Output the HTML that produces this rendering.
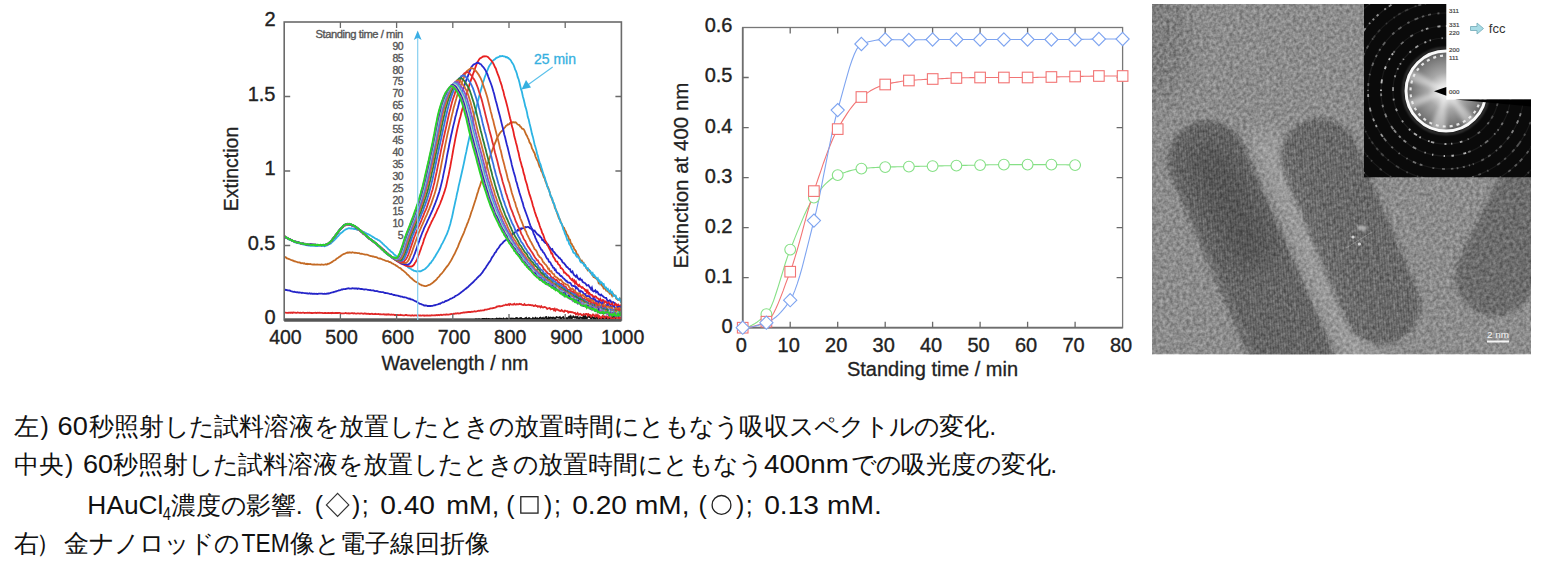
<!DOCTYPE html>
<html><head><meta charset="utf-8"><style>
html,body{margin:0;padding:0;background:#fff;width:1541px;height:565px;overflow:hidden;position:relative;font-family:"Liberation Sans",sans-serif}
.ln{position:absolute;font-size:25px;line-height:36px;color:#111;white-space:nowrap}
.ln sub{font-size:16px;vertical-align:-5px;line-height:0}
</style></head><body>
<svg width="1541" height="565" viewBox="0 0 1541 565" style="position:absolute;left:0;top:0" font-family='"Liberation Sans", sans-serif'><defs>
<clipPath id="clipL"><rect x="284.2" y="22.0" width="337.2" height="298.0"/></clipPath>
<clipPath id="clipT"><rect x="1152.0" y="4.0" width="379.0" height="350.5"/></clipPath>
<clipPath id="clipR"><circle cx="1446" cy="91" r="41"/></clipPath>
<clipPath id="clipI"><rect x="1364" y="4" width="167" height="173.5"/></clipPath>
<filter id="tn" x="0" y="0" width="100%" height="100%" color-interpolation-filters="sRGB"><feTurbulence type="fractalNoise" baseFrequency="0.3" numOctaves="2" seed="9"/><feColorMatrix type="matrix" values="1.6 0 0 0 -0.3  1.6 0 0 0 -0.3  1.6 0 0 0 -0.3  0 0 0 0 1"/></filter>
<filter id="b4" filterUnits="userSpaceOnUse" x="1100" y="0" width="500" height="400"><feGaussianBlur stdDeviation="2.2"/></filter>
<filter id="b10" filterUnits="userSpaceOnUse" x="1100" y="0" width="500" height="400"><feGaussianBlur stdDeviation="10"/></filter>
<filter id="b2" filterUnits="userSpaceOnUse" x="1100" y="0" width="500" height="400"><feGaussianBlur stdDeviation="1.2"/></filter>
<radialGradient id="glow" cx="0.5" cy="0.5" r="0.5"><stop offset="0" stop-color="#fff"/><stop offset="0.2" stop-color="#e0e0e0"/><stop offset="0.45" stop-color="#a8a8a8"/><stop offset="0.8" stop-color="#7a7a7a"/><stop offset="1" stop-color="#5a5a5a"/></radialGradient>
<pattern id="lat" width="2.6" height="2.6" patternUnits="userSpaceOnUse" patternTransform="rotate(-4)"><rect width="1.1" height="2.6" fill="#000"/></pattern>
</defs><g clip-path="url(#clipL)"><path d="M284.2 319.4 L285.0 319.4 L285.9 319.4 L286.7 319.4 L287.6 319.4 L288.4 319.4 L289.3 319.4 L290.1 319.4 L290.9 319.4 L291.8 319.4 L292.6 319.4 L293.5 319.4 L294.3 319.4 L295.2 319.4 L296.0 319.4 L296.8 319.4 L297.7 319.4 L298.5 319.4 L299.4 319.4 L300.2 319.4 L301.1 319.4 L301.9 319.4 L302.7 319.4 L303.6 319.4 L304.4 319.4 L305.3 319.4 L306.1 319.4 L307.0 319.4 L307.8 319.4 L308.6 319.4 L309.5 319.4 L310.3 319.4 L311.2 319.4 L312.0 319.4 L312.9 319.4 L313.7 319.4 L314.5 319.4 L315.4 319.4 L316.2 319.4 L317.1 319.4 L317.9 319.4 L318.8 319.4 L319.6 319.4 L320.4 319.4 L321.3 319.4 L322.1 319.4 L323.0 319.4 L323.8 319.4 L324.7 319.4 L325.5 319.4 L326.3 319.4 L327.2 319.4 L328.0 319.4 L328.9 319.4 L329.7 319.4 L330.6 319.4 L331.4 319.4 L332.3 319.4 L333.1 319.4 L333.9 319.4 L334.8 319.4 L335.6 319.4 L336.5 319.4 L337.3 319.4 L338.2 319.4 L339.0 319.4 L339.8 319.4 L340.7 319.4 L341.5 319.4 L342.4 319.4 L343.2 319.4 L344.1 319.4 L344.9 319.4 L345.7 319.4 L346.6 319.4 L347.4 319.4 L348.3 319.4 L349.1 319.4 L350.0 319.4 L350.8 319.4 L351.6 319.4 L352.5 319.4 L353.3 319.4 L354.2 319.4 L355.0 319.4 L355.9 319.4 L356.7 319.4 L357.5 319.4 L358.4 319.4 L359.2 319.4 L360.1 319.4 L360.9 319.4 L361.8 319.4 L362.6 319.4 L363.4 319.4 L364.3 319.4 L365.1 319.4 L366.0 319.4 L366.8 319.4 L367.7 319.4 L368.5 319.4 L369.3 319.4 L370.2 319.4 L371.0 319.4 L371.9 319.4 L372.7 319.4 L373.6 319.4 L374.4 319.4 L375.2 319.4 L376.1 319.4 L376.9 319.4 L377.8 319.4 L378.6 319.4 L379.5 319.4 L380.3 319.4 L381.1 319.4 L382.0 319.4 L382.8 319.4 L383.7 319.4 L384.5 319.4 L385.4 319.4 L386.2 319.4 L387.0 319.4 L387.9 319.4 L388.7 319.4 L389.6 319.4 L390.4 319.4 L391.3 319.4 L392.1 319.4 L392.9 319.4 L393.8 319.4 L394.6 319.4 L395.5 319.4 L396.3 319.4 L397.2 319.4 L398.0 319.4 L398.8 319.4 L399.7 319.4 L400.5 319.4 L401.4 319.4 L402.2 319.4 L403.1 319.4 L403.9 319.4 L404.7 319.4 L405.6 319.4 L406.4 319.4 L407.3 319.4 L408.1 319.4 L409.0 319.4 L409.8 319.4 L410.6 319.4 L411.5 319.4 L412.3 319.4 L413.2 319.4 L414.0 319.4 L414.9 319.4 L415.7 319.4 L416.6 319.4 L417.4 319.4 L418.2 319.4 L419.1 319.4 L419.9 319.4 L420.8 319.4 L421.6 319.4 L422.5 319.4 L423.3 319.4 L424.1 319.4 L425.0 319.4 L425.8 319.4 L426.7 319.4 L427.5 319.4 L428.4 319.4 L429.2 319.4 L430.0 319.4 L430.9 319.4 L431.7 319.4 L432.6 319.4 L433.4 319.4 L434.3 319.4 L435.1 319.4 L435.9 319.4 L436.8 319.4 L437.6 319.4 L438.5 319.4 L439.3 319.4 L440.2 319.4 L441.0 319.4 L441.8 319.4 L442.7 319.4 L443.5 319.4 L444.4 319.4 L445.2 319.4 L446.1 319.4 L446.9 319.4 L447.7 319.4 L448.6 319.4 L449.4 319.4 L450.3 319.4 L451.1 319.4 L452.0 319.4 L452.8 319.4 L453.6 319.4 L454.5 319.4 L455.3 319.4 L456.2 319.4 L457.0 319.4 L457.9 319.4 L458.7 319.4 L459.5 319.4 L460.4 319.4 L461.2 319.4 L462.1 319.4 L462.9 319.4 L463.8 319.4 L464.6 319.4 L465.4 319.4 L466.3 319.4 L467.1 319.4 L468.0 319.3 L468.8 319.4 L469.7 319.3 L470.5 319.4 L471.3 319.4 L472.2 319.3 L473.0 319.3 L473.9 319.4 L474.7 319.3 L475.6 319.2 L476.4 319.2 L477.2 319.4 L478.1 319.2 L478.9 319.2 L479.8 319.2 L480.6 319.4 L481.5 319.3 L482.3 318.9 L483.1 318.9 L484.0 318.9 L484.8 318.9 L485.7 319.1 L486.5 318.8 L487.4 319.2 L488.2 319.0 L489.0 319.0 L489.9 319.1 L490.7 319.2 L491.6 319.1 L492.4 318.9 L493.3 319.2 L494.1 319.1 L494.9 319.1 L495.8 319.1 L496.6 318.6 L497.5 318.9 L498.3 319.4 L499.2 318.6 L500.0 318.9 L500.9 318.6 L501.7 318.9 L502.5 319.1 L503.4 318.4 L504.2 319.2 L505.1 319.1 L505.9 318.8 L506.8 318.3 L507.6 319.3 L508.4 319.0 L509.3 318.7 L510.1 318.5 L511.0 319.3 L511.8 318.4 L512.7 318.6 L513.5 318.7 L514.3 318.8 L515.2 318.9 L516.0 318.1 L516.9 317.9 L517.7 319.1 L518.6 319.1 L519.4 318.3 L520.2 318.2 L521.1 318.0 L521.9 318.9 L522.8 319.0 L523.6 319.3 L524.5 318.7 L525.3 318.4 L526.1 317.8 L527.0 319.3 L527.8 319.2 L528.7 318.2 L529.5 318.1 L530.4 319.2 L531.2 319.2 L532.0 319.3 L532.9 318.1 L533.7 318.8 L534.6 318.9 L535.4 318.0 L536.3 319.1 L537.1 318.3 L537.9 319.2 L538.8 319.3 L539.6 317.9 L540.5 317.6 L541.3 318.4 L542.2 318.5 L543.0 317.8 L543.8 319.2 L544.7 318.7 L545.5 317.3 L546.4 317.1 L547.2 319.3 L548.1 319.4 L548.9 317.5 L549.7 318.3 L550.6 317.5 L551.4 317.8 L552.3 318.3 L553.1 317.6 L554.0 317.8 L554.8 319.4 L555.6 318.2 L556.5 317.0 L557.3 317.3 L558.2 317.6 L559.0 317.7 L559.9 317.1 L560.7 318.6 L561.5 318.3 L562.4 317.6 L563.2 317.0 L564.1 318.5 L564.9 318.9 L565.8 318.6 L566.6 318.1 L567.4 319.1 L568.3 317.5 L569.1 316.7 L570.0 318.3 L570.8 316.4 L571.7 318.1 L572.5 317.7 L573.3 316.3 L574.2 317.1 L575.0 317.8 L575.9 316.9 L576.7 317.9 L577.6 317.0 L578.4 318.7 L579.2 319.2 L580.1 317.4 L580.9 317.7 L581.8 317.9 L582.6 319.0 L583.5 316.3 L584.3 319.0 L585.2 316.2 L586.0 318.4 L586.8 318.5 L587.7 316.3 L588.5 316.3 L589.4 317.1 L590.2 316.3 L591.1 318.8 L591.9 316.6 L592.7 317.4 L593.6 318.4 L594.4 317.4 L595.3 319.0 L596.1 316.8 L597.0 317.3 L597.8 319.1 L598.6 318.7 L599.5 318.4 L600.3 317.9 L601.2 318.6 L602.0 318.4 L602.9 317.6 L603.7 318.9 L604.5 316.9 L605.4 317.9 L606.2 318.1 L607.1 317.5 L607.9 318.9 L608.8 316.5 L609.6 319.0 L610.4 317.6 L611.3 316.2 L612.1 318.9 L613.0 317.1 L613.8 316.2 L614.7 316.1 L615.5 318.3 L616.3 317.4 L617.2 316.3 L618.0 317.4 L618.9 316.5 L619.7 317.1 L620.6 319.3 L621.4 318.3" stroke="#111" stroke-width="1.8" fill="none"/><path d="M284.2 312.5 L285.0 312.7 L285.9 312.7 L286.7 312.8 L287.6 312.9 L288.4 312.6 L289.3 312.8 L290.1 312.5 L290.9 313.0 L291.8 312.5 L292.6 312.9 L293.5 312.5 L294.3 312.7 L295.2 312.6 L296.0 312.8 L296.8 312.9 L297.7 312.5 L298.5 312.7 L299.4 312.9 L300.2 312.7 L301.1 312.9 L301.9 312.8 L302.7 312.7 L303.6 312.7 L304.4 313.0 L305.3 312.9 L306.1 312.8 L307.0 312.8 L307.8 312.6 L308.6 312.8 L309.5 312.6 L310.3 312.9 L311.2 313.0 L312.0 312.9 L312.9 313.1 L313.7 312.9 L314.5 312.8 L315.4 312.7 L316.2 313.0 L317.1 312.8 L317.9 312.7 L318.8 312.8 L319.6 312.7 L320.4 312.9 L321.3 312.9 L322.1 312.9 L323.0 313.2 L323.8 313.2 L324.7 313.0 L325.5 313.0 L326.3 313.2 L327.2 313.1 L328.0 312.9 L328.9 313.0 L329.7 313.1 L330.6 312.9 L331.4 313.3 L332.3 312.8 L333.1 313.0 L333.9 313.1 L334.8 313.0 L335.6 312.8 L336.5 313.0 L337.3 313.0 L338.2 313.0 L339.0 312.9 L339.8 312.9 L340.7 313.3 L341.5 313.4 L342.4 313.3 L343.2 313.3 L344.1 313.3 L344.9 313.2 L345.7 313.0 L346.6 313.4 L347.4 313.3 L348.3 313.1 L349.1 313.5 L350.0 313.4 L350.8 313.3 L351.6 313.2 L352.5 313.1 L353.3 313.5 L354.2 313.1 L355.0 313.4 L355.9 313.6 L356.7 313.6 L357.5 313.4 L358.4 313.3 L359.2 313.7 L360.1 313.6 L360.9 313.3 L361.8 313.3 L362.6 313.7 L363.4 313.8 L364.3 313.5 L365.1 313.5 L366.0 313.9 L366.8 313.7 L367.7 313.9 L368.5 313.7 L369.3 314.0 L370.2 314.0 L371.0 313.8 L371.9 313.6 L372.7 314.1 L373.6 314.1 L374.4 314.1 L375.2 313.8 L376.1 314.2 L376.9 314.2 L377.8 314.1 L378.6 313.9 L379.5 314.3 L380.3 314.2 L381.1 314.3 L382.0 314.3 L382.8 314.3 L383.7 314.2 L384.5 314.5 L385.4 314.4 L386.2 314.7 L387.0 314.3 L387.9 314.6 L388.7 314.3 L389.6 314.5 L390.4 314.8 L391.3 314.4 L392.1 314.8 L392.9 314.7 L393.8 314.6 L394.6 315.0 L395.5 315.0 L396.3 314.9 L397.2 315.0 L398.0 315.0 L398.8 315.1 L399.7 315.1 L400.5 314.8 L401.4 315.1 L402.2 315.1 L403.1 315.3 L403.9 315.3 L404.7 315.3 L405.6 315.0 L406.4 315.0 L407.3 315.4 L408.1 315.3 L409.0 315.3 L409.8 315.3 L410.6 315.5 L411.5 315.6 L412.3 315.2 L413.2 315.6 L414.0 315.5 L414.9 315.3 L415.7 315.4 L416.6 315.5 L417.4 315.3 L418.2 315.2 L419.1 315.5 L419.9 315.3 L420.8 315.5 L421.6 315.6 L422.5 315.3 L423.3 315.4 L424.1 315.7 L425.0 315.5 L425.8 315.6 L426.7 315.5 L427.5 315.4 L428.4 315.6 L429.2 315.4 L430.0 315.6 L430.9 315.5 L431.7 315.2 L432.6 315.3 L433.4 315.4 L434.3 315.4 L435.1 315.2 L435.9 315.3 L436.8 314.9 L437.6 315.3 L438.5 314.9 L439.3 315.2 L440.2 314.8 L441.0 314.7 L441.8 315.1 L442.7 314.9 L443.5 314.6 L444.4 314.7 L445.2 314.8 L446.1 314.4 L446.9 314.5 L447.7 314.6 L448.6 314.6 L449.4 314.3 L450.3 314.3 L451.1 313.9 L452.0 314.2 L452.8 314.2 L453.6 313.6 L454.5 313.8 L455.3 313.5 L456.2 313.5 L457.0 313.3 L457.9 313.2 L458.7 313.5 L459.5 313.3 L460.4 313.3 L461.2 312.8 L462.1 312.8 L462.9 312.6 L463.8 312.5 L464.6 312.5 L465.4 312.3 L466.3 312.2 L467.1 312.3 L468.0 312.0 L468.8 311.9 L469.7 312.0 L470.5 312.1 L471.3 311.7 L472.2 311.9 L473.0 311.7 L473.9 311.6 L474.7 311.2 L475.6 311.5 L476.4 311.3 L477.2 311.2 L478.1 310.9 L478.9 310.7 L479.8 310.8 L480.6 310.5 L481.5 310.6 L482.3 310.4 L483.1 310.3 L484.0 310.3 L484.8 309.7 L485.7 309.7 L486.5 309.7 L487.4 309.4 L488.2 309.2 L489.0 309.2 L489.9 308.6 L490.7 308.3 L491.6 308.3 L492.4 308.4 L493.3 308.0 L494.1 307.9 L494.9 307.7 L495.8 307.4 L496.6 306.7 L497.5 306.5 L498.3 306.4 L499.2 306.0 L500.0 306.5 L500.9 306.2 L501.7 306.2 L502.5 306.0 L503.4 305.3 L504.2 305.3 L505.1 305.0 L505.9 304.6 L506.8 305.0 L507.6 304.9 L508.4 304.2 L509.3 304.9 L510.1 303.9 L511.0 304.4 L511.8 304.6 L512.7 304.4 L513.5 304.5 L514.3 303.7 L515.2 304.6 L516.0 304.6 L516.9 304.0 L517.7 304.4 L518.6 304.3 L519.4 303.8 L520.2 304.3 L521.1 304.0 L521.9 304.6 L522.8 304.8 L523.6 305.0 L524.5 304.1 L525.3 305.1 L526.1 305.2 L527.0 305.2 L527.8 304.8 L528.7 304.7 L529.5 305.1 L530.4 305.0 L531.2 305.3 L532.0 305.1 L532.9 305.4 L533.7 306.1 L534.6 306.0 L535.4 305.2 L536.3 306.1 L537.1 305.9 L537.9 306.8 L538.8 306.2 L539.6 306.3 L540.5 307.3 L541.3 306.2 L542.2 307.3 L543.0 307.5 L543.8 307.1 L544.7 306.9 L545.5 307.2 L546.4 307.8 L547.2 308.9 L548.1 308.3 L548.9 308.2 L549.7 308.0 L550.6 309.3 L551.4 309.0 L552.3 308.8 L553.1 308.9 L554.0 310.3 L554.8 308.9 L555.6 310.5 L556.5 309.3 L557.3 309.4 L558.2 310.1 L559.0 310.4 L559.9 311.0 L560.7 311.1 L561.5 310.1 L562.4 310.8 L563.2 311.4 L564.1 311.8 L564.9 310.6 L565.8 310.9 L566.6 311.1 L567.4 311.2 L568.3 312.6 L569.1 311.7 L570.0 312.2 L570.8 311.8 L571.7 312.3 L572.5 312.2 L573.3 312.5 L574.2 313.1 L575.0 312.9 L575.9 314.5 L576.7 313.9 L577.6 313.0 L578.4 314.8 L579.2 314.4 L580.1 313.8 L580.9 314.3 L581.8 315.3 L582.6 315.2 L583.5 314.1 L584.3 314.5 L585.2 314.5 L586.0 313.8 L586.8 313.8 L587.7 315.6 L588.5 314.2 L589.4 315.2 L590.2 315.0 L591.1 316.5 L591.9 315.8 L592.7 314.5 L593.6 314.6 L594.4 316.1 L595.3 316.7 L596.1 314.8 L597.0 316.2 L597.8 315.1 L598.6 317.7 L599.5 316.2 L600.3 317.2 L601.2 318.1 L602.0 316.8 L602.9 315.6 L603.7 317.1 L604.5 317.9 L605.4 316.6 L606.2 316.2 L607.1 316.6 L607.9 318.2 L608.8 316.7 L609.6 316.8 L610.4 317.9 L611.3 317.1 L612.1 319.3 L613.0 318.9 L613.8 318.5 L614.7 316.9 L615.5 317.7 L616.3 317.9 L617.2 317.5 L618.0 317.9 L618.9 320.0 L619.7 317.5 L620.6 318.0 L621.4 319.8" stroke="#e02828" stroke-width="1.8" fill="none"/><path d="M284.2 289.3 L285.0 289.6 L285.9 290.1 L286.7 289.9 L287.6 290.4 L288.4 290.4 L289.3 290.5 L290.1 290.7 L290.9 291.1 L291.8 291.3 L292.6 291.7 L293.5 291.8 L294.3 291.7 L295.2 292.1 L296.0 292.1 L296.8 292.4 L297.7 292.2 L298.5 292.6 L299.4 292.4 L300.2 292.7 L301.1 292.7 L301.9 293.0 L302.7 292.7 L303.6 293.0 L304.4 293.2 L305.3 293.2 L306.1 293.4 L307.0 293.2 L307.8 293.6 L308.6 293.6 L309.5 293.2 L310.3 293.7 L311.2 293.4 L312.0 293.8 L312.9 293.6 L313.7 293.9 L314.5 293.7 L315.4 293.8 L316.2 293.7 L317.1 294.0 L317.9 293.9 L318.8 293.6 L319.6 293.6 L320.4 293.6 L321.3 293.7 L322.1 293.6 L323.0 293.8 L323.8 293.9 L324.7 293.6 L325.5 293.8 L326.3 293.9 L327.2 293.4 L328.0 293.7 L328.9 293.2 L329.7 293.4 L330.6 292.8 L331.4 292.7 L332.3 292.3 L333.1 292.3 L333.9 291.9 L334.8 291.8 L335.6 291.3 L336.5 291.3 L337.3 290.8 L338.2 290.7 L339.0 290.2 L339.8 290.4 L340.7 290.0 L341.5 289.5 L342.4 289.6 L343.2 289.2 L344.1 289.1 L344.9 289.1 L345.7 289.0 L346.6 288.6 L347.4 288.6 L348.3 288.2 L349.1 288.5 L350.0 288.6 L350.8 288.6 L351.6 288.5 L352.5 288.2 L353.3 288.3 L354.2 288.5 L355.0 288.5 L355.9 288.5 L356.7 288.5 L357.5 288.9 L358.4 288.5 L359.2 288.6 L360.1 288.9 L360.9 289.0 L361.8 289.0 L362.6 289.1 L363.4 289.3 L364.3 289.5 L365.1 289.3 L366.0 289.3 L366.8 289.5 L367.7 289.8 L368.5 289.9 L369.3 290.1 L370.2 289.9 L371.0 290.3 L371.9 290.4 L372.7 290.4 L373.6 290.5 L374.4 290.8 L375.2 291.1 L376.1 291.1 L376.9 291.0 L377.8 291.5 L378.6 291.6 L379.5 291.8 L380.3 291.9 L381.1 292.1 L382.0 292.2 L382.8 292.2 L383.7 292.4 L384.5 292.9 L385.4 293.0 L386.2 293.2 L387.0 293.2 L387.9 293.3 L388.7 293.5 L389.6 294.0 L390.4 294.2 L391.3 294.0 L392.1 294.4 L392.9 294.5 L393.8 295.0 L394.6 295.0 L395.5 295.3 L396.3 295.4 L397.2 295.7 L398.0 295.6 L398.8 296.1 L399.7 296.1 L400.5 296.5 L401.4 296.6 L402.2 296.7 L403.1 297.2 L403.9 297.3 L404.7 297.2 L405.6 297.5 L406.4 297.7 L407.3 298.1 L408.1 298.4 L409.0 298.8 L409.8 298.6 L410.6 299.4 L411.5 299.3 L412.3 299.6 L413.2 300.0 L414.0 300.5 L414.9 301.0 L415.7 301.5 L416.6 301.7 L417.4 302.3 L418.2 302.8 L419.1 303.4 L419.9 303.8 L420.8 303.9 L421.6 304.5 L422.5 304.6 L423.3 305.0 L424.1 305.5 L425.0 305.5 L425.8 305.5 L426.7 305.6 L427.5 306.1 L428.4 306.0 L429.2 306.0 L430.0 306.0 L430.9 306.0 L431.7 305.9 L432.6 305.9 L433.4 305.5 L434.3 305.1 L435.1 305.3 L435.9 304.8 L436.8 304.7 L437.6 304.5 L438.5 304.2 L439.3 303.6 L440.2 303.7 L441.0 303.1 L441.8 302.8 L442.7 302.2 L443.5 302.3 L444.4 302.0 L445.2 301.1 L446.1 301.0 L446.9 300.6 L447.7 300.3 L448.6 299.9 L449.4 299.4 L450.3 298.8 L451.1 298.7 L452.0 298.2 L452.8 297.7 L453.6 297.3 L454.5 297.0 L455.3 296.0 L456.2 295.6 L457.0 295.2 L457.9 294.7 L458.7 294.3 L459.5 293.5 L460.4 292.9 L461.2 292.3 L462.1 291.6 L462.9 291.0 L463.8 290.3 L464.6 289.6 L465.4 288.9 L466.3 288.4 L467.1 287.6 L468.0 287.1 L468.8 286.2 L469.7 285.3 L470.5 284.7 L471.3 283.7 L472.2 283.0 L473.0 282.3 L473.9 281.4 L474.7 280.4 L475.6 279.6 L476.4 278.8 L477.2 277.8 L478.1 277.0 L478.9 276.1 L479.8 275.5 L480.6 274.6 L481.5 273.5 L482.3 272.6 L483.1 271.2 L484.0 269.9 L484.8 268.8 L485.7 267.8 L486.5 266.3 L487.4 265.1 L488.2 263.8 L489.0 262.5 L489.9 261.4 L490.7 260.1 L491.6 258.2 L492.4 256.8 L493.3 255.8 L494.1 254.4 L494.9 252.9 L495.8 252.1 L496.6 250.4 L497.5 249.1 L498.3 248.3 L499.2 246.9 L500.0 245.6 L500.9 244.5 L501.7 243.9 L502.5 243.2 L503.4 241.9 L504.2 241.2 L505.1 240.6 L505.9 239.9 L506.8 239.5 L507.6 238.0 L508.4 237.8 L509.3 237.4 L510.1 236.6 L511.0 235.4 L511.8 235.3 L512.7 233.8 L513.5 233.2 L514.3 233.3 L515.2 232.0 L516.0 231.8 L516.9 231.2 L517.7 230.0 L518.6 230.4 L519.4 229.6 L520.2 228.5 L521.1 229.2 L521.9 228.2 L522.8 228.3 L523.6 228.1 L524.5 227.8 L525.3 227.1 L526.1 227.4 L527.0 227.0 L527.8 226.8 L528.7 227.0 L529.5 227.8 L530.4 228.6 L531.2 228.5 L532.0 229.8 L532.9 230.0 L533.7 230.8 L534.6 230.5 L535.4 231.9 L536.3 233.0 L537.1 234.0 L537.9 234.5 L538.8 235.4 L539.6 235.8 L540.5 237.3 L541.3 237.5 L542.2 240.0 L543.0 240.0 L543.8 241.3 L544.7 242.4 L545.5 243.0 L546.4 242.9 L547.2 244.8 L548.1 244.6 L548.9 246.2 L549.7 247.3 L550.6 248.7 L551.4 249.6 L552.3 249.1 L553.1 251.3 L554.0 252.0 L554.8 252.8 L555.6 254.3 L556.5 255.0 L557.3 255.9 L558.2 256.5 L559.0 258.0 L559.9 258.1 L560.7 259.4 L561.5 259.9 L562.4 261.9 L563.2 262.8 L564.1 263.3 L564.9 264.4 L565.8 265.5 L566.6 266.9 L567.4 267.1 L568.3 268.3 L569.1 269.2 L570.0 269.2 L570.8 271.7 L571.7 272.3 L572.5 271.5 L573.3 273.7 L574.2 275.2 L575.0 275.6 L575.9 276.7 L576.7 275.4 L577.6 277.7 L578.4 278.7 L579.2 279.6 L580.1 278.6 L580.9 279.9 L581.8 279.8 L582.6 281.8 L583.5 282.4 L584.3 282.8 L585.2 283.2 L586.0 284.2 L586.8 285.5 L587.7 285.4 L588.5 285.1 L589.4 286.8 L590.2 287.7 L591.1 289.3 L591.9 287.6 L592.7 290.8 L593.6 291.5 L594.4 291.2 L595.3 290.3 L596.1 292.4 L597.0 291.5 L597.8 292.2 L598.6 294.3 L599.5 294.3 L600.3 295.4 L601.2 294.6 L602.0 295.6 L602.9 296.2 L603.7 297.0 L604.5 297.5 L605.4 297.8 L606.2 297.9 L607.1 300.1 L607.9 301.0 L608.8 301.0 L609.6 300.2 L610.4 300.5 L611.3 302.3 L612.1 302.4 L613.0 302.1 L613.8 302.6 L614.7 303.1 L615.5 304.3 L616.3 304.3 L617.2 306.4 L618.0 305.6 L618.9 307.6 L619.7 306.6 L620.6 308.1 L621.4 306.0" stroke="#2424c8" stroke-width="1.8" fill="none"/><path d="M284.2 256.5 L285.0 257.1 L285.9 257.4 L286.7 258.3 L287.6 258.4 L288.4 258.9 L289.3 259.2 L290.1 259.5 L290.9 259.8 L291.8 260.1 L292.6 260.6 L293.5 260.7 L294.3 261.3 L295.2 261.4 L296.0 261.7 L296.8 261.8 L297.7 262.4 L298.5 262.3 L299.4 262.5 L300.2 262.7 L301.1 263.2 L301.9 263.1 L302.7 263.1 L303.6 263.6 L304.4 263.3 L305.3 263.8 L306.1 264.0 L307.0 263.8 L307.8 264.3 L308.6 264.0 L309.5 264.2 L310.3 264.0 L311.2 264.4 L312.0 264.3 L312.9 264.6 L313.7 264.5 L314.5 264.4 L315.4 264.7 L316.2 264.6 L317.1 264.4 L317.9 264.6 L318.8 264.7 L319.6 264.7 L320.4 264.8 L321.3 264.4 L322.1 264.6 L323.0 264.7 L323.8 264.8 L324.7 264.5 L325.5 264.3 L326.3 264.5 L327.2 264.3 L328.0 263.7 L328.9 263.8 L329.7 263.3 L330.6 262.9 L331.4 262.3 L332.3 261.9 L333.1 261.1 L333.9 260.6 L334.8 260.3 L335.6 259.8 L336.5 258.7 L337.3 258.2 L338.2 257.8 L339.0 257.0 L339.8 256.7 L340.7 256.0 L341.5 255.3 L342.4 254.8 L343.2 254.3 L344.1 253.9 L344.9 253.6 L345.7 253.2 L346.6 252.8 L347.4 252.5 L348.3 252.7 L349.1 252.3 L350.0 252.6 L350.8 252.5 L351.6 252.7 L352.5 252.3 L353.3 252.5 L354.2 252.8 L355.0 252.6 L355.9 252.8 L356.7 252.9 L357.5 253.1 L358.4 253.2 L359.2 253.1 L360.1 253.6 L360.9 253.8 L361.8 253.6 L362.6 254.0 L363.4 254.2 L364.3 254.4 L365.1 254.6 L366.0 254.7 L366.8 254.7 L367.7 254.8 L368.5 255.3 L369.3 255.7 L370.2 255.8 L371.0 256.1 L371.9 256.2 L372.7 256.6 L373.6 256.5 L374.4 256.8 L375.2 257.0 L376.1 257.2 L376.9 257.4 L377.8 258.0 L378.6 258.4 L379.5 258.5 L380.3 258.5 L381.1 258.8 L382.0 259.2 L382.8 259.6 L383.7 259.8 L384.5 260.3 L385.4 260.6 L386.2 261.0 L387.0 261.2 L387.9 261.1 L388.7 261.6 L389.6 262.1 L390.4 262.2 L391.3 262.8 L392.1 263.4 L392.9 263.6 L393.8 264.2 L394.6 264.6 L395.5 264.9 L396.3 265.9 L397.2 266.0 L398.0 266.9 L398.8 267.5 L399.7 267.9 L400.5 268.3 L401.4 269.2 L402.2 270.0 L403.1 270.4 L403.9 271.2 L404.7 271.9 L405.6 272.7 L406.4 273.4 L407.3 274.5 L408.1 275.0 L409.0 276.0 L409.8 276.8 L410.6 277.8 L411.5 278.1 L412.3 279.0 L413.2 279.8 L414.0 280.6 L414.9 281.2 L415.7 281.7 L416.6 282.1 L417.4 282.5 L418.2 283.2 L419.1 283.8 L419.9 284.4 L420.8 284.5 L421.6 285.3 L422.5 285.3 L423.3 285.7 L424.1 286.0 L425.0 286.2 L425.8 286.2 L426.7 286.0 L427.5 285.5 L428.4 285.1 L429.2 284.9 L430.0 284.7 L430.9 283.9 L431.7 283.4 L432.6 282.7 L433.4 282.2 L434.3 281.3 L435.1 280.8 L435.9 280.0 L436.8 279.2 L437.6 277.9 L438.5 277.1 L439.3 276.3 L440.2 274.9 L441.0 274.1 L441.8 273.3 L442.7 272.3 L443.5 271.2 L444.4 269.9 L445.2 268.9 L446.1 267.6 L446.9 266.6 L447.7 265.6 L448.6 264.5 L449.4 263.1 L450.3 261.7 L451.1 260.4 L452.0 258.8 L452.8 257.2 L453.6 255.7 L454.5 254.0 L455.3 252.4 L456.2 250.4 L457.0 248.7 L457.9 246.9 L458.7 244.6 L459.5 242.7 L460.4 240.7 L461.2 238.6 L462.1 236.6 L462.9 234.8 L463.8 232.8 L464.6 230.7 L465.4 228.4 L466.3 226.3 L467.1 224.1 L468.0 222.1 L468.8 219.7 L469.7 217.5 L470.5 214.9 L471.3 212.2 L472.2 210.0 L473.0 207.4 L473.9 204.7 L474.7 202.2 L475.6 199.5 L476.4 196.9 L477.2 194.1 L478.1 191.6 L478.9 188.6 L479.8 186.4 L480.6 183.8 L481.5 181.1 L482.3 178.3 L483.1 175.8 L484.0 173.6 L484.8 171.4 L485.7 168.7 L486.5 166.7 L487.4 164.0 L488.2 162.0 L489.0 159.6 L489.9 157.3 L490.7 154.5 L491.6 152.0 L492.4 149.7 L493.3 147.4 L494.1 145.4 L494.9 143.4 L495.8 141.4 L496.6 139.1 L497.5 137.1 L498.3 135.9 L499.2 134.3 L500.0 133.0 L500.9 131.8 L501.7 131.3 L502.5 130.4 L503.4 129.3 L504.2 128.1 L505.1 127.3 L505.9 125.9 L506.8 125.5 L507.6 124.5 L508.4 124.5 L509.3 124.1 L510.1 122.8 L511.0 122.8 L511.8 122.9 L512.7 122.2 L513.5 122.2 L514.3 122.6 L515.2 122.2 L516.0 122.6 L516.9 123.6 L517.7 124.4 L518.6 125.0 L519.4 125.1 L520.2 126.5 L521.1 127.1 L521.9 128.5 L522.8 128.9 L523.6 129.3 L524.5 130.6 L525.3 132.7 L526.1 134.5 L527.0 135.9 L527.8 137.8 L528.7 139.5 L529.5 142.4 L530.4 143.6 L531.2 145.2 L532.0 148.4 L532.9 149.9 L533.7 151.8 L534.6 153.2 L535.4 156.3 L536.3 158.5 L537.1 160.1 L537.9 161.3 L538.8 164.4 L539.6 166.7 L540.5 167.9 L541.3 171.2 L542.2 172.3 L543.0 174.8 L543.8 177.0 L544.7 178.6 L545.5 181.5 L546.4 183.5 L547.2 186.1 L548.1 187.5 L548.9 189.9 L549.7 192.3 L550.6 196.0 L551.4 197.7 L552.3 199.9 L553.1 202.3 L554.0 203.8 L554.8 207.6 L555.6 209.0 L556.5 211.0 L557.3 213.8 L558.2 216.2 L559.0 218.6 L559.9 219.2 L560.7 221.8 L561.5 223.5 L562.4 225.6 L563.2 227.3 L564.1 227.8 L564.9 230.2 L565.8 231.5 L566.6 234.1 L567.4 235.1 L568.3 236.6 L569.1 239.8 L570.0 239.7 L570.8 243.2 L571.7 243.8 L572.5 245.8 L573.3 246.6 L574.2 249.1 L575.0 249.9 L575.9 251.2 L576.7 254.1 L577.6 254.3 L578.4 255.8 L579.2 257.6 L580.1 259.4 L580.9 260.8 L581.8 260.6 L582.6 262.5 L583.5 262.6 L584.3 265.3 L585.2 265.1 L586.0 267.8 L586.8 268.6 L587.7 270.2 L588.5 269.3 L589.4 270.2 L590.2 272.4 L591.1 273.6 L591.9 273.4 L592.7 275.4 L593.6 277.1 L594.4 277.1 L595.3 278.1 L596.1 278.5 L597.0 279.5 L597.8 279.7 L598.6 282.8 L599.5 281.7 L600.3 284.4 L601.2 284.1 L602.0 285.6 L602.9 286.5 L603.7 288.6 L604.5 288.7 L605.4 288.6 L606.2 290.7 L607.1 290.7 L607.9 291.7 L608.8 291.8 L609.6 293.5 L610.4 292.7 L611.3 294.4 L612.1 295.9 L613.0 293.8 L613.8 295.0 L614.7 295.6 L615.5 295.9 L616.3 298.6 L617.2 299.1 L618.0 299.9 L618.9 299.7 L619.7 298.6 L620.6 300.9 L621.4 298.6" stroke="#c46a24" stroke-width="1.8" fill="none"/><path d="M284.2 236.0 L285.0 236.8 L285.9 237.7 L286.7 238.0 L287.6 238.7 L288.4 239.1 L289.3 239.6 L290.1 239.9 L290.9 240.1 L291.8 240.9 L292.6 240.9 L293.5 241.6 L294.3 242.1 L295.2 242.3 L296.0 242.6 L296.8 243.0 L297.7 243.1 L298.5 243.2 L299.4 243.6 L300.2 243.6 L301.1 244.0 L301.9 244.1 L302.7 244.4 L303.6 244.6 L304.4 244.5 L305.3 245.0 L306.1 244.9 L307.0 245.3 L307.8 245.4 L308.6 245.6 L309.5 245.3 L310.3 245.8 L311.2 245.9 L312.0 245.8 L312.9 245.9 L313.7 245.8 L314.5 245.7 L315.4 246.1 L316.2 246.1 L317.1 246.1 L317.9 245.8 L318.8 245.7 L319.6 245.7 L320.4 245.7 L321.3 246.1 L322.1 245.8 L323.0 245.9 L323.8 246.0 L324.7 246.2 L325.5 245.9 L326.3 245.7 L327.2 245.3 L328.0 245.0 L328.9 244.3 L329.7 243.8 L330.6 243.7 L331.4 242.8 L332.3 241.9 L333.1 241.4 L333.9 240.5 L334.8 239.6 L335.6 238.7 L336.5 238.0 L337.3 236.7 L338.2 236.1 L339.0 235.0 L339.8 234.2 L340.7 233.3 L341.5 232.7 L342.4 232.0 L343.2 231.3 L344.1 230.4 L344.9 230.0 L345.7 229.4 L346.6 229.1 L347.4 228.7 L348.3 228.4 L349.1 228.1 L350.0 228.3 L350.8 228.6 L351.6 228.3 L352.5 228.5 L353.3 228.9 L354.2 229.0 L355.0 228.8 L355.9 229.3 L356.7 229.6 L357.5 229.9 L358.4 229.9 L359.2 230.0 L360.1 230.3 L360.9 230.9 L361.8 231.0 L362.6 231.7 L363.4 232.0 L364.3 232.2 L365.1 232.8 L366.0 233.0 L366.8 233.7 L367.7 233.9 L368.5 234.4 L369.3 234.8 L370.2 235.3 L371.0 235.8 L371.9 236.3 L372.7 236.9 L373.6 237.4 L374.4 237.8 L375.2 238.5 L376.1 238.8 L376.9 239.1 L377.8 239.9 L378.6 240.1 L379.5 240.8 L380.3 241.3 L381.1 242.1 L382.0 242.9 L382.8 243.9 L383.7 244.5 L384.5 245.5 L385.4 246.1 L386.2 246.8 L387.0 247.7 L387.9 248.6 L388.7 249.6 L389.6 250.0 L390.4 251.1 L391.3 251.7 L392.1 252.3 L392.9 252.9 L393.8 254.2 L394.6 254.8 L395.5 255.5 L396.3 256.2 L397.2 257.2 L398.0 258.2 L398.8 258.8 L399.7 259.9 L400.5 260.6 L401.4 261.3 L402.2 262.2 L403.1 263.2 L403.9 264.0 L404.7 264.5 L405.6 265.2 L406.4 266.0 L407.3 266.3 L408.1 267.3 L409.0 267.9 L409.8 268.2 L410.6 268.8 L411.5 269.3 L412.3 270.0 L413.2 270.2 L414.0 270.8 L414.9 270.9 L415.7 271.1 L416.6 271.5 L417.4 271.2 L418.2 271.2 L419.1 271.3 L419.9 271.1 L420.8 271.3 L421.6 270.8 L422.5 270.4 L423.3 269.8 L424.1 269.5 L425.0 268.9 L425.8 268.3 L426.7 267.3 L427.5 266.6 L428.4 265.6 L429.2 264.6 L430.0 263.4 L430.9 262.8 L431.7 261.3 L432.6 260.5 L433.4 259.1 L434.3 257.6 L435.1 256.5 L435.9 255.0 L436.8 253.5 L437.6 252.3 L438.5 250.6 L439.3 249.2 L440.2 247.8 L441.0 245.8 L441.8 244.2 L442.7 242.9 L443.5 241.2 L444.4 239.4 L445.2 237.6 L446.1 235.7 L446.9 234.2 L447.7 231.9 L448.6 229.5 L449.4 226.8 L450.3 223.9 L451.1 220.5 L452.0 217.2 L452.8 213.5 L453.6 209.5 L454.5 205.5 L455.3 201.8 L456.2 197.9 L457.0 193.7 L457.9 190.1 L458.7 185.9 L459.5 182.6 L460.4 178.8 L461.2 175.3 L462.1 171.2 L462.9 167.7 L463.8 163.6 L464.6 159.7 L465.4 155.6 L466.3 151.9 L467.1 147.7 L468.0 143.6 L468.8 139.9 L469.7 136.0 L470.5 131.9 L471.3 127.9 L472.2 124.4 L473.0 120.4 L473.9 117.1 L474.7 113.6 L475.6 110.4 L476.4 107.2 L477.2 103.9 L478.1 100.5 L478.9 97.2 L479.8 94.0 L480.6 91.0 L481.5 88.1 L482.3 84.9 L483.1 82.1 L484.0 79.7 L484.8 77.0 L485.7 74.9 L486.5 72.5 L487.4 70.5 L488.2 68.4 L489.0 66.5 L489.9 65.0 L490.7 64.1 L491.6 62.4 L492.4 61.2 L493.3 60.4 L494.1 59.8 L494.9 59.2 L495.8 58.3 L496.6 57.9 L497.5 57.4 L498.3 57.1 L499.2 56.7 L500.0 56.1 L500.9 56.4 L501.7 56.2 L502.5 56.0 L503.4 56.4 L504.2 56.4 L505.1 56.6 L505.9 57.3 L506.8 57.1 L507.6 57.8 L508.4 57.9 L509.3 59.1 L510.1 59.5 L511.0 60.7 L511.8 62.3 L512.7 63.6 L513.5 64.8 L514.3 66.9 L515.2 69.7 L516.0 71.1 L516.9 73.8 L517.7 77.1 L518.6 79.2 L519.4 82.2 L520.2 85.7 L521.1 89.4 L521.9 91.8 L522.8 96.2 L523.6 99.1 L524.5 102.8 L525.3 106.4 L526.1 108.8 L527.0 112.4 L527.8 117.1 L528.7 119.4 L529.5 123.2 L530.4 126.7 L531.2 130.2 L532.0 134.1 L532.9 136.9 L533.7 140.4 L534.6 144.5 L535.4 146.9 L536.3 150.1 L537.1 153.7 L537.9 156.1 L538.8 159.9 L539.6 162.3 L540.5 164.3 L541.3 167.3 L542.2 170.0 L543.0 172.9 L543.8 175.2 L544.7 177.3 L545.5 180.3 L546.4 182.8 L547.2 186.1 L548.1 188.7 L548.9 189.8 L549.7 192.5 L550.6 195.8 L551.4 197.0 L552.3 198.8 L553.1 202.7 L554.0 203.3 L554.8 206.0 L555.6 209.0 L556.5 211.6 L557.3 212.7 L558.2 214.7 L559.0 217.4 L559.9 220.2 L560.7 222.5 L561.5 223.5 L562.4 225.8 L563.2 229.2 L564.1 230.8 L564.9 233.7 L565.8 235.4 L566.6 237.8 L567.4 240.4 L568.3 240.4 L569.1 243.8 L570.0 245.0 L570.8 246.4 L571.7 248.9 L572.5 250.0 L573.3 252.4 L574.2 253.2 L575.0 253.2 L575.9 255.4 L576.7 256.7 L577.6 256.4 L578.4 257.8 L579.2 258.3 L580.1 261.2 L580.9 262.3 L581.8 262.3 L582.6 263.3 L583.5 263.4 L584.3 265.5 L585.2 265.0 L586.0 267.5 L586.8 268.3 L587.7 268.1 L588.5 270.1 L589.4 271.3 L590.2 271.1 L591.1 272.4 L591.9 274.4 L592.7 273.2 L593.6 275.8 L594.4 275.3 L595.3 277.0 L596.1 277.4 L597.0 279.1 L597.8 278.3 L598.6 280.9 L599.5 280.5 L600.3 283.2 L601.2 282.0 L602.0 282.7 L602.9 284.5 L603.7 284.1 L604.5 286.6 L605.4 287.8 L606.2 287.6 L607.1 289.6 L607.9 289.0 L608.8 291.1 L609.6 291.8 L610.4 290.5 L611.3 292.9 L612.1 292.1 L613.0 294.5 L613.8 296.0 L614.7 295.4 L615.5 295.6 L616.3 298.0 L617.2 298.4 L618.0 299.4 L618.9 299.8 L619.7 298.8 L620.6 301.0 L621.4 299.5" stroke="#2cb4e4" stroke-width="1.8" fill="none"/><path d="M284.2 236.3 L285.0 236.6 L285.9 237.3 L286.7 237.8 L287.6 238.3 L288.4 238.6 L289.3 239.2 L290.1 239.4 L290.9 240.1 L291.8 240.6 L292.6 240.7 L293.5 241.2 L294.3 241.5 L295.2 241.4 L296.0 241.8 L296.8 242.3 L297.7 242.5 L298.5 242.7 L299.4 243.0 L300.2 243.2 L301.1 243.5 L301.9 243.6 L302.7 243.8 L303.6 243.6 L304.4 243.8 L305.3 243.8 L306.1 244.1 L307.0 244.5 L307.8 244.4 L308.6 244.3 L309.5 244.5 L310.3 244.5 L311.2 244.9 L312.0 245.0 L312.9 244.6 L313.7 244.9 L314.5 244.7 L315.4 244.9 L316.2 245.1 L317.1 244.9 L317.9 245.0 L318.8 245.2 L319.6 244.9 L320.4 244.8 L321.3 244.9 L322.1 245.0 L323.0 244.9 L323.8 244.9 L324.7 245.3 L325.5 244.8 L326.3 245.0 L327.2 244.6 L328.0 243.8 L328.9 243.4 L329.7 242.4 L330.6 241.5 L331.4 240.7 L332.3 240.1 L333.1 239.0 L333.9 237.6 L334.8 236.6 L335.6 235.6 L336.5 234.6 L337.3 233.5 L338.2 232.3 L339.0 231.3 L339.8 230.3 L340.7 229.0 L341.5 228.4 L342.4 227.5 L343.2 226.7 L344.1 226.0 L344.9 225.5 L345.7 225.3 L346.6 224.8 L347.4 224.5 L348.3 224.4 L349.1 224.6 L350.0 225.0 L350.8 225.0 L351.6 225.5 L352.5 225.8 L353.3 225.9 L354.2 226.6 L355.0 227.0 L355.9 227.6 L356.7 228.1 L357.5 228.8 L358.4 229.7 L359.2 230.2 L360.1 230.7 L360.9 231.5 L361.8 232.1 L362.6 233.1 L363.4 233.9 L364.3 234.4 L365.1 235.1 L366.0 235.9 L366.8 236.5 L367.7 237.5 L368.5 237.8 L369.3 238.6 L370.2 239.2 L371.0 239.9 L371.9 240.8 L372.7 241.0 L373.6 241.6 L374.4 242.1 L375.2 242.8 L376.1 243.5 L376.9 244.4 L377.8 245.2 L378.6 245.6 L379.5 246.1 L380.3 247.0 L381.1 247.8 L382.0 248.4 L382.8 249.4 L383.7 250.0 L384.5 250.8 L385.4 251.6 L386.2 252.3 L387.0 252.7 L387.9 253.4 L388.7 254.2 L389.6 254.8 L390.4 255.8 L391.3 256.6 L392.1 257.0 L392.9 258.0 L393.8 258.8 L394.6 259.2 L395.5 259.6 L396.3 260.5 L397.2 261.1 L398.0 261.5 L398.8 262.2 L399.7 262.6 L400.5 263.3 L401.4 263.8 L402.2 264.0 L403.1 264.4 L403.9 264.7 L404.7 265.2 L405.6 265.7 L406.4 265.7 L407.3 266.2 L408.1 266.4 L409.0 266.4 L409.8 266.3 L410.6 266.6 L411.5 266.5 L412.3 266.1 L413.2 265.5 L414.0 264.6 L414.9 263.1 L415.7 261.9 L416.6 260.1 L417.4 258.4 L418.2 256.0 L419.1 254.0 L419.9 251.5 L420.8 249.1 L421.6 246.5 L422.5 244.5 L423.3 242.0 L424.1 239.1 L425.0 237.0 L425.8 234.6 L426.7 232.6 L427.5 230.8 L428.4 228.6 L429.2 227.0 L430.0 225.1 L430.9 223.3 L431.7 221.5 L432.6 219.8 L433.4 218.1 L434.3 216.6 L435.1 214.6 L435.9 213.2 L436.8 211.0 L437.6 209.1 L438.5 207.3 L439.3 205.5 L440.2 203.5 L441.0 201.1 L441.8 199.4 L442.7 196.6 L443.5 194.5 L444.4 191.9 L445.2 189.3 L446.1 186.2 L446.9 182.6 L447.7 178.7 L448.6 175.0 L449.4 170.9 L450.3 166.5 L451.1 161.8 L452.0 157.2 L452.8 152.5 L453.6 147.9 L454.5 143.3 L455.3 138.9 L456.2 134.5 L457.0 130.5 L457.9 126.5 L458.7 123.1 L459.5 119.7 L460.4 116.8 L461.2 113.2 L462.1 110.1 L462.9 107.3 L463.8 104.5 L464.6 101.5 L465.4 98.5 L466.3 95.4 L467.1 92.6 L468.0 89.7 L468.8 86.7 L469.7 83.9 L470.5 81.4 L471.3 79.1 L472.2 76.6 L473.0 74.0 L473.9 71.9 L474.7 69.3 L475.6 66.9 L476.4 64.7 L477.2 62.6 L478.1 61.1 L478.9 59.8 L479.8 58.5 L480.6 58.2 L481.5 57.6 L482.3 57.0 L483.1 56.5 L484.0 56.5 L484.8 56.2 L485.7 56.4 L486.5 56.3 L487.4 56.7 L488.2 57.2 L489.0 58.2 L489.9 59.1 L490.7 59.8 L491.6 61.0 L492.4 62.1 L493.3 63.5 L494.1 65.2 L494.9 67.0 L495.8 68.5 L496.6 70.9 L497.5 73.4 L498.3 75.4 L499.2 77.8 L500.0 80.5 L500.9 83.1 L501.7 85.4 L502.5 88.7 L503.4 91.4 L504.2 95.3 L505.1 98.3 L505.9 101.0 L506.8 104.5 L507.6 107.6 L508.4 111.1 L509.3 114.9 L510.1 118.3 L511.0 121.5 L511.8 125.8 L512.7 128.6 L513.5 132.0 L514.3 136.3 L515.2 139.4 L516.0 142.7 L516.9 145.9 L517.7 149.7 L518.6 153.0 L519.4 157.0 L520.2 160.2 L521.1 163.3 L521.9 166.4 L522.8 169.0 L523.6 173.1 L524.5 175.6 L525.3 179.6 L526.1 182.0 L527.0 184.7 L527.8 188.3 L528.7 191.4 L529.5 194.4 L530.4 196.9 L531.2 199.6 L532.0 202.0 L532.9 205.7 L533.7 207.9 L534.6 211.3 L535.4 213.6 L536.3 216.4 L537.1 218.0 L537.9 221.0 L538.8 222.9 L539.6 225.5 L540.5 228.1 L541.3 229.9 L542.2 233.0 L543.0 234.2 L543.8 236.5 L544.7 239.3 L545.5 241.0 L546.4 242.5 L547.2 244.4 L548.1 246.1 L548.9 247.8 L549.7 249.4 L550.6 251.1 L551.4 253.5 L552.3 253.5 L553.1 256.6 L554.0 257.7 L554.8 258.9 L555.6 260.9 L556.5 261.7 L557.3 261.7 L558.2 264.2 L559.0 264.7 L559.9 265.5 L560.7 268.2 L561.5 268.2 L562.4 269.2 L563.2 269.9 L564.1 272.6 L564.9 272.4 L565.8 273.5 L566.6 274.2 L567.4 275.4 L568.3 275.4 L569.1 276.4 L570.0 278.2 L570.8 278.9 L571.7 280.0 L572.5 279.2 L573.3 281.3 L574.2 280.4 L575.0 283.3 L575.9 281.7 L576.7 284.0 L577.6 284.8 L578.4 285.9 L579.2 284.9 L580.1 286.4 L580.9 286.7 L581.8 287.8 L582.6 287.3 L583.5 288.5 L584.3 288.7 L585.2 290.5 L586.0 290.0 L586.8 292.3 L587.7 290.8 L588.5 293.7 L589.4 293.0 L590.2 294.4 L591.1 294.9 L591.9 294.9 L592.7 296.7 L593.6 296.4 L594.4 297.2 L595.3 296.3 L596.1 296.7 L597.0 298.0 L597.8 298.2 L598.6 299.3 L599.5 300.5 L600.3 299.0 L601.2 300.7 L602.0 301.1 L602.9 299.9 L603.7 300.3 L604.5 302.5 L605.4 301.4 L606.2 301.9 L607.1 303.6 L607.9 303.2 L608.8 302.4 L609.6 304.2 L610.4 304.4 L611.3 304.5 L612.1 303.4 L613.0 306.0 L613.8 306.1 L614.7 304.9 L615.5 303.8 L616.3 304.8 L617.2 305.6 L618.0 304.7 L618.9 306.8 L619.7 305.6 L620.6 305.3 L621.4 306.7" stroke="#e82020" stroke-width="1.8" fill="none"/><path d="M284.2 236.4 L285.0 236.9 L285.9 237.2 L286.7 237.6 L287.6 238.5 L288.4 238.6 L289.3 239.1 L290.1 239.4 L290.9 240.0 L291.8 240.2 L292.6 240.7 L293.5 241.2 L294.3 241.3 L295.2 241.5 L296.0 241.7 L296.8 242.4 L297.7 242.7 L298.5 242.4 L299.4 243.0 L300.2 243.2 L301.1 243.5 L301.9 243.6 L302.7 243.8 L303.6 243.9 L304.4 243.9 L305.3 244.3 L306.1 244.4 L307.0 244.3 L307.8 244.2 L308.6 244.4 L309.5 244.6 L310.3 244.8 L311.2 244.6 L312.0 244.6 L312.9 244.8 L313.7 244.9 L314.5 245.1 L315.4 244.7 L316.2 245.1 L317.1 245.0 L317.9 244.9 L318.8 244.8 L319.6 245.2 L320.4 244.8 L321.3 244.9 L322.1 245.2 L323.0 245.1 L323.8 244.8 L324.7 245.0 L325.5 245.1 L326.3 244.5 L327.2 244.3 L328.0 243.9 L328.9 243.5 L329.7 242.7 L330.6 241.7 L331.4 240.8 L332.3 239.7 L333.1 239.0 L333.9 237.7 L334.8 236.8 L335.6 235.3 L336.5 234.4 L337.3 233.1 L338.2 232.2 L339.0 231.0 L339.8 230.2 L340.7 229.2 L341.5 228.3 L342.4 227.3 L343.2 226.6 L344.1 225.9 L344.9 225.2 L345.7 225.2 L346.6 224.4 L347.4 224.2 L348.3 224.6 L349.1 224.4 L350.0 224.9 L350.8 224.9 L351.6 225.4 L352.5 225.7 L353.3 225.8 L354.2 226.4 L355.0 227.0 L355.9 227.7 L356.7 228.2 L357.5 228.5 L358.4 229.5 L359.2 229.9 L360.1 230.4 L360.9 231.6 L361.8 232.2 L362.6 232.8 L363.4 233.7 L364.3 234.1 L365.1 234.8 L366.0 235.6 L366.8 236.7 L367.7 237.1 L368.5 238.0 L369.3 238.7 L370.2 239.2 L371.0 240.0 L371.9 240.4 L372.7 241.4 L373.6 241.6 L374.4 242.5 L375.2 242.9 L376.1 243.5 L376.9 244.1 L377.8 245.2 L378.6 245.6 L379.5 246.5 L380.3 247.0 L381.1 248.1 L382.0 248.5 L382.8 249.2 L383.7 249.9 L384.5 251.0 L385.4 251.8 L386.2 252.6 L387.0 253.0 L387.9 253.7 L388.7 254.4 L389.6 255.1 L390.4 256.1 L391.3 256.6 L392.1 257.6 L392.9 258.2 L393.8 258.8 L394.6 259.0 L395.5 260.1 L396.3 260.5 L397.2 260.9 L398.0 261.5 L398.8 261.9 L399.7 262.3 L400.5 262.6 L401.4 263.1 L402.2 263.6 L403.1 264.0 L403.9 264.1 L404.7 264.2 L405.6 264.3 L406.4 264.4 L407.3 264.6 L408.1 264.7 L409.0 264.0 L409.8 263.6 L410.6 262.4 L411.5 261.1 L412.3 259.5 L413.2 257.6 L414.0 255.5 L414.9 253.4 L415.7 251.0 L416.6 248.7 L417.4 246.1 L418.2 243.6 L419.1 241.4 L419.9 238.9 L420.8 236.6 L421.6 234.5 L422.5 232.2 L423.3 230.3 L424.1 228.2 L425.0 226.3 L425.8 224.6 L426.7 222.9 L427.5 220.9 L428.4 219.2 L429.2 217.4 L430.0 215.7 L430.9 213.6 L431.7 211.8 L432.6 209.8 L433.4 207.9 L434.3 205.7 L435.1 203.7 L435.9 201.5 L436.8 199.1 L437.6 196.8 L438.5 194.1 L439.3 191.7 L440.2 188.6 L441.0 185.4 L441.8 182.1 L442.7 178.4 L443.5 174.1 L444.4 169.9 L445.2 166.0 L446.1 161.3 L446.9 156.7 L447.7 152.5 L448.6 148.3 L449.4 143.7 L450.3 139.5 L451.1 135.5 L452.0 131.7 L452.8 128.0 L453.6 124.6 L454.5 121.1 L455.3 117.2 L456.2 114.3 L457.0 110.8 L457.9 107.7 L458.7 104.4 L459.5 101.3 L460.4 98.4 L461.2 95.5 L462.1 92.7 L462.9 89.9 L463.8 87.6 L464.6 84.8 L465.4 82.6 L466.3 80.0 L467.1 78.2 L468.0 75.9 L468.8 73.5 L469.7 71.2 L470.5 69.3 L471.3 67.3 L472.2 66.0 L473.0 65.2 L473.9 64.3 L474.7 64.1 L475.6 63.5 L476.4 63.1 L477.2 62.6 L478.1 63.0 L478.9 63.1 L479.8 63.8 L480.6 64.0 L481.5 65.0 L482.3 66.2 L483.1 66.9 L484.0 68.0 L484.8 69.2 L485.7 70.6 L486.5 72.3 L487.4 74.1 L488.2 76.5 L489.0 78.6 L489.9 81.0 L490.7 83.0 L491.6 85.5 L492.4 88.0 L493.3 91.3 L494.1 93.7 L494.9 97.2 L495.8 100.8 L496.6 103.6 L497.5 107.1 L498.3 110.3 L499.2 113.6 L500.0 116.5 L500.9 120.3 L501.7 123.6 L502.5 126.8 L503.4 130.3 L504.2 134.2 L505.1 137.2 L505.9 140.7 L506.8 144.5 L507.6 147.3 L508.4 150.6 L509.3 154.4 L510.1 157.6 L511.0 160.9 L511.8 164.9 L512.7 168.3 L513.5 171.3 L514.3 174.0 L515.2 176.9 L516.0 180.7 L516.9 183.3 L517.7 186.5 L518.6 189.6 L519.4 192.6 L520.2 195.1 L521.1 197.8 L521.9 200.5 L522.8 203.1 L523.6 206.5 L524.5 208.8 L525.3 211.2 L526.1 213.2 L527.0 215.7 L527.8 218.0 L528.7 220.6 L529.5 223.1 L530.4 225.6 L531.2 227.4 L532.0 228.7 L532.9 231.2 L533.7 234.0 L534.6 235.5 L535.4 237.9 L536.3 239.7 L537.1 241.8 L537.9 242.6 L538.8 244.8 L539.6 246.6 L540.5 248.1 L541.3 249.9 L542.2 250.3 L543.0 252.2 L543.8 252.7 L544.7 254.1 L545.5 255.6 L546.4 257.6 L547.2 258.8 L548.1 259.2 L548.9 261.8 L549.7 261.9 L550.6 262.9 L551.4 264.9 L552.3 265.8 L553.1 267.7 L554.0 267.9 L554.8 269.9 L555.6 269.5 L556.5 272.2 L557.3 272.6 L558.2 273.3 L559.0 273.5 L559.9 275.2 L560.7 276.1 L561.5 275.9 L562.4 277.2 L563.2 278.1 L564.1 278.8 L564.9 279.6 L565.8 280.8 L566.6 280.7 L567.4 282.2 L568.3 282.5 L569.1 282.6 L570.0 282.9 L570.8 283.5 L571.7 285.6 L572.5 285.7 L573.3 286.0 L574.2 286.1 L575.0 286.2 L575.9 288.4 L576.7 287.4 L577.6 288.7 L578.4 289.6 L579.2 291.2 L580.1 292.0 L580.9 290.9 L581.8 291.6 L582.6 292.0 L583.5 293.4 L584.3 294.1 L585.2 294.0 L586.0 296.1 L586.8 296.3 L587.7 295.9 L588.5 296.1 L589.4 296.2 L590.2 297.9 L591.1 298.5 L591.9 299.3 L592.7 299.1 L593.6 298.2 L594.4 299.8 L595.3 299.5 L596.1 301.6 L597.0 301.5 L597.8 301.2 L598.6 303.0 L599.5 301.6 L600.3 302.6 L601.2 302.9 L602.0 304.7 L602.9 302.7 L603.7 305.7 L604.5 306.1 L605.4 306.3 L606.2 305.2 L607.1 305.6 L607.9 304.5 L608.8 306.5 L609.6 306.9 L610.4 306.0 L611.3 306.7 L612.1 306.3 L613.0 306.6 L613.8 306.5 L614.7 306.9 L615.5 308.9 L616.3 307.9 L617.2 308.0 L618.0 307.1 L618.9 306.7 L619.7 306.8 L620.6 306.8 L621.4 306.6" stroke="#2828d0" stroke-width="1.8" fill="none"/><path d="M284.2 236.3 L285.0 236.5 L285.9 237.6 L286.7 237.7 L287.6 238.3 L288.4 238.8 L289.3 239.1 L290.1 239.7 L290.9 239.8 L291.8 240.1 L292.6 240.8 L293.5 241.2 L294.3 241.4 L295.2 241.6 L296.0 242.1 L296.8 242.2 L297.7 242.5 L298.5 242.5 L299.4 242.8 L300.2 243.2 L301.1 243.5 L301.9 243.5 L302.7 243.4 L303.6 244.0 L304.4 244.2 L305.3 244.2 L306.1 244.4 L307.0 244.3 L307.8 244.4 L308.6 244.3 L309.5 244.8 L310.3 244.5 L311.2 244.7 L312.0 244.7 L312.9 244.7 L313.7 245.0 L314.5 244.8 L315.4 245.2 L316.2 245.0 L317.1 245.0 L317.9 244.9 L318.8 244.9 L319.6 245.0 L320.4 245.2 L321.3 245.2 L322.1 244.8 L323.0 244.9 L323.8 245.0 L324.7 245.1 L325.5 245.0 L326.3 244.9 L327.2 244.3 L328.0 244.0 L328.9 243.3 L329.7 242.6 L330.6 241.5 L331.4 240.9 L332.3 239.5 L333.1 238.7 L333.9 237.5 L334.8 236.4 L335.6 235.6 L336.5 234.3 L337.3 233.0 L338.2 231.9 L339.0 231.0 L339.8 229.8 L340.7 229.1 L341.5 228.1 L342.4 227.1 L343.2 226.4 L344.1 225.8 L344.9 225.3 L345.7 225.0 L346.6 224.7 L347.4 224.3 L348.3 224.6 L349.1 224.4 L350.0 224.4 L350.8 224.6 L351.6 225.1 L352.5 225.7 L353.3 226.0 L354.2 226.1 L355.0 226.6 L355.9 227.2 L356.7 228.0 L357.5 228.3 L358.4 229.4 L359.2 229.7 L360.1 230.6 L360.9 231.1 L361.8 231.9 L362.6 232.6 L363.4 233.6 L364.3 234.1 L365.1 234.9 L366.0 235.6 L366.8 236.5 L367.7 237.4 L368.5 237.9 L369.3 238.8 L370.2 239.2 L371.0 239.8 L371.9 240.6 L372.7 241.2 L373.6 241.9 L374.4 242.5 L375.2 243.0 L376.1 243.4 L376.9 244.1 L377.8 244.9 L378.6 245.8 L379.5 246.3 L380.3 247.3 L381.1 247.9 L382.0 248.7 L382.8 249.7 L383.7 250.1 L384.5 250.8 L385.4 251.9 L386.2 252.3 L387.0 253.4 L387.9 254.0 L388.7 254.9 L389.6 255.6 L390.4 256.3 L391.3 256.7 L392.1 257.4 L392.9 258.3 L393.8 258.6 L394.6 259.4 L395.5 259.9 L396.3 260.1 L397.2 260.6 L398.0 261.3 L398.8 261.7 L399.7 261.8 L400.5 262.4 L401.4 262.3 L402.2 262.8 L403.1 262.9 L403.9 262.9 L404.7 262.8 L405.6 263.0 L406.4 262.6 L407.3 261.9 L408.1 260.9 L409.0 259.3 L409.8 257.2 L410.6 255.2 L411.5 253.3 L412.3 251.0 L413.2 248.4 L414.0 246.1 L414.9 243.6 L415.7 241.3 L416.6 238.7 L417.4 236.5 L418.2 234.0 L419.1 231.9 L419.9 230.2 L420.8 228.2 L421.6 226.1 L422.5 224.4 L423.3 222.4 L424.1 220.7 L425.0 218.5 L425.8 216.7 L426.7 214.8 L427.5 212.8 L428.4 210.7 L429.2 208.8 L430.0 206.7 L430.9 204.7 L431.7 202.4 L432.6 199.6 L433.4 197.4 L434.3 194.8 L435.1 192.2 L435.9 189.4 L436.8 186.1 L437.6 182.4 L438.5 178.6 L439.3 174.7 L440.2 170.8 L441.0 166.5 L441.8 162.1 L442.7 157.9 L443.5 153.4 L444.4 149.2 L445.2 145.1 L446.1 140.9 L446.9 137.1 L447.7 133.3 L448.6 129.5 L449.4 126.1 L450.3 122.2 L451.1 118.9 L452.0 114.9 L452.8 111.8 L453.6 108.0 L454.5 105.1 L455.3 102.0 L456.2 99.1 L457.0 96.1 L457.9 93.4 L458.7 91.0 L459.5 88.7 L460.4 86.3 L461.2 84.2 L462.1 81.8 L462.9 79.6 L463.8 77.8 L464.6 75.3 L465.4 73.5 L466.3 72.3 L467.1 70.9 L468.0 70.3 L468.8 69.6 L469.7 68.9 L470.5 68.5 L471.3 67.9 L472.2 68.3 L473.0 68.5 L473.9 69.0 L474.7 69.7 L475.6 70.8 L476.4 71.5 L477.2 72.6 L478.1 73.9 L478.9 75.0 L479.8 76.8 L480.6 78.1 L481.5 80.2 L482.3 82.2 L483.1 84.7 L484.0 87.4 L484.8 89.5 L485.7 92.2 L486.5 94.8 L487.4 97.8 L488.2 101.1 L489.0 104.2 L489.9 107.9 L490.7 111.4 L491.6 114.6 L492.4 118.0 L493.3 120.8 L494.1 124.6 L494.9 127.5 L495.8 131.0 L496.6 134.3 L497.5 137.5 L498.3 140.9 L499.2 144.4 L500.0 148.2 L500.9 151.1 L501.7 154.7 L502.5 158.3 L503.4 161.6 L504.2 164.4 L505.1 168.2 L505.9 171.1 L506.8 174.5 L507.6 178.0 L508.4 180.9 L509.3 183.0 L510.1 186.2 L511.0 189.5 L511.8 192.7 L512.7 195.4 L513.5 198.1 L514.3 200.8 L515.2 202.8 L516.0 206.3 L516.9 208.4 L517.7 211.1 L518.6 213.5 L519.4 215.3 L520.2 218.3 L521.1 220.1 L521.9 222.1 L522.8 224.5 L523.6 226.8 L524.5 228.2 L525.3 230.6 L526.1 231.4 L527.0 234.4 L527.8 235.6 L528.7 237.6 L529.5 239.1 L530.4 241.2 L531.2 242.2 L532.0 244.0 L532.9 245.6 L533.7 247.1 L534.6 249.2 L535.4 249.7 L536.3 250.8 L537.1 252.3 L537.9 254.7 L538.8 255.5 L539.6 257.0 L540.5 257.4 L541.3 258.3 L542.2 259.9 L543.0 262.0 L543.8 262.5 L544.7 263.9 L545.5 264.4 L546.4 265.5 L547.2 266.6 L548.1 268.8 L548.9 268.6 L549.7 270.9 L550.6 271.5 L551.4 271.2 L552.3 273.3 L553.1 274.0 L554.0 274.1 L554.8 276.4 L555.6 276.8 L556.5 277.4 L557.3 277.8 L558.2 278.8 L559.0 279.5 L559.9 280.3 L560.7 279.7 L561.5 280.3 L562.4 282.1 L563.2 282.5 L564.1 283.4 L564.9 283.6 L565.8 284.5 L566.6 284.7 L567.4 284.7 L568.3 285.3 L569.1 287.0 L570.0 288.0 L570.8 288.5 L571.7 289.4 L572.5 288.5 L573.3 289.3 L574.2 290.4 L575.0 290.6 L575.9 292.4 L576.7 293.0 L577.6 293.2 L578.4 294.1 L579.2 293.2 L580.1 293.6 L580.9 295.5 L581.8 295.5 L582.6 295.0 L583.5 295.1 L584.3 296.8 L585.2 297.2 L586.0 297.7 L586.8 298.6 L587.7 298.3 L588.5 298.3 L589.4 300.3 L590.2 299.4 L591.1 299.7 L591.9 301.2 L592.7 300.5 L593.6 301.2 L594.4 302.9 L595.3 303.3 L596.1 303.0 L597.0 304.2 L597.8 304.3 L598.6 305.4 L599.5 303.8 L600.3 305.8 L601.2 306.8 L602.0 305.2 L602.9 306.8 L603.7 304.9 L604.5 307.9 L605.4 305.8 L606.2 308.2 L607.1 306.8 L607.9 306.5 L608.8 306.8 L609.6 307.8 L610.4 307.4 L611.3 309.4 L612.1 307.6 L613.0 309.6 L613.8 310.0 L614.7 310.5 L615.5 308.3 L616.3 307.7 L617.2 309.0 L618.0 309.9 L618.9 308.0 L619.7 307.9 L620.6 309.5 L621.4 310.6" stroke="#d06a2a" stroke-width="1.8" fill="none"/><path d="M284.2 236.5 L285.0 236.7 L285.9 237.2 L286.7 238.0 L287.6 238.3 L288.4 238.5 L289.3 239.0 L290.1 239.3 L290.9 239.9 L291.8 240.3 L292.6 240.9 L293.5 240.8 L294.3 241.1 L295.2 241.6 L296.0 242.0 L296.8 242.0 L297.7 242.2 L298.5 242.9 L299.4 242.9 L300.2 242.9 L301.1 243.1 L301.9 243.6 L302.7 243.4 L303.6 243.7 L304.4 244.1 L305.3 244.3 L306.1 244.2 L307.0 244.2 L307.8 244.2 L308.6 244.7 L309.5 244.4 L310.3 244.8 L311.2 244.6 L312.0 244.7 L312.9 244.8 L313.7 245.0 L314.5 244.7 L315.4 244.9 L316.2 245.2 L317.1 245.0 L317.9 245.1 L318.8 245.1 L319.6 245.1 L320.4 245.3 L321.3 245.3 L322.1 244.9 L323.0 245.0 L323.8 245.2 L324.7 244.8 L325.5 244.8 L326.3 244.5 L327.2 244.4 L328.0 244.1 L328.9 243.2 L329.7 242.5 L330.6 241.7 L331.4 240.9 L332.3 239.9 L333.1 238.5 L333.9 237.6 L334.8 236.7 L335.6 235.5 L336.5 234.3 L337.3 233.4 L338.2 232.1 L339.0 230.7 L339.8 230.1 L340.7 228.9 L341.5 228.1 L342.4 227.2 L343.2 226.2 L344.1 225.8 L344.9 225.1 L345.7 224.5 L346.6 224.4 L347.4 224.4 L348.3 224.1 L349.1 224.2 L350.0 224.6 L350.8 225.0 L351.6 225.1 L352.5 225.6 L353.3 225.8 L354.2 226.4 L355.0 226.5 L355.9 227.1 L356.7 227.6 L357.5 228.5 L358.4 228.9 L359.2 229.6 L360.1 230.6 L360.9 231.2 L361.8 232.1 L362.6 232.6 L363.4 233.6 L364.3 234.4 L365.1 234.7 L366.0 235.6 L366.8 236.4 L367.7 237.1 L368.5 237.6 L369.3 238.6 L370.2 239.0 L371.0 239.7 L371.9 240.4 L372.7 240.9 L373.6 241.6 L374.4 242.4 L375.2 242.8 L376.1 243.8 L376.9 244.3 L377.8 245.1 L378.6 245.7 L379.5 246.3 L380.3 247.3 L381.1 247.9 L382.0 249.1 L382.8 249.6 L383.7 250.5 L384.5 251.2 L385.4 251.8 L386.2 252.6 L387.0 253.2 L387.9 254.0 L388.7 254.8 L389.6 255.4 L390.4 256.0 L391.3 256.6 L392.1 257.6 L392.9 257.9 L393.8 258.6 L394.6 259.3 L395.5 259.5 L396.3 259.9 L397.2 260.6 L398.0 260.9 L398.8 261.3 L399.7 261.4 L400.5 261.6 L401.4 261.8 L402.2 261.8 L403.1 262.1 L403.9 261.8 L404.7 260.7 L405.6 259.7 L406.4 258.5 L407.3 256.8 L408.1 255.1 L409.0 252.7 L409.8 250.2 L410.6 248.0 L411.5 245.4 L412.3 243.1 L413.2 240.4 L414.0 237.9 L414.9 235.8 L415.7 233.4 L416.6 231.4 L417.4 229.4 L418.2 227.6 L419.1 225.7 L419.9 223.8 L420.8 221.8 L421.6 220.0 L422.5 217.7 L423.3 216.0 L424.1 213.6 L425.0 211.5 L425.8 209.8 L426.7 207.6 L427.5 205.2 L428.4 202.6 L429.2 200.2 L430.0 198.0 L430.9 195.3 L431.7 192.2 L432.6 189.7 L433.4 186.1 L434.3 183.0 L435.1 178.8 L435.9 175.2 L436.8 171.4 L437.6 167.2 L438.5 162.9 L439.3 159.0 L440.2 154.7 L441.0 150.4 L441.8 146.6 L442.7 142.7 L443.5 138.5 L444.4 134.7 L445.2 131.0 L446.1 127.2 L446.9 123.5 L447.7 119.8 L448.6 115.7 L449.4 112.1 L450.3 109.0 L451.1 105.7 L452.0 102.3 L452.8 99.6 L453.6 97.1 L454.5 94.6 L455.3 91.9 L456.2 89.6 L457.0 87.5 L457.9 85.4 L458.7 83.5 L459.5 81.7 L460.4 79.5 L461.2 77.4 L462.1 76.1 L462.9 75.1 L463.8 74.0 L464.6 73.1 L465.4 72.8 L466.3 72.2 L467.1 72.2 L468.0 72.2 L468.8 72.9 L469.7 73.7 L470.5 74.7 L471.3 75.3 L472.2 76.6 L473.0 78.0 L473.9 79.1 L474.7 80.4 L475.6 82.1 L476.4 84.1 L477.2 86.1 L478.1 88.5 L478.9 91.3 L479.8 93.9 L480.6 96.2 L481.5 98.9 L482.3 101.9 L483.1 105.2 L484.0 108.7 L484.8 112.0 L485.7 115.7 L486.5 119.1 L487.4 122.4 L488.2 125.3 L489.0 128.9 L489.9 132.3 L490.7 135.1 L491.6 138.5 L492.4 142.1 L493.3 144.9 L494.1 148.6 L494.9 152.2 L495.8 155.6 L496.6 158.6 L497.5 161.8 L498.3 165.2 L499.2 168.8 L500.0 172.2 L500.9 174.9 L501.7 178.0 L502.5 181.3 L503.4 184.2 L504.2 186.7 L505.1 190.1 L505.9 193.0 L506.8 195.3 L507.6 198.2 L508.4 200.4 L509.3 203.4 L510.1 206.4 L511.0 208.9 L511.8 210.6 L512.7 212.8 L513.5 215.5 L514.3 217.0 L515.2 219.7 L516.0 222.0 L516.9 223.6 L517.7 225.7 L518.6 227.5 L519.4 229.0 L520.2 230.8 L521.1 233.4 L521.9 234.9 L522.8 236.4 L523.6 238.7 L524.5 240.0 L525.3 241.0 L526.1 242.9 L527.0 244.7 L527.8 246.3 L528.7 247.4 L529.5 248.5 L530.4 250.1 L531.2 251.3 L532.0 252.2 L532.9 253.8 L533.7 255.2 L534.6 256.8 L535.4 258.0 L536.3 259.0 L537.1 260.4 L537.9 260.4 L538.8 262.6 L539.6 263.5 L540.5 264.3 L541.3 264.8 L542.2 265.9 L543.0 267.3 L543.8 269.2 L544.7 269.6 L545.5 270.9 L546.4 271.5 L547.2 272.8 L548.1 273.5 L548.9 274.0 L549.7 274.1 L550.6 275.9 L551.4 277.3 L552.3 278.0 L553.1 277.5 L554.0 278.7 L554.8 279.1 L555.6 280.1 L556.5 279.8 L557.3 280.7 L558.2 282.5 L559.0 282.5 L559.9 283.8 L560.7 283.9 L561.5 283.9 L562.4 284.6 L563.2 284.7 L564.1 286.9 L564.9 286.4 L565.8 286.8 L566.6 288.3 L567.4 289.4 L568.3 289.9 L569.1 289.9 L570.0 289.8 L570.8 291.3 L571.7 291.4 L572.5 292.5 L573.3 291.3 L574.2 292.5 L575.0 293.7 L575.9 294.3 L576.7 294.2 L577.6 295.6 L578.4 296.0 L579.2 296.6 L580.1 295.8 L580.9 296.7 L581.8 296.9 L582.6 299.2 L583.5 298.7 L584.3 298.6 L585.2 300.0 L586.0 299.9 L586.8 299.7 L587.7 300.4 L588.5 301.9 L589.4 301.0 L590.2 301.1 L591.1 304.0 L591.9 302.8 L592.7 303.2 L593.6 302.9 L594.4 305.6 L595.3 303.8 L596.1 306.3 L597.0 304.0 L597.8 305.9 L598.6 306.9 L599.5 307.4 L600.3 307.6 L601.2 307.0 L602.0 306.5 L602.9 306.2 L603.7 308.0 L604.5 309.0 L605.4 307.4 L606.2 309.1 L607.1 309.9 L607.9 309.3 L608.8 309.3 L609.6 310.0 L610.4 310.0 L611.3 310.0 L612.1 310.0 L613.0 309.9 L613.8 310.1 L614.7 310.2 L615.5 311.8 L616.3 310.1 L617.2 311.4 L618.0 309.8 L618.9 309.2 L619.7 310.2 L620.6 310.1 L621.4 310.9" stroke="#e03030" stroke-width="1.8" fill="none"/><path d="M284.2 236.0 L285.0 236.7 L285.9 237.6 L286.7 237.9 L287.6 238.4 L288.4 238.7 L289.3 239.1 L290.1 239.7 L290.9 240.1 L291.8 240.1 L292.6 240.9 L293.5 241.1 L294.3 241.5 L295.2 241.7 L296.0 241.9 L296.8 242.4 L297.7 242.6 L298.5 242.6 L299.4 243.1 L300.2 242.9 L301.1 243.3 L301.9 243.5 L302.7 243.4 L303.6 243.6 L304.4 243.7 L305.3 244.2 L306.1 244.4 L307.0 244.3 L307.8 244.7 L308.6 244.3 L309.5 244.4 L310.3 244.7 L311.2 244.5 L312.0 245.0 L312.9 244.7 L313.7 244.9 L314.5 244.7 L315.4 245.0 L316.2 244.9 L317.1 245.0 L317.9 245.2 L318.8 244.8 L319.6 244.9 L320.4 244.9 L321.3 245.1 L322.1 245.3 L323.0 245.0 L323.8 245.1 L324.7 245.3 L325.5 244.9 L326.3 244.5 L327.2 244.3 L328.0 244.0 L328.9 243.5 L329.7 242.7 L330.6 241.5 L331.4 240.8 L332.3 239.7 L333.1 238.7 L333.9 237.5 L334.8 236.4 L335.6 235.4 L336.5 234.4 L337.3 233.0 L338.2 231.7 L339.0 231.1 L339.8 229.7 L340.7 228.9 L341.5 227.6 L342.4 226.9 L343.2 226.2 L344.1 225.7 L344.9 224.9 L345.7 224.8 L346.6 224.5 L347.4 224.3 L348.3 224.1 L349.1 224.1 L350.0 224.2 L350.8 224.7 L351.6 225.0 L352.5 225.2 L353.3 225.9 L354.2 226.4 L355.0 226.6 L355.9 227.0 L356.7 227.6 L357.5 228.4 L358.4 229.1 L359.2 229.5 L360.1 230.4 L360.9 230.9 L361.8 232.1 L362.6 232.5 L363.4 233.5 L364.3 234.1 L365.1 235.0 L366.0 235.9 L366.8 236.1 L367.7 236.9 L368.5 237.6 L369.3 238.5 L370.2 239.4 L371.0 239.9 L371.9 240.4 L372.7 241.3 L373.6 241.7 L374.4 242.1 L375.2 242.8 L376.1 243.7 L376.9 244.4 L377.8 245.1 L378.6 245.8 L379.5 246.7 L380.3 247.4 L381.1 248.2 L382.0 248.6 L382.8 249.9 L383.7 250.5 L384.5 251.4 L385.4 252.0 L386.2 253.0 L387.0 253.5 L387.9 254.2 L388.7 254.8 L389.6 255.4 L390.4 256.2 L391.3 257.1 L392.1 257.4 L392.9 258.2 L393.8 258.6 L394.6 259.2 L395.5 259.3 L396.3 259.9 L397.2 260.1 L398.0 260.3 L398.8 260.6 L399.7 260.8 L400.5 261.0 L401.4 260.7 L402.2 260.7 L403.1 259.8 L403.9 259.1 L404.7 257.6 L405.6 255.6 L406.4 253.5 L407.3 251.7 L408.1 249.1 L409.0 246.8 L409.8 244.3 L410.6 241.8 L411.5 239.1 L412.3 236.5 L413.2 234.4 L414.0 232.4 L414.9 230.0 L415.7 228.1 L416.6 226.2 L417.4 224.5 L418.2 222.4 L419.1 220.2 L419.9 218.4 L420.8 216.2 L421.6 213.9 L422.5 212.0 L423.3 210.1 L424.1 207.3 L425.0 205.5 L425.8 202.9 L426.7 200.7 L427.5 198.0 L428.4 194.9 L429.2 192.2 L430.0 189.2 L430.9 185.9 L431.7 182.6 L432.6 179.0 L433.4 175.0 L434.3 171.1 L435.1 166.9 L435.9 163.3 L436.8 159.1 L437.6 155.0 L438.5 151.0 L439.3 146.7 L440.2 143.0 L441.0 139.4 L441.8 135.6 L442.7 131.3 L443.5 127.4 L444.4 123.8 L445.2 119.7 L446.1 115.8 L446.9 112.3 L447.7 108.9 L448.6 105.6 L449.4 102.2 L450.3 99.9 L451.1 97.3 L452.0 94.6 L452.8 92.6 L453.6 90.5 L454.5 88.5 L455.3 86.5 L456.2 84.6 L457.0 82.6 L457.9 81.0 L458.7 79.5 L459.5 78.1 L460.4 77.5 L461.2 76.2 L462.1 75.7 L462.9 75.4 L463.8 75.5 L464.6 75.9 L465.4 76.2 L466.3 77.5 L467.1 78.0 L468.0 79.2 L468.8 80.9 L469.7 81.7 L470.5 83.2 L471.3 84.6 L472.2 86.7 L473.0 88.4 L473.9 91.1 L474.7 93.5 L475.6 96.3 L476.4 98.8 L477.2 101.6 L478.1 104.3 L478.9 107.7 L479.8 111.0 L480.6 114.7 L481.5 117.8 L482.3 121.6 L483.1 125.1 L484.0 128.2 L484.8 131.4 L485.7 134.5 L486.5 137.9 L487.4 141.4 L488.2 144.3 L489.0 147.8 L489.9 150.7 L490.7 154.2 L491.6 157.5 L492.4 161.1 L493.3 164.1 L494.1 167.9 L494.9 170.6 L495.8 174.3 L496.6 177.1 L497.5 180.3 L498.3 183.2 L499.2 185.8 L500.0 188.9 L500.9 191.4 L501.7 194.6 L502.5 197.3 L503.4 200.1 L504.2 201.9 L505.1 205.0 L505.9 207.0 L506.8 209.3 L507.6 212.2 L508.4 213.7 L509.3 216.1 L510.1 218.5 L511.0 220.4 L511.8 222.4 L512.7 224.3 L513.5 225.7 L514.3 227.5 L515.2 229.8 L516.0 231.9 L516.9 233.1 L517.7 235.0 L518.6 236.7 L519.4 238.0 L520.2 239.7 L521.1 241.8 L521.9 242.6 L522.8 243.8 L523.6 245.3 L524.5 246.7 L525.3 248.5 L526.1 249.1 L527.0 250.8 L527.8 252.4 L528.7 252.9 L529.5 253.9 L530.4 255.4 L531.2 257.1 L532.0 258.2 L532.9 259.7 L533.7 260.2 L534.6 260.9 L535.4 263.1 L536.3 264.0 L537.1 264.0 L537.9 265.5 L538.8 267.6 L539.6 267.6 L540.5 269.5 L541.3 269.8 L542.2 270.2 L543.0 271.3 L543.8 273.2 L544.7 274.1 L545.5 273.6 L546.4 275.9 L547.2 275.6 L548.1 277.1 L548.9 277.7 L549.7 278.9 L550.6 278.0 L551.4 278.7 L552.3 280.9 L553.1 279.9 L554.0 281.7 L554.8 281.5 L555.6 282.0 L556.5 283.1 L557.3 283.8 L558.2 283.8 L559.0 285.2 L559.9 284.5 L560.7 285.1 L561.5 285.6 L562.4 286.8 L563.2 288.0 L564.1 287.6 L564.9 288.2 L565.8 289.4 L566.6 290.6 L567.4 290.6 L568.3 291.7 L569.1 291.3 L570.0 293.3 L570.8 292.6 L571.7 293.1 L572.5 293.8 L573.3 293.8 L574.2 295.5 L575.0 294.5 L575.9 296.0 L576.7 296.1 L577.6 297.2 L578.4 298.2 L579.2 298.7 L580.1 297.4 L580.9 298.0 L581.8 300.3 L582.6 300.2 L583.5 299.6 L584.3 299.7 L585.2 302.3 L586.0 302.4 L586.8 302.0 L587.7 303.3 L588.5 303.3 L589.4 304.6 L590.2 304.7 L591.1 304.4 L591.9 305.5 L592.7 304.5 L593.6 305.2 L594.4 306.5 L595.3 305.6 L596.1 306.9 L597.0 307.1 L597.8 308.1 L598.6 307.4 L599.5 308.6 L600.3 308.1 L601.2 307.0 L602.0 309.7 L602.9 308.9 L603.7 308.3 L604.5 309.6 L605.4 308.3 L606.2 309.8 L607.1 309.7 L607.9 309.4 L608.8 310.0 L609.6 309.6 L610.4 309.3 L611.3 309.7 L612.1 310.9 L613.0 310.0 L613.8 311.1 L614.7 310.6 L615.5 311.3 L616.3 311.0 L617.2 312.1 L618.0 312.5 L618.9 313.0 L619.7 312.5 L620.6 312.8 L621.4 311.4" stroke="#3a70e0" stroke-width="1.8" fill="none"/><path d="M284.2 236.5 L285.0 236.9 L285.9 237.1 L286.7 237.6 L287.6 238.4 L288.4 238.8 L289.3 239.4 L290.1 239.8 L290.9 240.2 L291.8 240.4 L292.6 240.5 L293.5 241.1 L294.3 241.2 L295.2 241.5 L296.0 241.7 L296.8 242.1 L297.7 242.6 L298.5 242.6 L299.4 243.0 L300.2 243.2 L301.1 243.2 L301.9 243.6 L302.7 243.4 L303.6 243.9 L304.4 244.1 L305.3 243.8 L306.1 244.1 L307.0 244.4 L307.8 244.3 L308.6 244.3 L309.5 244.7 L310.3 244.7 L311.2 244.5 L312.0 245.0 L312.9 244.7 L313.7 245.0 L314.5 244.9 L315.4 244.9 L316.2 245.1 L317.1 244.7 L317.9 244.8 L318.8 245.2 L319.6 245.1 L320.4 245.0 L321.3 245.0 L322.1 244.9 L323.0 244.8 L323.8 245.0 L324.7 244.9 L325.5 244.9 L326.3 244.7 L327.2 244.3 L328.0 243.7 L328.9 243.0 L329.7 242.3 L330.6 241.4 L331.4 240.9 L332.3 239.7 L333.1 238.5 L333.9 237.8 L334.8 236.6 L335.6 235.4 L336.5 234.4 L337.3 233.2 L338.2 231.9 L339.0 230.7 L339.8 229.9 L340.7 229.0 L341.5 228.0 L342.4 227.2 L343.2 225.9 L344.1 225.4 L344.9 225.1 L345.7 224.6 L346.6 224.3 L347.4 223.9 L348.3 224.0 L349.1 224.2 L350.0 224.1 L350.8 224.6 L351.6 224.7 L352.5 225.1 L353.3 225.8 L354.2 226.0 L355.0 226.4 L355.9 227.0 L356.7 227.6 L357.5 228.3 L358.4 229.2 L359.2 229.4 L360.1 230.4 L360.9 231.0 L361.8 231.9 L362.6 232.5 L363.4 233.4 L364.3 234.2 L365.1 234.9 L366.0 235.7 L366.8 236.2 L367.7 237.2 L368.5 237.6 L369.3 238.4 L370.2 239.3 L371.0 239.9 L371.9 240.7 L372.7 240.9 L373.6 241.8 L374.4 242.4 L375.2 243.1 L376.1 243.4 L376.9 244.6 L377.8 245.1 L378.6 245.7 L379.5 246.5 L380.3 247.2 L381.1 248.0 L382.0 249.0 L382.8 249.6 L383.7 250.6 L384.5 251.6 L385.4 251.9 L386.2 252.7 L387.0 253.7 L387.9 254.1 L388.7 255.1 L389.6 255.8 L390.4 256.4 L391.3 257.1 L392.1 257.3 L392.9 258.1 L393.8 258.2 L394.6 258.5 L395.5 259.4 L396.3 259.5 L397.2 260.0 L398.0 260.1 L398.8 260.0 L399.7 259.9 L400.5 260.2 L401.4 259.7 L402.2 258.8 L403.1 257.1 L403.9 255.4 L404.7 253.7 L405.6 251.5 L406.4 249.0 L407.3 246.6 L408.1 244.1 L409.0 241.2 L409.8 239.1 L410.6 236.4 L411.5 234.2 L412.3 232.3 L413.2 230.0 L414.0 228.1 L414.9 226.1 L415.7 224.0 L416.6 221.8 L417.4 219.8 L418.2 217.9 L419.1 215.5 L419.9 213.6 L420.8 211.6 L421.6 209.1 L422.5 206.9 L423.3 204.3 L424.1 201.9 L425.0 199.2 L425.8 197.0 L426.7 194.0 L427.5 191.3 L428.4 188.1 L429.2 184.3 L430.0 181.3 L430.9 177.6 L431.7 173.3 L432.6 169.9 L433.4 165.9 L434.3 161.7 L435.1 157.8 L435.9 153.7 L436.8 149.9 L437.6 145.9 L438.5 141.8 L439.3 138.3 L440.2 134.4 L441.0 130.3 L441.8 125.9 L442.7 121.9 L443.5 118.0 L444.4 114.4 L445.2 110.5 L446.1 107.1 L446.9 104.5 L447.7 101.4 L448.6 99.0 L449.4 96.6 L450.3 94.5 L451.1 92.0 L452.0 90.2 L452.8 88.4 L453.6 86.5 L454.5 84.5 L455.3 83.1 L456.2 81.8 L457.0 80.6 L457.9 79.6 L458.7 79.0 L459.5 78.4 L460.4 78.3 L461.2 78.1 L462.1 78.8 L462.9 79.3 L463.8 80.5 L464.6 81.3 L465.4 82.9 L466.3 84.1 L467.1 85.2 L468.0 86.8 L468.8 88.5 L469.7 90.3 L470.5 92.7 L471.3 95.0 L472.2 98.0 L473.0 100.5 L473.9 103.2 L474.7 106.5 L475.6 109.5 L476.4 112.7 L477.2 116.1 L478.1 119.6 L478.9 123.2 L479.8 126.7 L480.6 130.3 L481.5 133.4 L482.3 136.6 L483.1 140.1 L484.0 143.1 L484.8 146.4 L485.7 149.5 L486.5 153.0 L487.4 156.2 L488.2 159.3 L489.0 162.6 L489.9 165.8 L490.7 169.4 L491.6 172.2 L492.4 175.9 L493.3 178.9 L494.1 181.3 L494.9 184.5 L495.8 187.6 L496.6 190.4 L497.5 193.1 L498.3 195.7 L499.2 198.3 L500.0 200.9 L500.9 203.1 L501.7 205.7 L502.5 207.9 L503.4 210.1 L504.2 212.2 L505.1 214.8 L505.9 216.7 L506.8 218.5 L507.6 220.2 L508.4 222.1 L509.3 224.2 L510.1 226.1 L511.0 227.8 L511.8 229.8 L512.7 231.9 L513.5 233.4 L514.3 234.7 L515.2 236.6 L516.0 237.7 L516.9 239.1 L517.7 240.5 L518.6 242.3 L519.4 244.1 L520.2 245.2 L521.1 246.0 L521.9 247.5 L522.8 249.0 L523.6 250.2 L524.5 251.8 L525.3 252.7 L526.1 253.3 L527.0 254.5 L527.8 256.4 L528.7 257.7 L529.5 258.6 L530.4 259.4 L531.2 261.5 L532.0 261.8 L532.9 262.4 L533.7 264.6 L534.6 264.6 L535.4 266.0 L536.3 266.5 L537.1 267.4 L537.9 269.2 L538.8 269.4 L539.6 270.4 L540.5 271.6 L541.3 273.6 L542.2 273.2 L543.0 274.2 L543.8 274.7 L544.7 276.6 L545.5 277.0 L546.4 277.4 L547.2 277.5 L548.1 279.8 L548.9 279.8 L549.7 279.9 L550.6 281.2 L551.4 281.5 L552.3 282.8 L553.1 283.1 L554.0 283.4 L554.8 284.2 L555.6 284.2 L556.5 285.8 L557.3 285.6 L558.2 286.8 L559.0 286.7 L559.9 286.6 L560.7 288.8 L561.5 287.9 L562.4 288.6 L563.2 290.0 L564.1 289.4 L564.9 290.4 L565.8 291.3 L566.6 292.6 L567.4 291.4 L568.3 292.9 L569.1 293.5 L570.0 293.0 L570.8 293.8 L571.7 294.6 L572.5 296.1 L573.3 295.7 L574.2 297.0 L575.0 297.1 L575.9 296.3 L576.7 297.7 L577.6 297.6 L578.4 298.8 L579.2 299.6 L580.1 298.9 L580.9 300.0 L581.8 299.7 L582.6 301.5 L583.5 300.7 L584.3 302.8 L585.2 303.0 L586.0 302.1 L586.8 303.2 L587.7 304.9 L588.5 303.7 L589.4 303.6 L590.2 303.9 L591.1 305.0 L591.9 306.6 L592.7 305.7 L593.6 307.3 L594.4 305.6 L595.3 308.4 L596.1 307.0 L597.0 307.4 L597.8 307.6 L598.6 308.8 L599.5 308.4 L600.3 309.4 L601.2 308.6 L602.0 310.8 L602.9 309.3 L603.7 309.1 L604.5 311.4 L605.4 310.1 L606.2 310.1 L607.1 309.4 L607.9 310.9 L608.8 312.1 L609.6 311.8 L610.4 310.6 L611.3 310.9 L612.1 311.0 L613.0 311.8 L613.8 312.1 L614.7 311.4 L615.5 310.7 L616.3 312.9 L617.2 311.1 L618.0 311.6 L618.9 312.1 L619.7 312.8 L620.6 311.9 L621.4 311.3" stroke="#2e7f3a" stroke-width="1.8" fill="none"/><path d="M284.2 236.5 L285.0 236.7 L285.9 237.4 L286.7 237.7 L287.6 238.3 L288.4 238.5 L289.3 239.1 L290.1 239.5 L290.9 239.8 L291.8 240.1 L292.6 240.6 L293.5 240.8 L294.3 241.1 L295.2 241.8 L296.0 242.0 L296.8 242.3 L297.7 242.3 L298.5 242.5 L299.4 243.1 L300.2 243.1 L301.1 243.3 L301.9 243.5 L302.7 243.4 L303.6 243.6 L304.4 244.0 L305.3 244.1 L306.1 244.2 L307.0 244.4 L307.8 244.5 L308.6 244.4 L309.5 244.5 L310.3 244.6 L311.2 244.9 L312.0 244.6 L312.9 245.0 L313.7 245.1 L314.5 245.2 L315.4 244.7 L316.2 244.8 L317.1 244.8 L317.9 244.8 L318.8 244.8 L319.6 244.9 L320.4 244.9 L321.3 245.1 L322.1 245.2 L323.0 244.8 L323.8 244.8 L324.7 245.3 L325.5 245.2 L326.3 244.7 L327.2 244.5 L328.0 243.7 L328.9 243.1 L329.7 242.2 L330.6 241.7 L331.4 240.6 L332.3 239.9 L333.1 238.6 L333.9 237.4 L334.8 236.5 L335.6 235.1 L336.5 234.1 L337.3 232.8 L338.2 232.1 L339.0 230.9 L339.8 229.7 L340.7 228.9 L341.5 227.7 L342.4 226.7 L343.2 226.4 L344.1 225.5 L344.9 225.1 L345.7 224.5 L346.6 224.3 L347.4 223.8 L348.3 224.2 L349.1 224.0 L350.0 224.1 L350.8 224.6 L351.6 224.9 L352.5 225.0 L353.3 225.4 L354.2 226.1 L355.0 226.7 L355.9 227.3 L356.7 227.5 L357.5 228.3 L358.4 229.1 L359.2 229.3 L360.1 230.3 L360.9 230.8 L361.8 231.6 L362.6 232.2 L363.4 233.1 L364.3 234.1 L365.1 234.9 L366.0 235.5 L366.8 236.3 L367.7 237.2 L368.5 237.9 L369.3 238.7 L370.2 239.2 L371.0 239.7 L371.9 240.3 L372.7 241.2 L373.6 241.6 L374.4 242.2 L375.2 243.1 L376.1 243.4 L376.9 244.1 L377.8 245.0 L378.6 245.7 L379.5 246.8 L380.3 247.5 L381.1 248.1 L382.0 248.9 L382.8 249.8 L383.7 250.6 L384.5 251.6 L385.4 252.0 L386.2 253.0 L387.0 253.5 L387.9 254.1 L388.7 255.2 L389.6 255.8 L390.4 256.0 L391.3 256.8 L392.1 257.2 L392.9 257.8 L393.8 258.3 L394.6 258.5 L395.5 258.9 L396.3 259.1 L397.2 259.5 L398.0 259.5 L398.8 259.5 L399.7 259.6 L400.5 258.7 L401.4 257.7 L402.2 256.1 L403.1 254.6 L403.9 252.5 L404.7 249.9 L405.6 247.6 L406.4 245.2 L407.3 242.6 L408.1 239.8 L409.0 237.6 L409.8 235.2 L410.6 233.2 L411.5 231.1 L412.3 228.9 L413.2 226.6 L414.0 224.7 L414.9 222.6 L415.7 220.6 L416.6 218.5 L417.4 216.2 L418.2 214.3 L419.1 211.6 L419.9 209.8 L420.8 207.1 L421.6 204.7 L422.5 202.3 L423.3 199.5 L424.1 197.3 L425.0 194.0 L425.8 191.5 L426.7 187.9 L427.5 185.0 L428.4 181.5 L429.2 177.5 L430.0 173.9 L430.9 170.3 L431.7 166.0 L432.6 162.5 L433.4 158.4 L434.3 154.4 L435.1 150.4 L435.9 146.6 L436.8 142.7 L437.6 139.1 L438.5 135.0 L439.3 130.6 L440.2 126.8 L441.0 122.2 L441.8 118.7 L442.7 114.4 L443.5 111.1 L444.4 107.4 L445.2 104.7 L446.1 102.1 L446.9 99.6 L447.7 97.0 L448.6 94.9 L449.4 92.8 L450.3 90.9 L451.1 89.0 L452.0 87.5 L452.8 85.7 L453.6 84.3 L454.5 82.9 L455.3 82.3 L456.2 81.3 L457.0 80.5 L457.9 80.3 L458.7 80.5 L459.5 80.6 L460.4 81.3 L461.2 82.2 L462.1 83.5 L462.9 84.8 L463.8 86.1 L464.6 87.0 L465.4 88.7 L466.3 90.2 L467.1 92.0 L468.0 94.2 L468.8 96.8 L469.7 99.6 L470.5 102.1 L471.3 105.2 L472.2 108.2 L473.0 111.6 L473.9 115.0 L474.7 118.4 L475.6 122.1 L476.4 125.5 L477.2 129.1 L478.1 132.5 L478.9 135.7 L479.8 138.6 L480.6 141.8 L481.5 145.1 L482.3 148.2 L483.1 151.2 L484.0 154.7 L484.8 157.9 L485.7 161.1 L486.5 164.7 L487.4 167.8 L488.2 170.9 L489.0 174.1 L489.9 177.6 L490.7 180.5 L491.6 183.4 L492.4 186.2 L493.3 188.9 L494.1 191.2 L494.9 194.5 L495.8 196.8 L496.6 199.3 L497.5 202.1 L498.3 204.4 L499.2 206.5 L500.0 209.4 L500.9 211.7 L501.7 213.3 L502.5 215.3 L503.4 217.5 L504.2 219.0 L505.1 221.1 L505.9 222.8 L506.8 224.6 L507.6 226.9 L508.4 228.7 L509.3 230.4 L510.1 232.0 L511.0 233.6 L511.8 235.5 L512.7 237.0 L513.5 238.2 L514.3 239.6 L515.2 240.7 L516.0 242.2 L516.9 243.9 L517.7 244.6 L518.6 246.5 L519.4 248.1 L520.2 248.6 L521.1 250.0 L521.9 251.9 L522.8 253.1 L523.6 254.2 L524.5 254.3 L525.3 256.4 L526.1 257.3 L527.0 258.7 L527.8 259.8 L528.7 260.0 L529.5 261.3 L530.4 262.5 L531.2 263.3 L532.0 265.4 L532.9 265.2 L533.7 266.5 L534.6 268.6 L535.4 269.6 L536.3 269.8 L537.1 270.8 L537.9 271.9 L538.8 272.9 L539.6 273.1 L540.5 274.5 L541.3 275.2 L542.2 275.6 L543.0 277.3 L543.8 277.3 L544.7 278.3 L545.5 278.5 L546.4 279.5 L547.2 279.7 L548.1 281.4 L548.9 280.6 L549.7 280.9 L550.6 281.5 L551.4 283.4 L552.3 283.4 L553.1 284.4 L554.0 284.1 L554.8 286.1 L555.6 286.7 L556.5 286.4 L557.3 286.1 L558.2 286.8 L559.0 288.1 L559.9 288.0 L560.7 288.6 L561.5 289.9 L562.4 289.6 L563.2 291.4 L564.1 291.9 L564.9 292.2 L565.8 292.3 L566.6 292.4 L567.4 293.0 L568.3 293.5 L569.1 293.5 L570.0 295.0 L570.8 296.5 L571.7 295.2 L572.5 296.3 L573.3 298.2 L574.2 298.3 L575.0 298.8 L575.9 298.9 L576.7 299.0 L577.6 300.4 L578.4 300.1 L579.2 301.3 L580.1 300.9 L580.9 301.0 L581.8 301.1 L582.6 301.6 L583.5 303.4 L584.3 303.2 L585.2 303.7 L586.0 303.3 L586.8 304.1 L587.7 305.7 L588.5 305.8 L589.4 304.3 L590.2 306.0 L591.1 305.5 L591.9 306.5 L592.7 307.5 L593.6 307.5 L594.4 307.5 L595.3 309.1 L596.1 306.9 L597.0 309.8 L597.8 309.7 L598.6 308.4 L599.5 309.9 L600.3 309.3 L601.2 311.0 L602.0 310.0 L602.9 311.4 L603.7 311.4 L604.5 310.4 L605.4 310.8 L606.2 311.4 L607.1 311.9 L607.9 312.8 L608.8 311.5 L609.6 311.2 L610.4 313.5 L611.3 311.5 L612.1 310.9 L613.0 313.9 L613.8 313.9 L614.7 311.4 L615.5 311.6 L616.3 311.8 L617.2 311.4 L618.0 313.8 L618.9 314.3 L619.7 313.8 L620.6 312.2 L621.4 313.4" stroke="#d07030" stroke-width="1.8" fill="none"/><path d="M284.2 236.0 L285.0 237.0 L285.9 237.3 L286.7 237.7 L287.6 238.5 L288.4 238.7 L289.3 239.1 L290.1 239.5 L290.9 239.7 L291.8 240.2 L292.6 240.8 L293.5 241.1 L294.3 241.5 L295.2 241.8 L296.0 241.8 L296.8 242.0 L297.7 242.7 L298.5 242.7 L299.4 242.9 L300.2 243.2 L301.1 243.5 L301.9 243.3 L302.7 243.9 L303.6 243.8 L304.4 244.1 L305.3 244.1 L306.1 244.2 L307.0 244.6 L307.8 244.6 L308.6 244.4 L309.5 244.4 L310.3 244.5 L311.2 244.7 L312.0 244.6 L312.9 244.6 L313.7 244.7 L314.5 244.7 L315.4 244.7 L316.2 245.0 L317.1 244.9 L317.9 245.2 L318.8 245.1 L319.6 245.2 L320.4 245.1 L321.3 245.1 L322.1 245.0 L323.0 244.9 L323.8 244.9 L324.7 245.1 L325.5 245.0 L326.3 244.8 L327.2 244.3 L328.0 244.0 L328.9 243.3 L329.7 242.2 L330.6 241.8 L331.4 240.8 L332.3 239.7 L333.1 238.5 L333.9 237.6 L334.8 236.4 L335.6 235.0 L336.5 233.9 L337.3 233.2 L338.2 231.8 L339.0 230.6 L339.8 229.8 L340.7 228.5 L341.5 227.8 L342.4 227.0 L343.2 225.9 L344.1 225.2 L344.9 224.9 L345.7 224.3 L346.6 224.0 L347.4 223.9 L348.3 224.2 L349.1 224.1 L350.0 224.3 L350.8 224.6 L351.6 225.0 L352.5 225.0 L353.3 225.8 L354.2 226.2 L355.0 226.5 L355.9 227.2 L356.7 227.4 L357.5 228.0 L358.4 228.8 L359.2 229.8 L360.1 230.1 L360.9 230.7 L361.8 231.5 L362.6 232.4 L363.4 233.0 L364.3 234.0 L365.1 234.8 L366.0 235.5 L366.8 236.4 L367.7 237.1 L368.5 237.6 L369.3 238.6 L370.2 239.1 L371.0 239.6 L371.9 240.3 L372.7 241.0 L373.6 241.8 L374.4 242.3 L375.2 242.8 L376.1 243.6 L376.9 244.6 L377.8 245.3 L378.6 245.7 L379.5 246.5 L380.3 247.5 L381.1 248.2 L382.0 249.2 L382.8 249.6 L383.7 250.5 L384.5 251.3 L385.4 252.3 L386.2 252.9 L387.0 253.5 L387.9 254.5 L388.7 255.1 L389.6 255.6 L390.4 256.4 L391.3 256.8 L392.1 257.4 L392.9 257.5 L393.8 258.2 L394.6 258.7 L395.5 258.8 L396.3 258.8 L397.2 259.1 L398.0 259.0 L398.8 259.0 L399.7 258.1 L400.5 257.4 L401.4 255.5 L402.2 253.5 L403.1 251.8 L403.9 249.5 L404.7 246.7 L405.6 244.4 L406.4 241.5 L407.3 239.2 L408.1 236.5 L409.0 234.2 L409.8 232.5 L410.6 230.3 L411.5 228.1 L412.3 226.0 L413.2 224.2 L414.0 221.7 L414.9 219.6 L415.7 217.7 L416.6 215.4 L417.4 213.2 L418.2 210.7 L419.1 208.7 L419.9 206.0 L420.8 203.8 L421.6 201.3 L422.5 198.5 L423.3 195.4 L424.1 193.0 L425.0 189.7 L425.8 186.3 L426.7 183.2 L427.5 179.8 L428.4 176.1 L429.2 172.0 L430.0 168.5 L430.9 164.2 L431.7 160.6 L432.6 156.3 L433.4 152.6 L434.3 148.9 L435.1 145.1 L435.9 141.4 L436.8 137.0 L437.6 133.1 L438.5 128.7 L439.3 124.8 L440.2 120.2 L441.0 116.6 L441.8 112.6 L442.7 109.1 L443.5 106.0 L444.4 103.1 L445.2 100.8 L446.1 98.4 L446.9 96.4 L447.7 94.1 L448.6 92.3 L449.4 90.5 L450.3 88.7 L451.1 87.3 L452.0 86.1 L452.8 84.6 L453.6 83.6 L454.5 82.8 L455.3 81.8 L456.2 81.9 L457.0 82.2 L457.9 82.4 L458.7 83.4 L459.5 84.3 L460.4 85.5 L461.2 86.7 L462.1 88.0 L462.9 89.3 L463.8 91.0 L464.6 92.3 L465.4 94.3 L466.3 96.5 L467.1 98.9 L468.0 102.2 L468.8 104.8 L469.7 107.6 L470.5 111.0 L471.3 114.3 L472.2 117.5 L473.0 121.1 L473.9 124.7 L474.7 128.7 L475.6 131.9 L476.4 135.3 L477.2 138.3 L478.1 141.8 L478.9 145.1 L479.8 148.1 L480.6 151.1 L481.5 154.3 L482.3 157.3 L483.1 160.6 L484.0 163.9 L484.8 167.4 L485.7 170.6 L486.5 173.8 L487.4 176.9 L488.2 180.0 L489.0 182.3 L489.9 185.2 L490.7 188.3 L491.6 190.9 L492.4 193.9 L493.3 196.4 L494.1 199.0 L494.9 201.2 L495.8 203.8 L496.6 206.2 L497.5 208.5 L498.3 210.7 L499.2 212.7 L500.0 215.0 L500.9 216.5 L501.7 218.8 L502.5 220.7 L503.4 222.3 L504.2 224.4 L505.1 225.9 L505.9 228.0 L506.8 229.7 L507.6 231.0 L508.4 232.9 L509.3 234.0 L510.1 235.2 L511.0 236.9 L511.8 239.0 L512.7 240.3 L513.5 241.7 L514.3 243.2 L515.2 243.9 L516.0 246.0 L516.9 247.2 L517.7 248.2 L518.6 249.5 L519.4 250.0 L520.2 251.3 L521.1 252.8 L521.9 253.5 L522.8 254.8 L523.6 256.6 L524.5 257.6 L525.3 258.3 L526.1 259.4 L527.0 260.6 L527.8 262.5 L528.7 263.4 L529.5 263.8 L530.4 265.4 L531.2 265.9 L532.0 266.4 L532.9 267.6 L533.7 269.3 L534.6 269.8 L535.4 271.2 L536.3 271.2 L537.1 271.9 L537.9 273.1 L538.8 273.6 L539.6 275.2 L540.5 275.3 L541.3 277.0 L542.2 277.7 L543.0 278.2 L543.8 278.1 L544.7 279.9 L545.5 279.6 L546.4 280.2 L547.2 282.0 L548.1 281.7 L548.9 282.4 L549.7 282.6 L550.6 284.0 L551.4 284.1 L552.3 284.0 L553.1 284.5 L554.0 285.3 L554.8 286.3 L555.6 286.5 L556.5 287.1 L557.3 287.9 L558.2 289.0 L559.0 289.5 L559.9 289.9 L560.7 289.2 L561.5 290.4 L562.4 290.9 L563.2 292.4 L564.1 291.5 L564.9 293.8 L565.8 292.5 L566.6 293.1 L567.4 294.3 L568.3 294.8 L569.1 295.5 L570.0 295.9 L570.8 295.8 L571.7 297.0 L572.5 297.3 L573.3 297.0 L574.2 297.6 L575.0 299.3 L575.9 298.7 L576.7 299.5 L577.6 300.5 L578.4 301.8 L579.2 301.4 L580.1 300.9 L580.9 302.5 L581.8 303.6 L582.6 303.3 L583.5 303.5 L584.3 304.1 L585.2 305.3 L586.0 304.0 L586.8 305.8 L587.7 304.5 L588.5 305.5 L589.4 306.2 L590.2 307.0 L591.1 305.9 L591.9 308.2 L592.7 308.9 L593.6 306.8 L594.4 309.5 L595.3 307.4 L596.1 307.9 L597.0 309.9 L597.8 308.8 L598.6 311.0 L599.5 308.7 L600.3 311.5 L601.2 309.6 L602.0 310.3 L602.9 310.8 L603.7 310.4 L604.5 311.5 L605.4 312.6 L606.2 312.1 L607.1 312.6 L607.9 313.6 L608.8 312.1 L609.6 311.4 L610.4 313.9 L611.3 311.6 L612.1 313.6 L613.0 314.2 L613.8 311.8 L614.7 313.0 L615.5 313.9 L616.3 314.3 L617.2 314.7 L618.0 313.4 L618.9 314.6 L619.7 314.7 L620.6 313.4 L621.4 312.3" stroke="#9050c0" stroke-width="1.8" fill="none"/><path d="M284.2 236.5 L285.0 237.0 L285.9 237.4 L286.7 238.0 L287.6 238.3 L288.4 238.6 L289.3 239.3 L290.1 239.8 L290.9 239.8 L291.8 240.5 L292.6 240.8 L293.5 241.0 L294.3 241.2 L295.2 241.6 L296.0 241.9 L296.8 242.1 L297.7 242.6 L298.5 242.6 L299.4 243.0 L300.2 242.9 L301.1 243.1 L301.9 243.6 L302.7 243.8 L303.6 244.0 L304.4 243.9 L305.3 244.0 L306.1 244.3 L307.0 244.4 L307.8 244.7 L308.6 244.3 L309.5 244.5 L310.3 244.8 L311.2 244.7 L312.0 245.0 L312.9 244.6 L313.7 245.1 L314.5 244.7 L315.4 244.9 L316.2 244.7 L317.1 244.9 L317.9 245.2 L318.8 245.0 L319.6 244.8 L320.4 244.9 L321.3 244.9 L322.1 244.8 L323.0 245.0 L323.8 244.8 L324.7 245.2 L325.5 245.0 L326.3 244.5 L327.2 244.3 L328.0 244.0 L328.9 243.2 L329.7 242.6 L330.6 241.7 L331.4 240.5 L332.3 239.8 L333.1 238.9 L333.9 237.4 L334.8 236.6 L335.6 235.5 L336.5 234.2 L337.3 233.0 L338.2 231.9 L339.0 230.8 L339.8 229.9 L340.7 228.4 L341.5 227.9 L342.4 226.6 L343.2 226.2 L344.1 225.3 L344.9 224.9 L345.7 224.4 L346.6 223.9 L347.4 224.2 L348.3 223.9 L349.1 224.0 L350.0 224.5 L350.8 224.4 L351.6 224.9 L352.5 225.3 L353.3 225.4 L354.2 225.8 L355.0 226.6 L355.9 226.8 L356.7 227.6 L357.5 228.4 L358.4 229.0 L359.2 229.5 L360.1 230.2 L360.9 231.0 L361.8 231.7 L362.6 232.7 L363.4 233.4 L364.3 234.1 L365.1 234.8 L366.0 235.5 L366.8 236.1 L367.7 237.2 L368.5 237.5 L369.3 238.6 L370.2 239.1 L371.0 239.8 L371.9 240.2 L372.7 240.8 L373.6 241.3 L374.4 242.2 L375.2 243.0 L376.1 243.5 L376.9 244.2 L377.8 245.3 L378.6 245.7 L379.5 247.0 L380.3 247.5 L381.1 248.5 L382.0 249.3 L382.8 250.1 L383.7 250.7 L384.5 251.7 L385.4 252.1 L386.2 252.8 L387.0 253.6 L387.9 254.5 L388.7 255.2 L389.6 255.8 L390.4 256.2 L391.3 256.6 L392.1 257.2 L392.9 257.8 L393.8 258.2 L394.6 258.4 L395.5 258.4 L396.3 258.6 L397.2 258.7 L398.0 258.4 L398.8 258.1 L399.7 257.0 L400.5 255.5 L401.4 253.8 L402.2 251.9 L403.1 249.6 L403.9 247.0 L404.7 244.0 L405.6 241.6 L406.4 239.0 L407.3 236.6 L408.1 234.3 L409.0 232.5 L409.8 230.3 L410.6 227.8 L411.5 226.0 L412.3 223.6 L413.2 221.9 L414.0 219.4 L414.9 217.6 L415.7 215.3 L416.6 213.0 L417.4 210.8 L418.2 208.3 L419.1 205.7 L419.9 203.3 L420.8 200.7 L421.6 197.7 L422.5 195.4 L423.3 192.0 L424.1 189.2 L425.0 185.9 L425.8 182.6 L426.7 179.0 L427.5 175.4 L428.4 171.5 L429.2 167.8 L430.0 163.9 L430.9 159.9 L431.7 155.9 L432.6 152.1 L433.4 148.2 L434.3 144.8 L435.1 140.4 L435.9 136.3 L436.8 132.3 L437.6 128.2 L438.5 123.6 L439.3 119.7 L440.2 115.9 L441.0 112.1 L441.8 108.6 L442.7 105.8 L443.5 102.9 L444.4 100.2 L445.2 98.3 L446.1 96.1 L446.9 94.0 L447.7 92.0 L448.6 90.4 L449.4 89.3 L450.3 87.5 L451.1 86.4 L452.0 85.3 L452.8 84.2 L453.6 83.7 L454.5 83.2 L455.3 83.1 L456.2 83.7 L457.0 84.3 L457.9 85.2 L458.7 86.0 L459.5 87.6 L460.4 89.0 L461.2 90.5 L462.1 92.0 L462.9 93.5 L463.8 95.1 L464.6 97.5 L465.4 100.0 L466.3 102.6 L467.1 105.4 L468.0 108.4 L468.8 111.6 L469.7 114.7 L470.5 118.3 L471.3 121.7 L472.2 125.6 L473.0 129.5 L473.9 132.9 L474.7 136.3 L475.6 139.7 L476.4 142.5 L477.2 145.9 L478.1 148.8 L478.9 152.2 L479.8 155.1 L480.6 158.5 L481.5 161.4 L482.3 164.8 L483.1 168.0 L484.0 171.5 L484.8 174.7 L485.7 177.8 L486.5 180.3 L487.4 183.3 L488.2 186.1 L489.0 189.0 L489.9 191.4 L490.7 194.3 L491.6 196.6 L492.4 199.4 L493.3 201.7 L494.1 204.2 L494.9 206.9 L495.8 209.0 L496.6 211.2 L497.5 212.7 L498.3 215.1 L499.2 217.1 L500.0 218.8 L500.9 220.6 L501.7 222.6 L502.5 224.4 L503.4 225.8 L504.2 227.7 L505.1 229.2 L505.9 231.3 L506.8 232.8 L507.6 233.9 L508.4 235.8 L509.3 236.7 L510.1 238.4 L511.0 240.3 L511.8 241.4 L512.7 242.8 L513.5 244.3 L514.3 245.2 L515.2 246.1 L516.0 247.6 L516.9 249.3 L517.7 250.2 L518.6 251.6 L519.4 252.7 L520.2 253.9 L521.1 254.5 L521.9 256.0 L522.8 257.1 L523.6 257.9 L524.5 259.9 L525.3 260.9 L526.1 261.3 L527.0 262.7 L527.8 264.4 L528.7 264.1 L529.5 266.4 L530.4 266.2 L531.2 267.2 L532.0 268.8 L532.9 269.7 L533.7 271.3 L534.6 271.3 L535.4 272.1 L536.3 273.2 L537.1 273.3 L537.9 275.5 L538.8 275.1 L539.6 276.3 L540.5 277.2 L541.3 277.0 L542.2 278.9 L543.0 279.3 L543.8 279.0 L544.7 280.8 L545.5 281.8 L546.4 281.6 L547.2 282.6 L548.1 282.3 L548.9 283.3 L549.7 284.6 L550.6 284.6 L551.4 285.3 L552.3 286.4 L553.1 286.3 L554.0 285.9 L554.8 286.5 L555.6 287.5 L556.5 289.2 L557.3 288.7 L558.2 289.4 L559.0 290.8 L559.9 290.6 L560.7 290.8 L561.5 290.9 L562.4 291.5 L563.2 292.7 L564.1 293.1 L564.9 294.1 L565.8 293.5 L566.6 295.5 L567.4 294.5 L568.3 295.0 L569.1 296.8 L570.0 296.1 L570.8 296.5 L571.7 298.1 L572.5 299.3 L573.3 298.6 L574.2 299.2 L575.0 300.5 L575.9 299.7 L576.7 300.8 L577.6 299.9 L578.4 300.8 L579.2 301.9 L580.1 302.1 L580.9 303.9 L581.8 303.8 L582.6 302.9 L583.5 304.5 L584.3 304.2 L585.2 305.4 L586.0 304.2 L586.8 305.7 L587.7 305.4 L588.5 307.4 L589.4 306.8 L590.2 306.1 L591.1 307.5 L591.9 307.0 L592.7 307.4 L593.6 308.4 L594.4 308.3 L595.3 310.3 L596.1 310.2 L597.0 310.3 L597.8 309.7 L598.6 309.4 L599.5 310.9 L600.3 311.7 L601.2 309.9 L602.0 311.1 L602.9 310.8 L603.7 310.7 L604.5 311.6 L605.4 312.3 L606.2 313.6 L607.1 313.1 L607.9 312.2 L608.8 314.1 L609.6 311.5 L610.4 313.9 L611.3 312.2 L612.1 313.5 L613.0 311.9 L613.8 312.6 L614.7 312.4 L615.5 313.2 L616.3 315.2 L617.2 314.2 L618.0 312.5 L618.9 313.3 L619.7 313.1 L620.6 313.0 L621.4 314.3" stroke="#48a0e0" stroke-width="1.8" fill="none"/><path d="M284.2 236.2 L285.0 237.0 L285.9 237.1 L286.7 237.6 L287.6 238.2 L288.4 238.8 L289.3 239.0 L290.1 239.7 L290.9 240.0 L291.8 240.4 L292.6 240.8 L293.5 241.2 L294.3 241.1 L295.2 241.4 L296.0 242.0 L296.8 242.4 L297.7 242.6 L298.5 242.8 L299.4 243.1 L300.2 243.3 L301.1 243.4 L301.9 243.6 L302.7 243.5 L303.6 243.9 L304.4 243.8 L305.3 244.1 L306.1 244.4 L307.0 244.2 L307.8 244.2 L308.6 244.3 L309.5 244.8 L310.3 244.8 L311.2 244.8 L312.0 244.6 L312.9 245.1 L313.7 244.8 L314.5 245.1 L315.4 245.0 L316.2 245.0 L317.1 244.9 L317.9 244.8 L318.8 245.0 L319.6 245.0 L320.4 245.0 L321.3 245.2 L322.1 245.1 L323.0 245.0 L323.8 245.2 L324.7 244.9 L325.5 244.9 L326.3 244.8 L327.2 244.5 L328.0 243.7 L328.9 243.0 L329.7 242.6 L330.6 241.8 L331.4 240.7 L332.3 239.5 L333.1 238.4 L333.9 237.6 L334.8 236.4 L335.6 235.1 L336.5 233.9 L337.3 233.2 L338.2 231.7 L339.0 230.7 L339.8 229.5 L340.7 228.4 L341.5 227.6 L342.4 226.6 L343.2 226.1 L344.1 225.3 L344.9 224.8 L345.7 224.4 L346.6 224.2 L347.4 223.9 L348.3 223.8 L349.1 224.0 L350.0 224.0 L350.8 224.5 L351.6 224.6 L352.5 225.1 L353.3 225.5 L354.2 225.7 L355.0 226.6 L355.9 226.8 L356.7 227.4 L357.5 228.1 L358.4 228.7 L359.2 229.7 L360.1 230.0 L360.9 230.9 L361.8 231.5 L362.6 232.3 L363.4 233.1 L364.3 233.9 L365.1 234.9 L366.0 235.2 L366.8 236.1 L367.7 236.7 L368.5 237.9 L369.3 238.6 L370.2 239.2 L371.0 239.5 L371.9 240.2 L372.7 240.9 L373.6 241.7 L374.4 242.2 L375.2 243.2 L376.1 243.6 L376.9 244.5 L377.8 245.0 L378.6 245.9 L379.5 246.8 L380.3 247.6 L381.1 248.5 L382.0 249.4 L382.8 250.0 L383.7 250.8 L384.5 251.4 L385.4 252.5 L386.2 252.9 L387.0 253.5 L387.9 254.5 L388.7 254.8 L389.6 255.6 L390.4 256.1 L391.3 256.6 L392.1 256.9 L392.9 257.8 L393.8 257.6 L394.6 258.1 L395.5 258.1 L396.3 258.5 L397.2 258.4 L398.0 258.2 L398.8 257.4 L399.7 256.0 L400.5 254.0 L401.4 252.1 L402.2 249.9 L403.1 247.4 L403.9 244.6 L404.7 242.0 L405.6 239.4 L406.4 237.3 L407.3 235.0 L408.1 232.9 L409.0 230.5 L409.8 228.3 L410.6 226.3 L411.5 224.1 L412.3 221.8 L413.2 219.7 L414.0 217.9 L414.9 215.3 L415.7 213.0 L416.6 210.6 L417.4 208.2 L418.2 205.8 L419.1 203.3 L419.9 200.9 L420.8 197.9 L421.6 195.0 L422.5 192.4 L423.3 189.3 L424.1 186.0 L425.0 182.8 L425.8 178.9 L426.7 175.2 L427.5 171.8 L428.4 168.2 L429.2 164.2 L430.0 160.5 L430.9 156.5 L431.7 152.6 L432.6 148.6 L433.4 145.2 L434.3 141.1 L435.1 136.9 L435.9 132.3 L436.8 128.4 L437.6 123.7 L438.5 119.6 L439.3 115.6 L440.2 112.1 L441.0 108.5 L441.8 105.9 L442.7 103.1 L443.5 101.0 L444.4 98.2 L445.2 96.5 L446.1 94.2 L446.9 92.7 L447.7 91.3 L448.6 89.5 L449.4 88.6 L450.3 87.1 L451.1 86.1 L452.0 85.0 L452.8 84.4 L453.6 84.3 L454.5 84.4 L455.3 84.7 L456.2 85.6 L457.0 86.5 L457.9 87.8 L458.7 89.1 L459.5 90.6 L460.4 92.0 L461.2 93.5 L462.1 95.1 L462.9 97.1 L463.8 99.2 L464.6 102.1 L465.4 104.9 L466.3 107.9 L467.1 111.3 L468.0 114.2 L468.8 117.4 L469.7 121.0 L470.5 124.8 L471.3 128.7 L472.2 132.1 L473.0 135.3 L473.9 138.8 L474.7 142.2 L475.6 145.4 L476.4 148.1 L477.2 151.4 L478.1 154.5 L478.9 157.8 L479.8 160.6 L480.6 164.3 L481.5 167.3 L482.3 170.5 L483.1 173.7 L484.0 176.8 L484.8 179.6 L485.7 182.7 L486.5 185.5 L487.4 188.2 L488.2 190.8 L489.0 193.7 L489.9 196.4 L490.7 198.8 L491.6 201.4 L492.4 203.9 L493.3 205.9 L494.1 208.2 L494.9 210.2 L495.8 212.2 L496.6 214.0 L497.5 216.1 L498.3 217.9 L499.2 220.0 L500.0 221.8 L500.9 223.9 L501.7 225.6 L502.5 227.3 L503.4 228.6 L504.2 230.6 L505.1 231.5 L505.9 233.0 L506.8 234.7 L507.6 236.6 L508.4 237.8 L509.3 239.6 L510.1 240.4 L511.0 241.8 L511.8 243.3 L512.7 244.8 L513.5 246.2 L514.3 247.2 L515.2 247.9 L516.0 249.8 L516.9 251.1 L517.7 252.5 L518.6 253.4 L519.4 254.1 L520.2 255.4 L521.1 257.0 L521.9 257.6 L522.8 258.6 L523.6 260.3 L524.5 261.3 L525.3 261.7 L526.1 263.3 L527.0 264.2 L527.8 265.2 L528.7 265.7 L529.5 267.5 L530.4 268.8 L531.2 268.6 L532.0 270.3 L532.9 270.4 L533.7 271.6 L534.6 272.5 L535.4 274.1 L536.3 274.3 L537.1 275.7 L537.9 276.3 L538.8 276.8 L539.6 277.1 L540.5 278.6 L541.3 278.8 L542.2 280.1 L543.0 280.0 L543.8 280.8 L544.7 281.8 L545.5 282.5 L546.4 282.3 L547.2 283.0 L548.1 283.2 L548.9 284.0 L549.7 285.2 L550.6 284.9 L551.4 285.3 L552.3 287.0 L553.1 287.4 L554.0 286.7 L554.8 287.5 L555.6 287.9 L556.5 289.7 L557.3 288.6 L558.2 289.9 L559.0 291.4 L559.9 291.7 L560.7 291.4 L561.5 292.0 L562.4 293.5 L563.2 292.4 L564.1 294.1 L564.9 294.9 L565.8 294.1 L566.6 295.3 L567.4 295.0 L568.3 296.2 L569.1 296.8 L570.0 297.8 L570.8 298.0 L571.7 298.7 L572.5 298.1 L573.3 298.6 L574.2 300.1 L575.0 299.2 L575.9 301.3 L576.7 301.3 L577.6 301.6 L578.4 302.1 L579.2 301.7 L580.1 302.5 L580.9 304.2 L581.8 304.7 L582.6 304.0 L583.5 305.5 L584.3 305.8 L585.2 304.4 L586.0 304.6 L586.8 306.7 L587.7 306.0 L588.5 307.9 L589.4 306.6 L590.2 306.8 L591.1 307.0 L591.9 308.7 L592.7 309.3 L593.6 308.6 L594.4 308.6 L595.3 308.8 L596.1 309.2 L597.0 310.8 L597.8 310.2 L598.6 311.2 L599.5 312.0 L600.3 310.3 L601.2 312.7 L602.0 312.0 L602.9 311.8 L603.7 313.4 L604.5 311.9 L605.4 312.7 L606.2 311.9 L607.1 313.1 L607.9 312.8 L608.8 314.5 L609.6 312.0 L610.4 314.5 L611.3 313.1 L612.1 312.2 L613.0 313.1 L613.8 314.4 L614.7 313.1 L615.5 313.5 L616.3 313.5 L617.2 315.4 L618.0 312.9 L618.9 314.8 L619.7 314.9 L620.6 314.3 L621.4 315.6" stroke="#b8d8b8" stroke-width="1.8" fill="none"/><path d="M284.2 236.5 L285.0 236.8 L285.9 237.4 L286.7 238.0 L287.6 238.5 L288.4 238.6 L289.3 239.0 L290.1 239.3 L290.9 239.7 L291.8 240.2 L292.6 240.8 L293.5 240.9 L294.3 241.3 L295.2 241.6 L296.0 241.9 L296.8 241.9 L297.7 242.6 L298.5 242.5 L299.4 242.7 L300.2 243.1 L301.1 243.5 L301.9 243.7 L302.7 243.4 L303.6 244.0 L304.4 243.8 L305.3 244.0 L306.1 244.2 L307.0 244.5 L307.8 244.6 L308.6 244.8 L309.5 244.8 L310.3 244.5 L311.2 244.5 L312.0 244.8 L312.9 244.9 L313.7 244.7 L314.5 245.0 L315.4 245.0 L316.2 244.8 L317.1 244.8 L317.9 245.2 L318.8 245.0 L319.6 245.3 L320.4 245.1 L321.3 245.1 L322.1 245.3 L323.0 245.1 L323.8 245.2 L324.7 245.3 L325.5 244.7 L326.3 244.7 L327.2 244.4 L328.0 243.9 L328.9 243.2 L329.7 242.5 L330.6 241.4 L331.4 240.9 L332.3 239.4 L333.1 238.5 L333.9 237.7 L334.8 236.4 L335.6 235.4 L336.5 234.2 L337.3 233.2 L338.2 231.8 L339.0 230.8 L339.8 229.7 L340.7 228.4 L341.5 227.6 L342.4 226.9 L343.2 225.9 L344.1 225.1 L344.9 224.9 L345.7 224.2 L346.6 223.8 L347.4 223.8 L348.3 223.9 L349.1 223.8 L350.0 224.3 L350.8 224.7 L351.6 224.6 L352.5 225.0 L353.3 225.7 L354.2 226.0 L355.0 226.4 L355.9 226.9 L356.7 227.7 L357.5 228.1 L358.4 229.0 L359.2 229.6 L360.1 230.1 L360.9 230.6 L361.8 231.7 L362.6 232.6 L363.4 233.2 L364.3 234.1 L365.1 234.4 L366.0 235.5 L366.8 236.1 L367.7 237.0 L368.5 237.6 L369.3 238.5 L370.2 239.1 L371.0 239.7 L371.9 240.3 L372.7 240.8 L373.6 241.4 L374.4 242.3 L375.2 242.9 L376.1 243.8 L376.9 244.2 L377.8 245.3 L378.6 245.9 L379.5 246.6 L380.3 247.4 L381.1 248.4 L382.0 249.1 L382.8 249.8 L383.7 250.7 L384.5 251.7 L385.4 252.1 L386.2 253.3 L387.0 253.8 L387.9 254.3 L388.7 254.8 L389.6 255.5 L390.4 256.1 L391.3 256.5 L392.1 257.3 L392.9 257.6 L393.8 257.8 L394.6 258.0 L395.5 258.1 L396.3 258.1 L397.2 257.8 L398.0 257.6 L398.8 256.6 L399.7 254.6 L400.5 252.9 L401.4 250.4 L402.2 248.1 L403.1 245.6 L403.9 242.8 L404.7 240.5 L405.6 237.9 L406.4 235.8 L407.3 233.2 L408.1 231.5 L409.0 229.1 L409.8 227.0 L410.6 224.8 L411.5 222.6 L412.3 220.7 L413.2 218.4 L414.0 216.1 L414.9 214.0 L415.7 211.2 L416.6 209.1 L417.4 206.3 L418.2 204.2 L419.1 201.4 L419.9 198.9 L420.8 196.0 L421.6 193.3 L422.5 189.8 L423.3 186.9 L424.1 183.6 L425.0 180.2 L425.8 176.6 L426.7 172.6 L427.5 169.0 L428.4 165.0 L429.2 161.6 L430.0 157.3 L430.9 153.5 L431.7 150.0 L432.6 146.3 L433.4 141.9 L434.3 137.6 L435.1 133.4 L435.9 129.2 L436.8 124.8 L437.6 120.6 L438.5 116.8 L439.3 113.2 L440.2 109.8 L441.0 106.3 L441.8 103.9 L442.7 101.3 L443.5 98.9 L444.4 96.8 L445.2 95.1 L446.1 93.6 L446.9 91.9 L447.7 90.1 L448.6 88.8 L449.4 88.0 L450.3 86.9 L451.1 85.9 L452.0 84.9 L452.8 84.8 L453.6 85.5 L454.5 85.6 L455.3 86.5 L456.2 87.4 L457.0 88.8 L457.9 90.0 L458.7 91.6 L459.5 92.6 L460.4 94.3 L461.2 96.1 L462.1 98.1 L462.9 100.6 L463.8 103.2 L464.6 106.1 L465.4 109.4 L466.3 112.5 L467.1 115.7 L468.0 118.8 L468.8 122.7 L469.7 126.4 L470.5 130.1 L471.3 133.7 L472.2 137.2 L473.0 140.0 L473.9 143.5 L474.7 146.8 L475.6 149.6 L476.4 152.6 L477.2 156.0 L478.1 158.8 L478.9 162.3 L479.8 165.3 L480.6 168.9 L481.5 172.0 L482.3 175.1 L483.1 177.8 L484.0 180.7 L484.8 183.7 L485.7 186.4 L486.5 189.2 L487.4 191.8 L488.2 194.8 L489.0 197.4 L489.9 200.0 L490.7 202.2 L491.6 204.3 L492.4 206.8 L493.3 208.7 L494.1 211.2 L494.9 213.1 L495.8 215.1 L496.6 216.5 L497.5 218.3 L498.3 220.1 L499.2 222.6 L500.0 223.8 L500.9 226.1 L501.7 227.7 L502.5 229.2 L503.4 230.4 L504.2 232.1 L505.1 234.1 L505.9 235.1 L506.8 236.4 L507.6 238.7 L508.4 239.9 L509.3 241.3 L510.1 242.7 L511.0 243.3 L511.8 244.5 L512.7 246.5 L513.5 247.7 L514.3 248.2 L515.2 249.3 L516.0 251.4 L516.9 252.0 L517.7 253.8 L518.6 254.4 L519.4 255.0 L520.2 257.1 L521.1 257.6 L521.9 259.5 L522.8 260.4 L523.6 261.2 L524.5 261.8 L525.3 262.9 L526.1 264.5 L527.0 265.2 L527.8 266.7 L528.7 266.9 L529.5 268.3 L530.4 268.7 L531.2 269.9 L532.0 271.5 L532.9 272.4 L533.7 273.3 L534.6 272.8 L535.4 273.7 L536.3 275.5 L537.1 276.4 L537.9 276.7 L538.8 277.2 L539.6 277.9 L540.5 278.0 L541.3 279.5 L542.2 280.4 L543.0 280.7 L543.8 280.5 L544.7 282.2 L545.5 282.8 L546.4 283.1 L547.2 284.3 L548.1 283.8 L548.9 284.2 L549.7 285.0 L550.6 285.9 L551.4 285.5 L552.3 286.0 L553.1 286.7 L554.0 288.4 L554.8 287.6 L555.6 288.5 L556.5 289.7 L557.3 290.1 L558.2 290.6 L559.0 291.0 L559.9 291.8 L560.7 292.2 L561.5 293.0 L562.4 293.3 L563.2 293.1 L564.1 295.3 L564.9 293.7 L565.8 295.3 L566.6 296.1 L567.4 296.9 L568.3 295.8 L569.1 296.3 L570.0 298.2 L570.8 298.7 L571.7 299.5 L572.5 299.2 L573.3 298.7 L574.2 299.8 L575.0 301.4 L575.9 300.4 L576.7 301.1 L577.6 302.9 L578.4 301.2 L579.2 303.1 L580.1 302.9 L580.9 304.4 L581.8 305.2 L582.6 305.3 L583.5 306.0 L584.3 306.0 L585.2 305.6 L586.0 305.8 L586.8 306.4 L587.7 306.0 L588.5 306.2 L589.4 308.0 L590.2 308.8 L591.1 307.3 L591.9 307.9 L592.7 308.5 L593.6 309.1 L594.4 309.2 L595.3 310.3 L596.1 309.8 L597.0 310.7 L597.8 311.6 L598.6 309.8 L599.5 312.2 L600.3 311.3 L601.2 312.0 L602.0 313.2 L602.9 313.2 L603.7 312.6 L604.5 313.2 L605.4 312.6 L606.2 312.2 L607.1 312.2 L607.9 313.0 L608.8 314.8 L609.6 314.8 L610.4 312.7 L611.3 313.3 L612.1 313.5 L613.0 312.9 L613.8 313.2 L614.7 315.6 L615.5 313.6 L616.3 314.5 L617.2 314.8 L618.0 315.9 L618.9 314.3 L619.7 313.8 L620.6 312.9 L621.4 314.2" stroke="#2020a8" stroke-width="1.8" fill="none"/><path d="M284.2 236.0 L285.0 237.0 L285.9 237.5 L286.7 237.8 L287.6 238.5 L288.4 238.7 L289.3 239.1 L290.1 239.6 L290.9 240.1 L291.8 240.2 L292.6 240.8 L293.5 240.8 L294.3 241.2 L295.2 241.6 L296.0 242.2 L296.8 242.4 L297.7 242.3 L298.5 242.7 L299.4 243.0 L300.2 242.9 L301.1 243.2 L301.9 243.7 L302.7 243.5 L303.6 243.6 L304.4 244.1 L305.3 243.9 L306.1 244.2 L307.0 244.2 L307.8 244.5 L308.6 244.3 L309.5 244.5 L310.3 244.6 L311.2 244.7 L312.0 244.5 L312.9 244.9 L313.7 245.1 L314.5 245.2 L315.4 244.7 L316.2 244.9 L317.1 245.2 L317.9 244.8 L318.8 244.8 L319.6 245.3 L320.4 244.8 L321.3 245.1 L322.1 245.3 L323.0 244.8 L323.8 244.8 L324.7 244.8 L325.5 245.0 L326.3 244.6 L327.2 244.4 L328.0 243.6 L328.9 243.3 L329.7 242.2 L330.6 241.6 L331.4 240.5 L332.3 239.8 L333.1 238.8 L333.9 237.3 L334.8 236.7 L335.6 235.0 L336.5 234.1 L337.3 232.8 L338.2 231.7 L339.0 230.7 L339.8 229.9 L340.7 228.6 L341.5 227.6 L342.4 226.6 L343.2 226.0 L344.1 225.4 L344.9 224.7 L345.7 224.1 L346.6 224.2 L347.4 223.7 L348.3 223.9 L349.1 224.2 L350.0 224.1 L350.8 224.5 L351.6 224.8 L352.5 225.0 L353.3 225.4 L354.2 226.1 L355.0 226.4 L355.9 227.0 L356.7 227.6 L357.5 228.3 L358.4 228.9 L359.2 229.2 L360.1 230.2 L360.9 230.9 L361.8 231.4 L362.6 232.3 L363.4 233.2 L364.3 233.8 L365.1 234.6 L366.0 235.7 L366.8 236.4 L367.7 236.9 L368.5 237.4 L369.3 238.6 L370.2 238.8 L371.0 239.6 L371.9 240.2 L372.7 241.1 L373.6 241.3 L374.4 242.0 L375.2 243.0 L376.1 243.6 L376.9 244.6 L377.8 245.2 L378.6 246.2 L379.5 246.8 L380.3 247.5 L381.1 248.5 L382.0 249.5 L382.8 250.2 L383.7 250.8 L384.5 251.7 L385.4 252.5 L386.2 253.2 L387.0 253.8 L387.9 254.3 L388.7 254.9 L389.6 255.6 L390.4 256.0 L391.3 256.7 L392.1 257.1 L392.9 257.5 L393.8 257.7 L394.6 257.7 L395.5 258.2 L396.3 258.3 L397.2 257.8 L398.0 256.9 L398.8 255.8 L399.7 253.7 L400.5 251.8 L401.4 249.2 L402.2 246.9 L403.1 244.6 L403.9 242.0 L404.7 239.5 L405.6 236.8 L406.4 234.5 L407.3 232.3 L408.1 230.4 L409.0 227.9 L409.8 225.8 L410.6 223.6 L411.5 221.5 L412.3 219.6 L413.2 217.3 L414.0 214.9 L414.9 212.5 L415.7 209.9 L416.6 207.8 L417.4 205.3 L418.2 202.5 L419.1 199.9 L419.9 197.3 L420.8 194.2 L421.6 191.1 L422.5 188.3 L423.3 184.7 L424.1 181.6 L425.0 177.9 L425.8 174.1 L426.7 170.4 L427.5 166.6 L428.4 162.8 L429.2 159.0 L430.0 155.6 L430.9 151.6 L431.7 148.0 L432.6 143.7 L433.4 139.9 L434.3 135.4 L435.1 130.8 L435.9 126.8 L436.8 122.6 L437.6 118.5 L438.5 114.4 L439.3 110.8 L440.2 107.8 L441.0 105.2 L441.8 102.2 L442.7 100.2 L443.5 97.7 L444.4 95.9 L445.2 94.4 L446.1 92.3 L446.9 91.4 L447.7 89.8 L448.6 88.7 L449.4 87.9 L450.3 86.7 L451.1 85.5 L452.0 85.6 L452.8 85.6 L453.6 86.1 L454.5 86.9 L455.3 88.0 L456.2 89.2 L457.0 90.6 L457.9 92.1 L458.7 93.5 L459.5 95.2 L460.4 96.3 L461.2 98.5 L462.1 101.1 L462.9 103.6 L463.8 106.6 L464.6 109.6 L465.4 112.5 L466.3 116.0 L467.1 119.3 L468.0 122.9 L468.8 126.4 L469.7 130.6 L470.5 133.7 L471.3 137.5 L472.2 140.5 L473.0 144.1 L473.9 147.0 L474.7 150.0 L475.6 153.3 L476.4 156.3 L477.2 159.3 L478.1 162.4 L478.9 165.6 L479.8 169.3 L480.6 172.2 L481.5 175.5 L482.3 178.5 L483.1 181.2 L484.0 183.8 L484.8 186.8 L485.7 189.8 L486.5 192.2 L487.4 194.8 L488.2 197.2 L489.0 199.8 L489.9 202.6 L490.7 204.9 L491.6 207.0 L492.4 208.7 L493.3 210.9 L494.1 212.7 L494.9 215.1 L495.8 216.8 L496.6 218.3 L497.5 220.5 L498.3 222.5 L499.2 223.8 L500.0 225.5 L500.9 227.3 L501.7 229.3 L502.5 230.4 L503.4 232.0 L504.2 233.4 L505.1 234.9 L505.9 236.8 L506.8 238.2 L507.6 239.8 L508.4 241.2 L509.3 242.3 L510.1 243.4 L511.0 244.9 L511.8 245.8 L512.7 247.8 L513.5 248.3 L514.3 249.9 L515.2 250.5 L516.0 251.6 L516.9 253.1 L517.7 254.7 L518.6 255.5 L519.4 256.7 L520.2 258.0 L521.1 258.9 L521.9 259.7 L522.8 260.5 L523.6 261.8 L524.5 262.7 L525.3 264.6 L526.1 264.7 L527.0 266.5 L527.8 267.4 L528.7 267.8 L529.5 269.5 L530.4 269.6 L531.2 270.4 L532.0 271.4 L532.9 271.8 L533.7 272.9 L534.6 274.8 L535.4 274.9 L536.3 276.0 L537.1 277.2 L537.9 276.9 L538.8 278.2 L539.6 279.3 L540.5 278.8 L541.3 280.6 L542.2 281.0 L543.0 280.7 L543.8 281.1 L544.7 282.6 L545.5 283.6 L546.4 284.1 L547.2 284.0 L548.1 285.2 L548.9 285.7 L549.7 285.0 L550.6 285.7 L551.4 286.6 L552.3 287.0 L553.1 287.5 L554.0 288.3 L554.8 288.9 L555.6 289.7 L556.5 289.9 L557.3 289.8 L558.2 290.1 L559.0 291.6 L559.9 292.0 L560.7 292.1 L561.5 293.2 L562.4 293.3 L563.2 294.7 L564.1 295.1 L564.9 295.7 L565.8 295.8 L566.6 295.3 L567.4 296.4 L568.3 298.1 L569.1 298.5 L570.0 299.0 L570.8 298.7 L571.7 298.5 L572.5 300.4 L573.3 299.0 L574.2 301.0 L575.0 300.9 L575.9 302.2 L576.7 301.8 L577.6 301.9 L578.4 303.5 L579.2 303.5 L580.1 303.8 L580.9 303.2 L581.8 304.0 L582.6 304.7 L583.5 304.1 L584.3 305.8 L585.2 306.6 L586.0 305.5 L586.8 306.4 L587.7 307.2 L588.5 307.4 L589.4 307.0 L590.2 308.1 L591.1 308.2 L591.9 309.8 L592.7 309.2 L593.6 308.3 L594.4 309.2 L595.3 310.9 L596.1 311.3 L597.0 309.8 L597.8 312.2 L598.6 311.7 L599.5 311.9 L600.3 310.9 L601.2 312.4 L602.0 310.7 L602.9 312.0 L603.7 312.2 L604.5 312.2 L605.4 312.0 L606.2 312.5 L607.1 314.2 L607.9 314.4 L608.8 313.4 L609.6 313.5 L610.4 315.4 L611.3 313.0 L612.1 313.6 L613.0 313.9 L613.8 313.1 L614.7 313.4 L615.5 315.4 L616.3 314.5 L617.2 314.6 L618.0 315.5 L618.9 315.0 L619.7 315.7 L620.6 313.2 L621.4 315.9" stroke="#a060c0" stroke-width="1.8" fill="none"/><path d="M284.2 236.3 L285.0 236.7 L285.9 237.1 L286.7 237.9 L287.6 238.5 L288.4 238.6 L289.3 239.1 L290.1 239.7 L290.9 239.8 L291.8 240.1 L292.6 240.9 L293.5 241.0 L294.3 241.4 L295.2 241.8 L296.0 242.1 L296.8 242.3 L297.7 242.6 L298.5 242.5 L299.4 242.7 L300.2 243.0 L301.1 243.4 L301.9 243.7 L302.7 243.4 L303.6 243.7 L304.4 244.2 L305.3 244.2 L306.1 244.5 L307.0 244.1 L307.8 244.2 L308.6 244.3 L309.5 244.5 L310.3 244.9 L311.2 244.8 L312.0 245.0 L312.9 244.6 L313.7 245.0 L314.5 245.1 L315.4 244.8 L316.2 245.1 L317.1 245.1 L317.9 244.8 L318.8 245.0 L319.6 245.1 L320.4 244.8 L321.3 245.2 L322.1 245.1 L323.0 244.8 L323.8 245.1 L324.7 244.8 L325.5 244.9 L326.3 244.7 L327.2 244.1 L328.0 243.6 L328.9 243.0 L329.7 242.5 L330.6 241.5 L331.4 240.7 L332.3 239.9 L333.1 238.6 L333.9 237.3 L334.8 236.4 L335.6 235.2 L336.5 234.2 L337.3 232.8 L338.2 231.7 L339.0 230.8 L339.8 229.7 L340.7 228.6 L341.5 227.9 L342.4 226.9 L343.2 225.8 L344.1 225.2 L344.9 224.8 L345.7 224.2 L346.6 224.1 L347.4 224.1 L348.3 224.1 L349.1 223.9 L350.0 224.2 L350.8 224.1 L351.6 224.8 L352.5 225.1 L353.3 225.2 L354.2 225.9 L355.0 226.2 L355.9 226.8 L356.7 227.5 L357.5 228.2 L358.4 228.6 L359.2 229.5 L360.1 230.0 L360.9 230.9 L361.8 231.9 L362.6 232.3 L363.4 233.1 L364.3 234.1 L365.1 234.6 L366.0 235.4 L366.8 236.3 L367.7 237.0 L368.5 237.5 L369.3 238.3 L370.2 238.9 L371.0 239.8 L371.9 240.2 L372.7 241.0 L373.6 241.4 L374.4 242.5 L375.2 242.8 L376.1 243.4 L376.9 244.2 L377.8 245.1 L378.6 246.0 L379.5 246.6 L380.3 247.4 L381.1 248.5 L382.0 249.1 L382.8 250.0 L383.7 250.9 L384.5 251.4 L385.4 252.6 L386.2 252.9 L387.0 253.6 L387.9 254.5 L388.7 255.0 L389.6 255.4 L390.4 255.9 L391.3 256.7 L392.1 256.9 L392.9 257.4 L393.8 257.8 L394.6 257.5 L395.5 258.0 L396.3 258.0 L397.2 257.5 L398.0 256.2 L398.8 254.7 L399.7 253.1 L400.5 250.9 L401.4 248.3 L402.2 246.0 L403.1 243.3 L403.9 240.6 L404.7 238.1 L405.6 235.9 L406.4 233.6 L407.3 231.3 L408.1 229.3 L409.0 227.0 L409.8 225.1 L410.6 222.8 L411.5 220.4 L412.3 218.2 L413.2 216.0 L414.0 213.6 L414.9 211.1 L415.7 209.1 L416.6 206.4 L417.4 204.0 L418.2 201.3 L419.1 198.5 L419.9 195.9 L420.8 193.0 L421.6 189.7 L422.5 186.7 L423.3 183.1 L424.1 180.0 L425.0 175.9 L425.8 172.4 L426.7 168.6 L427.5 164.9 L428.4 161.6 L429.2 157.6 L430.0 154.0 L430.9 150.0 L431.7 146.3 L432.6 142.1 L433.4 137.6 L434.3 133.5 L435.1 128.9 L435.9 124.7 L436.8 120.4 L437.6 116.2 L438.5 112.5 L439.3 109.4 L440.2 106.5 L441.0 103.9 L441.8 101.5 L442.7 99.3 L443.5 97.0 L444.4 95.0 L445.2 93.3 L446.1 92.1 L446.9 90.7 L447.7 89.9 L448.6 88.8 L449.4 87.3 L450.3 86.6 L451.1 85.8 L452.0 86.3 L452.8 86.6 L453.6 87.3 L454.5 88.4 L455.3 89.3 L456.2 90.5 L457.0 91.9 L457.9 93.6 L458.7 95.2 L459.5 96.6 L460.4 98.3 L461.2 100.8 L462.1 103.3 L462.9 106.1 L463.8 109.0 L464.6 112.5 L465.4 115.4 L466.3 118.6 L467.1 122.5 L468.0 126.0 L468.8 129.8 L469.7 133.5 L470.5 136.8 L471.3 140.6 L472.2 143.5 L473.0 147.0 L473.9 149.9 L474.7 153.0 L475.6 155.9 L476.4 159.1 L477.2 162.5 L478.1 165.6 L478.9 168.5 L479.8 172.1 L480.6 174.8 L481.5 178.0 L482.3 181.1 L483.1 183.9 L484.0 186.6 L484.8 189.2 L485.7 191.7 L486.5 194.3 L487.4 197.2 L488.2 199.5 L489.0 201.7 L489.9 204.3 L490.7 206.7 L491.6 208.7 L492.4 210.6 L493.3 212.5 L494.1 214.8 L494.9 216.6 L495.8 218.3 L496.6 220.2 L497.5 221.8 L498.3 223.3 L499.2 225.6 L500.0 227.1 L500.9 228.4 L501.7 230.5 L502.5 232.0 L503.4 233.0 L504.2 235.1 L505.1 236.1 L505.9 237.5 L506.8 238.8 L507.6 240.3 L508.4 241.5 L509.3 243.5 L510.1 244.1 L511.0 245.5 L511.8 247.0 L512.7 247.9 L513.5 249.1 L514.3 251.0 L515.2 251.4 L516.0 253.2 L516.9 254.0 L517.7 254.7 L518.6 256.1 L519.4 256.9 L520.2 258.2 L521.1 259.6 L521.9 261.1 L522.8 262.2 L523.6 262.4 L524.5 264.1 L525.3 265.1 L526.1 265.5 L527.0 267.0 L527.8 267.5 L528.7 268.9 L529.5 269.4 L530.4 270.4 L531.2 270.9 L532.0 272.3 L532.9 273.2 L533.7 274.2 L534.6 275.1 L535.4 275.8 L536.3 276.7 L537.1 277.5 L537.9 277.7 L538.8 278.6 L539.6 279.8 L540.5 279.7 L541.3 280.2 L542.2 280.7 L543.0 282.1 L543.8 282.5 L544.7 281.9 L545.5 283.9 L546.4 284.2 L547.2 284.0 L548.1 284.4 L548.9 284.7 L549.7 286.1 L550.6 286.4 L551.4 287.5 L552.3 287.9 L553.1 287.5 L554.0 288.7 L554.8 288.6 L555.6 290.4 L556.5 290.2 L557.3 289.8 L558.2 291.4 L559.0 291.3 L559.9 293.2 L560.7 293.6 L561.5 293.1 L562.4 294.9 L563.2 294.8 L564.1 294.0 L564.9 296.5 L565.8 296.5 L566.6 295.6 L567.4 296.8 L568.3 297.4 L569.1 298.1 L570.0 298.0 L570.8 299.2 L571.7 298.8 L572.5 299.4 L573.3 299.2 L574.2 301.4 L575.0 302.1 L575.9 300.7 L576.7 302.6 L577.6 302.2 L578.4 302.7 L579.2 303.3 L580.1 303.8 L580.9 305.3 L581.8 305.6 L582.6 305.6 L583.5 305.5 L584.3 305.5 L585.2 306.2 L586.0 305.3 L586.8 308.0 L587.7 307.0 L588.5 307.3 L589.4 307.5 L590.2 308.5 L591.1 308.5 L591.9 308.8 L592.7 309.5 L593.6 308.7 L594.4 310.6 L595.3 311.0 L596.1 309.4 L597.0 310.0 L597.8 312.2 L598.6 311.7 L599.5 312.5 L600.3 313.1 L601.2 312.2 L602.0 312.8 L602.9 311.8 L603.7 313.6 L604.5 312.6 L605.4 312.2 L606.2 312.7 L607.1 312.4 L607.9 312.2 L608.8 312.4 L609.6 315.1 L610.4 314.0 L611.3 314.2 L612.1 315.6 L613.0 313.9 L613.8 315.1 L614.7 313.6 L615.5 315.8 L616.3 315.9 L617.2 315.1 L618.0 313.6 L618.9 315.5 L619.7 315.2 L620.6 313.4 L621.4 316.1" stroke="#28d428" stroke-width="1.8" fill="none"/></g><rect x="284.2" y="22.0" width="337.2" height="298.0" fill="none" stroke="#6a6a6a" stroke-width="1.6"/><line x1="284.2" y1="320.5" x2="621.4" y2="320.5" stroke="#555" stroke-width="2.6"/><path d="M340.4 22.0v6M340.4 320.0v-6M396.6 22.0v6M396.6 320.0v-6M452.8 22.0v6M452.8 320.0v-6M509.0 22.0v6M509.0 320.0v-6M565.2 22.0v6M565.2 320.0v-6M284.2 245.5h6M621.4 245.5h-6M284.2 171.0h6M621.4 171.0h-6M284.2 96.5h6M621.4 96.5h-6" stroke="#6a6a6a" stroke-width="1.3"/><text x="285.4" y="344.3" font-size="19.5" text-anchor="middle" fill="#222" stroke="#222" stroke-width="0.35">400</text><text x="341.6" y="344.3" font-size="19.5" text-anchor="middle" fill="#222" stroke="#222" stroke-width="0.35">500</text><text x="397.8" y="344.3" font-size="19.5" text-anchor="middle" fill="#222" stroke="#222" stroke-width="0.35">600</text><text x="454.0" y="344.3" font-size="19.5" text-anchor="middle" fill="#222" stroke="#222" stroke-width="0.35">700</text><text x="510.2" y="344.3" font-size="19.5" text-anchor="middle" fill="#222" stroke="#222" stroke-width="0.35">800</text><text x="566.4" y="344.3" font-size="19.5" text-anchor="middle" fill="#222" stroke="#222" stroke-width="0.35">900</text><text x="622.6" y="344.3" font-size="19.5" text-anchor="middle" fill="#222" stroke="#222" stroke-width="0.35">1000</text><text x="275.5" y="324.2" font-size="20" text-anchor="end" fill="#222" stroke="#222" stroke-width="0.35">0</text><text x="275.5" y="249.7" font-size="20" text-anchor="end" fill="#222" stroke="#222" stroke-width="0.35">0.5</text><text x="275.5" y="175.2" font-size="20" text-anchor="end" fill="#222" stroke="#222" stroke-width="0.35">1</text><text x="275.5" y="100.7" font-size="20" text-anchor="end" fill="#222" stroke="#222" stroke-width="0.35">1.5</text><text x="275.5" y="26.2" font-size="20" text-anchor="end" fill="#222" stroke="#222" stroke-width="0.35">2</text><text x="455" y="370" font-size="19.7" text-anchor="middle" fill="#222" stroke="#222" stroke-width="0.3">Wavelength / nm</text><text transform="translate(237.5 169) rotate(-90)" font-size="19.5" text-anchor="middle" fill="#222" stroke="#222" stroke-width="0.3">Extinction</text><text x="402.8" y="38.3" font-size="11.2" text-anchor="end" fill="#555" stroke="#555" stroke-width="0.35" letter-spacing="-0.45">Standing time / min</text><text x="403" y="49.8" font-size="10.5" text-anchor="end" fill="#555" stroke="#555" stroke-width="0.35" letter-spacing="-0.6">90</text><text x="403" y="61.6" font-size="10.5" text-anchor="end" fill="#555" stroke="#555" stroke-width="0.35" letter-spacing="-0.6">85</text><text x="403" y="73.5" font-size="10.5" text-anchor="end" fill="#555" stroke="#555" stroke-width="0.35" letter-spacing="-0.6">80</text><text x="403" y="85.3" font-size="10.5" text-anchor="end" fill="#555" stroke="#555" stroke-width="0.35" letter-spacing="-0.6">75</text><text x="403" y="97.1" font-size="10.5" text-anchor="end" fill="#555" stroke="#555" stroke-width="0.35" letter-spacing="-0.6">70</text><text x="403" y="109.0" font-size="10.5" text-anchor="end" fill="#555" stroke="#555" stroke-width="0.35" letter-spacing="-0.6">65</text><text x="403" y="120.8" font-size="10.5" text-anchor="end" fill="#555" stroke="#555" stroke-width="0.35" letter-spacing="-0.6">60</text><text x="403" y="132.6" font-size="10.5" text-anchor="end" fill="#555" stroke="#555" stroke-width="0.35" letter-spacing="-0.6">55</text><text x="403" y="144.4" font-size="10.5" text-anchor="end" fill="#555" stroke="#555" stroke-width="0.35" letter-spacing="-0.6">45</text><text x="403" y="156.3" font-size="10.5" text-anchor="end" fill="#555" stroke="#555" stroke-width="0.35" letter-spacing="-0.6">40</text><text x="403" y="168.1" font-size="10.5" text-anchor="end" fill="#555" stroke="#555" stroke-width="0.35" letter-spacing="-0.6">35</text><text x="403" y="179.9" font-size="10.5" text-anchor="end" fill="#555" stroke="#555" stroke-width="0.35" letter-spacing="-0.6">30</text><text x="403" y="191.8" font-size="10.5" text-anchor="end" fill="#555" stroke="#555" stroke-width="0.35" letter-spacing="-0.6">25</text><text x="403" y="203.6" font-size="10.5" text-anchor="end" fill="#555" stroke="#555" stroke-width="0.35" letter-spacing="-0.6">20</text><text x="403" y="215.4" font-size="10.5" text-anchor="end" fill="#555" stroke="#555" stroke-width="0.35" letter-spacing="-0.6">15</text><text x="403" y="227.2" font-size="10.5" text-anchor="end" fill="#555" stroke="#555" stroke-width="0.35" letter-spacing="-0.6">10</text><text x="403" y="239.1" font-size="10.5" text-anchor="end" fill="#555" stroke="#555" stroke-width="0.35" letter-spacing="-0.6">5</text><line x1="417.7" y1="36" x2="417.7" y2="320" stroke="#86cff0" stroke-width="1.2"/><path d="M413.8 40 L417.7 30.5 L421.6 40 L417.7 37.8Z" fill="#3aaee4"/><text x="534" y="63.5" font-size="14" fill="#35b0e0" stroke="#35b0e0" stroke-width="0.3">25 min</text><line x1="552.7" y1="67" x2="527" y2="85.5" stroke="#5ac0ea" stroke-width="1.1"/><path d="M521.5 89.5 L526 80 L531 87.5Z" fill="#35b0e0"/><rect x="742.7" y="27.5" width="379.9" height="300.2" fill="none" stroke="#777" stroke-width="1.3"/><line x1="742.7" y1="327.7" x2="1122.6" y2="327.7" stroke="#6e6e6e" stroke-width="1.7"/><line x1="742.7" y1="27.5" x2="742.7" y2="327.7" stroke="#6e6e6e" stroke-width="1.7"/><path d="M790.2 27.5v6M790.2 327.7v-6M837.7 27.5v6M837.7 327.7v-6M885.2 27.5v6M885.2 327.7v-6M932.6 27.5v6M932.6 327.7v-6M980.1 27.5v6M980.1 327.7v-6M1027.6 27.5v6M1027.6 327.7v-6M1075.1 27.5v6M1075.1 327.7v-6M742.7 277.7h6M1122.6 277.7h-6M742.7 227.6h6M1122.6 227.6h-6M742.7 177.6h6M1122.6 177.6h-6M742.7 127.6h6M1122.6 127.6h-6M742.7 77.5h6M1122.6 77.5h-6" stroke="#6a6a6a" stroke-width="1.3"/><text x="741.2" y="352.2" font-size="20" text-anchor="middle" fill="#222" stroke="#222" stroke-width="0.35">0</text><text x="788.7" y="352.2" font-size="20" text-anchor="middle" fill="#222" stroke="#222" stroke-width="0.35">10</text><text x="836.2" y="352.2" font-size="20" text-anchor="middle" fill="#222" stroke="#222" stroke-width="0.35">20</text><text x="883.7" y="352.2" font-size="20" text-anchor="middle" fill="#222" stroke="#222" stroke-width="0.35">30</text><text x="931.1" y="352.2" font-size="20" text-anchor="middle" fill="#222" stroke="#222" stroke-width="0.35">40</text><text x="978.6" y="352.2" font-size="20" text-anchor="middle" fill="#222" stroke="#222" stroke-width="0.35">50</text><text x="1026.1" y="352.2" font-size="20" text-anchor="middle" fill="#222" stroke="#222" stroke-width="0.35">60</text><text x="1073.6" y="352.2" font-size="20" text-anchor="middle" fill="#222" stroke="#222" stroke-width="0.35">70</text><text x="1121.1" y="352.2" font-size="20" text-anchor="middle" fill="#222" stroke="#222" stroke-width="0.35">80</text><text x="732.5" y="332.6" font-size="20" text-anchor="end" fill="#222" stroke="#222" stroke-width="0.35">0</text><text x="732.5" y="282.6" font-size="20" text-anchor="end" fill="#222" stroke="#222" stroke-width="0.35">0.1</text><text x="732.5" y="232.5" font-size="20" text-anchor="end" fill="#222" stroke="#222" stroke-width="0.35">0.2</text><text x="732.5" y="182.5" font-size="20" text-anchor="end" fill="#222" stroke="#222" stroke-width="0.35">0.3</text><text x="732.5" y="132.5" font-size="20" text-anchor="end" fill="#222" stroke="#222" stroke-width="0.35">0.4</text><text x="732.5" y="82.4" font-size="20" text-anchor="end" fill="#222" stroke="#222" stroke-width="0.35">0.5</text><text x="732.5" y="32.4" font-size="20" text-anchor="end" fill="#222" stroke="#222" stroke-width="0.35">0.6</text><text x="932.5" y="376" font-size="20" text-anchor="middle" fill="#222" stroke="#222" stroke-width="0.3">Standing time / min</text><text transform="translate(687.8 175.5) rotate(-90)" font-size="20.5" text-anchor="middle" fill="#222" stroke="#222" stroke-width="0.3">Extinction at 400 nm</text><path d="M742.7 327.7 L745.1 327.5 L747.4 327.0 L749.8 326.2 L752.2 325.1 L754.6 323.7 L756.9 322.2 L759.3 320.4 L761.7 318.5 L764.1 316.4 L766.4 314.2 L768.8 311.1 L771.2 306.5 L773.6 300.6 L775.9 293.8 L778.3 286.3 L780.7 278.5 L783.1 270.7 L785.4 263.0 L787.8 255.9 L790.2 249.6 L792.6 243.8 L794.9 237.9 L797.3 231.9 L799.7 226.1 L802.1 220.4 L804.4 214.9 L806.8 209.8 L809.2 205.2 L811.6 201.1 L813.9 197.6 L816.3 194.5 L818.7 191.6 L821.1 188.8 L823.4 186.1 L825.8 183.7 L828.2 181.5 L830.6 179.5 L832.9 177.7 L835.3 176.3 L837.7 175.1 L840.0 174.1 L842.4 173.2 L844.8 172.4 L847.2 171.6 L849.5 170.9 L851.9 170.3 L854.3 169.7 L856.7 169.3 L859.0 168.9 L861.4 168.6 L863.8 168.4 L866.2 168.1 L868.5 168.0 L870.9 167.8 L873.3 167.6 L875.7 167.5 L878.0 167.4 L880.4 167.3 L882.8 167.2 L885.2 167.1 L887.5 167.0 L889.9 167.0 L892.3 166.9 L894.7 166.9 L897.0 166.8 L899.4 166.8 L901.8 166.7 L904.2 166.7 L906.5 166.6 L908.9 166.6 L911.3 166.5 L913.7 166.5 L916.0 166.4 L918.4 166.4 L920.8 166.3 L923.2 166.3 L925.5 166.2 L927.9 166.2 L930.3 166.1 L932.6 166.1 L935.0 166.0 L937.4 166.0 L939.8 165.9 L942.1 165.9 L944.5 165.8 L946.9 165.8 L949.3 165.7 L951.6 165.7 L954.0 165.6 L956.4 165.6 L958.8 165.5 L961.1 165.5 L963.5 165.4 L965.9 165.4 L968.3 165.3 L970.6 165.3 L973.0 165.2 L975.4 165.2 L977.8 165.1 L980.1 165.1 L982.5 165.0 L984.9 165.0 L987.3 164.9 L989.6 164.8 L992.0 164.8 L994.4 164.7 L996.8 164.7 L999.1 164.6 L1001.5 164.6 L1003.9 164.6 L1006.3 164.6 L1008.6 164.6 L1011.0 164.6 L1013.4 164.6 L1015.8 164.6 L1018.1 164.6 L1020.5 164.6 L1022.9 164.6 L1025.3 164.6 L1027.6 164.6 L1030.0 164.6 L1032.4 164.6 L1034.7 164.6 L1037.1 164.6 L1039.5 164.6 L1041.9 164.6 L1044.2 164.6 L1046.6 164.6 L1049.0 164.6 L1051.4 164.6 L1053.7 164.6 L1056.1 164.6 L1058.5 164.7 L1060.9 164.7 L1063.2 164.7 L1065.6 164.8 L1068.0 164.9 L1070.4 164.9 L1072.7 165.0 L1075.1 165.1" stroke="#86e086" stroke-width="1.1" fill="none"/><path d="M742.7 327.7 L745.1 327.6 L747.4 327.4 L749.8 327.1 L752.2 326.6 L754.6 326.0 L756.9 325.4 L759.3 324.6 L761.7 323.7 L764.1 322.7 L766.4 321.7 L768.8 320.0 L771.2 317.1 L773.6 313.2 L775.9 308.5 L778.3 303.1 L780.7 297.1 L783.1 290.9 L785.4 284.4 L787.8 278.0 L790.2 271.7 L792.6 265.0 L794.9 257.6 L797.3 249.6 L799.7 241.1 L802.1 232.4 L804.4 223.6 L806.8 214.9 L809.2 206.5 L811.6 198.5 L813.9 191.1 L816.3 184.1 L818.7 177.0 L821.1 170.1 L823.4 163.2 L825.8 156.6 L828.2 150.3 L830.6 144.3 L832.9 138.7 L835.3 133.6 L837.7 129.1 L840.0 124.9 L842.4 120.9 L844.8 117.1 L847.2 113.4 L849.5 110.0 L851.9 106.9 L854.3 103.9 L856.7 101.3 L859.0 99.0 L861.4 97.0 L863.8 95.3 L866.2 93.6 L868.5 92.1 L870.9 90.6 L873.3 89.3 L875.7 88.1 L878.0 87.0 L880.4 86.0 L882.8 85.2 L885.2 84.5 L887.5 84.0 L889.9 83.4 L892.3 82.9 L894.7 82.5 L897.0 82.1 L899.4 81.7 L901.8 81.3 L904.2 81.0 L906.5 80.8 L908.9 80.5 L911.3 80.3 L913.7 80.1 L916.0 80.0 L918.4 79.8 L920.8 79.7 L923.2 79.5 L925.5 79.4 L927.9 79.3 L930.3 79.2 L932.6 79.0 L935.0 78.9 L937.4 78.8 L939.8 78.7 L942.1 78.6 L944.5 78.5 L946.9 78.4 L949.3 78.3 L951.6 78.2 L954.0 78.1 L956.4 78.0 L958.8 78.0 L961.1 77.9 L963.5 77.8 L965.9 77.8 L968.3 77.7 L970.6 77.6 L973.0 77.6 L975.4 77.6 L977.8 77.5 L980.1 77.5 L982.5 77.5 L984.9 77.5 L987.3 77.5 L989.6 77.5 L992.0 77.5 L994.4 77.5 L996.8 77.5 L999.1 77.5 L1001.5 77.5 L1003.9 77.5 L1006.3 77.5 L1008.6 77.5 L1011.0 77.5 L1013.4 77.5 L1015.8 77.5 L1018.1 77.5 L1020.5 77.5 L1022.9 77.5 L1025.3 77.5 L1027.6 77.5 L1030.0 77.5 L1032.4 77.5 L1034.7 77.5 L1037.1 77.4 L1039.5 77.3 L1041.9 77.3 L1044.2 77.2 L1046.6 77.1 L1049.0 77.1 L1051.4 77.0 L1053.7 77.0 L1056.1 76.9 L1058.5 76.9 L1060.9 76.8 L1063.2 76.8 L1065.6 76.7 L1068.0 76.7 L1070.4 76.6 L1072.7 76.6 L1075.1 76.5 L1077.5 76.5 L1079.9 76.4 L1082.2 76.4 L1084.6 76.3 L1087.0 76.2 L1089.4 76.2 L1091.7 76.1 L1094.1 76.1 L1096.5 76.0 L1098.9 76.0 L1101.2 76.0 L1103.6 76.0 L1106.0 76.0 L1108.4 76.0 L1110.7 76.0 L1113.1 76.0 L1115.5 76.0 L1117.9 76.0 L1120.2 76.0 L1122.6 76.0" stroke="#f27474" stroke-width="1.1" fill="none"/><path d="M742.7 327.7 L745.1 327.6 L747.4 327.4 L749.8 327.1 L752.2 326.7 L754.6 326.2 L756.9 325.6 L759.3 325.0 L761.7 324.3 L764.1 323.5 L766.4 322.7 L768.8 321.7 L771.2 320.4 L773.6 318.8 L775.9 317.0 L778.3 314.8 L780.7 312.4 L783.1 309.7 L785.4 306.8 L787.8 303.6 L790.2 300.2 L792.6 295.9 L794.9 290.4 L797.3 283.7 L799.7 276.0 L802.1 267.6 L804.4 258.6 L806.8 249.2 L809.2 239.6 L811.6 230.0 L813.9 220.6 L816.3 210.8 L818.7 199.9 L821.1 188.4 L823.4 176.3 L825.8 164.1 L828.2 152.0 L830.6 140.3 L832.9 129.2 L835.3 119.0 L837.7 110.1 L840.0 101.6 L842.4 92.9 L844.8 84.2 L847.2 75.7 L849.5 67.7 L851.9 60.5 L854.3 54.3 L856.7 49.3 L859.0 45.8 L861.4 44.0 L863.8 43.2 L866.2 42.5 L868.5 41.8 L870.9 41.2 L873.3 40.7 L875.7 40.3 L878.0 39.9 L880.4 39.7 L882.8 39.6 L885.2 39.5 L887.5 39.5 L889.9 39.6 L892.3 39.6 L894.7 39.7 L897.0 39.8 L899.4 39.8 L901.8 39.9 L904.2 40.0 L906.5 40.0 L908.9 40.0 L911.3 40.0 L913.7 40.0 L916.0 39.9 L918.4 39.8 L920.8 39.8 L923.2 39.7 L925.5 39.6 L927.9 39.6 L930.3 39.5 L932.6 39.5 L935.0 39.5 L937.4 39.5 L939.8 39.5 L942.1 39.5 L944.5 39.5 L946.9 39.5 L949.3 39.5 L951.6 39.5 L954.0 39.5 L956.4 39.5 L958.8 39.5 L961.1 39.5 L963.5 39.5 L965.9 39.5 L968.3 39.5 L970.6 39.5 L973.0 39.5 L975.4 39.5 L977.8 39.5 L980.1 39.5 L982.5 39.5 L984.9 39.5 L987.3 39.5 L989.6 39.5 L992.0 39.5 L994.4 39.5 L996.8 39.5 L999.1 39.5 L1001.5 39.5 L1003.9 39.5 L1006.3 39.5 L1008.6 39.5 L1011.0 39.5 L1013.4 39.5 L1015.8 39.5 L1018.1 39.5 L1020.5 39.5 L1022.9 39.5 L1025.3 39.5 L1027.6 39.5 L1030.0 39.5 L1032.4 39.5 L1034.7 39.5 L1037.1 39.5 L1039.5 39.5 L1041.9 39.5 L1044.2 39.5 L1046.6 39.5 L1049.0 39.5 L1051.4 39.5 L1053.7 39.5 L1056.1 39.5 L1058.5 39.5 L1060.9 39.5 L1063.2 39.5 L1065.6 39.5 L1068.0 39.5 L1070.4 39.5 L1072.7 39.5 L1075.1 39.5 L1077.5 39.5 L1079.9 39.5 L1082.2 39.4 L1084.6 39.3 L1087.0 39.3 L1089.4 39.2 L1091.7 39.1 L1094.1 39.1 L1096.5 39.0 L1098.9 39.0 L1101.2 39.0 L1103.6 39.0 L1106.0 39.0 L1108.4 39.0 L1110.7 39.0 L1113.1 39.0 L1115.5 39.0 L1117.9 39.0 L1120.2 39.0 L1122.6 39.0" stroke="#7ea4f0" stroke-width="1.1" fill="none"/><circle cx="742.7" cy="327.7" r="5.4" fill="#fff" stroke="#86e086" stroke-width="1.1"/><circle cx="766.4" cy="314.2" r="5.4" fill="#fff" stroke="#86e086" stroke-width="1.1"/><circle cx="790.2" cy="249.6" r="5.4" fill="#fff" stroke="#86e086" stroke-width="1.1"/><circle cx="813.9" cy="197.6" r="5.4" fill="#fff" stroke="#86e086" stroke-width="1.1"/><circle cx="837.7" cy="175.1" r="5.4" fill="#fff" stroke="#86e086" stroke-width="1.1"/><circle cx="861.4" cy="168.6" r="5.4" fill="#fff" stroke="#86e086" stroke-width="1.1"/><circle cx="885.2" cy="167.1" r="5.4" fill="#fff" stroke="#86e086" stroke-width="1.1"/><circle cx="908.9" cy="166.6" r="5.4" fill="#fff" stroke="#86e086" stroke-width="1.1"/><circle cx="932.6" cy="166.1" r="5.4" fill="#fff" stroke="#86e086" stroke-width="1.1"/><circle cx="956.4" cy="165.6" r="5.4" fill="#fff" stroke="#86e086" stroke-width="1.1"/><circle cx="980.1" cy="165.1" r="5.4" fill="#fff" stroke="#86e086" stroke-width="1.1"/><circle cx="1003.9" cy="164.6" r="5.4" fill="#fff" stroke="#86e086" stroke-width="1.1"/><circle cx="1027.6" cy="164.6" r="5.4" fill="#fff" stroke="#86e086" stroke-width="1.1"/><circle cx="1051.4" cy="164.6" r="5.4" fill="#fff" stroke="#86e086" stroke-width="1.1"/><circle cx="1075.1" cy="165.1" r="5.4" fill="#fff" stroke="#86e086" stroke-width="1.1"/><rect x="737.4" y="322.4" width="10.6" height="10.6" fill="#fff" stroke="#f27474" stroke-width="1.1"/><rect x="761.1" y="316.4" width="10.6" height="10.6" fill="#fff" stroke="#f27474" stroke-width="1.1"/><rect x="784.9" y="266.4" width="10.6" height="10.6" fill="#fff" stroke="#f27474" stroke-width="1.1"/><rect x="808.6" y="185.8" width="10.6" height="10.6" fill="#fff" stroke="#f27474" stroke-width="1.1"/><rect x="832.4" y="123.8" width="10.6" height="10.6" fill="#fff" stroke="#f27474" stroke-width="1.1"/><rect x="856.1" y="91.7" width="10.6" height="10.6" fill="#fff" stroke="#f27474" stroke-width="1.1"/><rect x="879.9" y="79.2" width="10.6" height="10.6" fill="#fff" stroke="#f27474" stroke-width="1.1"/><rect x="903.6" y="75.2" width="10.6" height="10.6" fill="#fff" stroke="#f27474" stroke-width="1.1"/><rect x="927.4" y="73.7" width="10.6" height="10.6" fill="#fff" stroke="#f27474" stroke-width="1.1"/><rect x="951.1" y="72.7" width="10.6" height="10.6" fill="#fff" stroke="#f27474" stroke-width="1.1"/><rect x="974.8" y="72.2" width="10.6" height="10.6" fill="#fff" stroke="#f27474" stroke-width="1.1"/><rect x="998.6" y="72.2" width="10.6" height="10.6" fill="#fff" stroke="#f27474" stroke-width="1.1"/><rect x="1022.3" y="72.2" width="10.6" height="10.6" fill="#fff" stroke="#f27474" stroke-width="1.1"/><rect x="1046.1" y="71.7" width="10.6" height="10.6" fill="#fff" stroke="#f27474" stroke-width="1.1"/><rect x="1069.8" y="71.2" width="10.6" height="10.6" fill="#fff" stroke="#f27474" stroke-width="1.1"/><rect x="1093.6" y="70.7" width="10.6" height="10.6" fill="#fff" stroke="#f27474" stroke-width="1.1"/><rect x="1117.3" y="70.7" width="10.6" height="10.6" fill="#fff" stroke="#f27474" stroke-width="1.1"/><path d="M742.7 321.1l6.6 6.6l-6.6 6.6l-6.6 -6.6Z" fill="#fff" stroke="#7ea4f0" stroke-width="1.1"/><path d="M766.4 316.1l6.6 6.6l-6.6 6.6l-6.6 -6.6Z" fill="#fff" stroke="#7ea4f0" stroke-width="1.1"/><path d="M790.2 293.6l6.6 6.6l-6.6 6.6l-6.6 -6.6Z" fill="#fff" stroke="#7ea4f0" stroke-width="1.1"/><path d="M813.9 214.0l6.6 6.6l-6.6 6.6l-6.6 -6.6Z" fill="#fff" stroke="#7ea4f0" stroke-width="1.1"/><path d="M837.7 103.5l6.6 6.6l-6.6 6.6l-6.6 -6.6Z" fill="#fff" stroke="#7ea4f0" stroke-width="1.1"/><path d="M861.4 37.4l6.6 6.6l-6.6 6.6l-6.6 -6.6Z" fill="#fff" stroke="#7ea4f0" stroke-width="1.1"/><path d="M885.2 32.9l6.6 6.6l-6.6 6.6l-6.6 -6.6Z" fill="#fff" stroke="#7ea4f0" stroke-width="1.1"/><path d="M908.9 33.4l6.6 6.6l-6.6 6.6l-6.6 -6.6Z" fill="#fff" stroke="#7ea4f0" stroke-width="1.1"/><path d="M932.6 32.9l6.6 6.6l-6.6 6.6l-6.6 -6.6Z" fill="#fff" stroke="#7ea4f0" stroke-width="1.1"/><path d="M956.4 32.9l6.6 6.6l-6.6 6.6l-6.6 -6.6Z" fill="#fff" stroke="#7ea4f0" stroke-width="1.1"/><path d="M980.1 32.9l6.6 6.6l-6.6 6.6l-6.6 -6.6Z" fill="#fff" stroke="#7ea4f0" stroke-width="1.1"/><path d="M1003.9 32.9l6.6 6.6l-6.6 6.6l-6.6 -6.6Z" fill="#fff" stroke="#7ea4f0" stroke-width="1.1"/><path d="M1027.6 32.9l6.6 6.6l-6.6 6.6l-6.6 -6.6Z" fill="#fff" stroke="#7ea4f0" stroke-width="1.1"/><path d="M1051.4 32.9l6.6 6.6l-6.6 6.6l-6.6 -6.6Z" fill="#fff" stroke="#7ea4f0" stroke-width="1.1"/><path d="M1075.1 32.9l6.6 6.6l-6.6 6.6l-6.6 -6.6Z" fill="#fff" stroke="#7ea4f0" stroke-width="1.1"/><path d="M1098.9 32.4l6.6 6.6l-6.6 6.6l-6.6 -6.6Z" fill="#fff" stroke="#7ea4f0" stroke-width="1.1"/><path d="M1122.6 32.4l6.6 6.6l-6.6 6.6l-6.6 -6.6Z" fill="#fff" stroke="#7ea4f0" stroke-width="1.1"/><g clip-path="url(#clipT)"><rect x="1152.0" y="4.0" width="379.0" height="350.5" fill="#8c8c8c"/><ellipse cx="1160" cy="40" rx="30" ry="60" fill="#666" opacity="0.35" filter="url(#b10)"/><path d="M1265.0 140.0L1362.0 360.0" stroke="#bdbdbd" stroke-width="22.0" stroke-linecap="round" opacity="0.45" filter="url(#b10)" fill="none"/><path d="M1207.0 160.0L1327.0 440.0" stroke="#5e5e5e" stroke-width="80.0" stroke-linecap="round" opacity="0.68" filter="url(#b4)" fill="none"/><path d="M1212.0 165.0L1250.0 245.0" stroke="#3a3a3a" stroke-width="46.0" stroke-linecap="round" opacity="0.30" filter="url(#b10)" fill="none"/><path d="M1320.0 158.0L1381.0 305.0" stroke="#626262" stroke-width="80.0" stroke-linecap="round" opacity="0.62" filter="url(#b4)" fill="none"/><path d="M1548.0 168.0L1495.0 276.0" stroke="#5a5a5a" stroke-width="80.0" stroke-linecap="round" opacity="0.62" filter="url(#b4)" fill="none"/><g opacity="0.16"><path d="M1320 157L1382 306" stroke="url(#lat)" stroke-width="74" stroke-linecap="round"/><path d="M1208 160L1335 440" stroke="url(#lat)" stroke-width="72" stroke-linecap="round"/></g><rect x="1152.0" y="4.0" width="379.0" height="350.5" filter="url(#tn)" opacity="0.26" style="mix-blend-mode:overlay"/><path d="M1346 248 L1372 232" stroke="#ccc" stroke-width="0.7" opacity="0.5"/><ellipse cx="1362" cy="228" rx="4.5" ry="2.8" fill="#ddd" opacity="0.6" filter="url(#b2)"/><circle cx="1353" cy="237" r="1.6" fill="#eee" opacity="0.8"/><circle cx="1359.5" cy="244" r="1.6" fill="#eee" opacity="0.8"/></g><g clip-path="url(#clipI)"><rect x="1364" y="4" width="167" height="173.5" fill="#0a0a0a"/><circle cx="1446" cy="91" r="53" fill="none" stroke="#777" stroke-width="1.2" opacity="0.15"/><path d="M1499.0 91.0A53 53 0 0 1 1488.9 122.2" fill="none" stroke="#f0f0f0" stroke-width="1.9" opacity="0.26" stroke-dasharray="2.9 8.9 3.4 10.5 3.3 10.4"/><path d="M1488.9 122.2A53 53 0 0 1 1462.4 141.4" fill="none" stroke="#f0f0f0" stroke-width="1.9" opacity="0.37" stroke-dasharray="2.5 10.5 3.0 10.2 1.5 6.8"/><path d="M1462.4 141.4A53 53 0 0 1 1429.6 141.4" fill="none" stroke="#f0f0f0" stroke-width="1.9" opacity="0.66" stroke-dasharray="2.7 7.6 1.2 4.7 2.0 10.3 3.3 4.3"/><path d="M1429.6 141.4A53 53 0 0 1 1403.1 122.2" fill="none" stroke="#f0f0f0" stroke-width="1.9" opacity="0.70" stroke-dasharray="1.6 7.9 1.6 3.0 3.6 4.7 1.8 10.9"/><path d="M1403.1 122.2A53 53 0 0 1 1393.0 91.0" fill="none" stroke="#f0f0f0" stroke-width="1.9" opacity="0.61" stroke-dasharray="2.0 10.7 2.7 8.4 1.8 10.5"/><path d="M1393.0 91.0A53 53 0 0 1 1403.1 59.8" fill="none" stroke="#f0f0f0" stroke-width="1.9" opacity="0.56" stroke-dasharray="3.9 10.1 2.0 5.9 1.7 4.2 1.4 5.4"/><path d="M1403.1 59.8A53 53 0 0 1 1429.6 40.6" fill="none" stroke="#f0f0f0" stroke-width="1.9" opacity="0.61" stroke-dasharray="1.2 8.4 2.1 5.5 3.5 6.8 2.1 6.8"/><path d="M1429.6 40.6A53 53 0 0 1 1462.4 40.6" fill="none" stroke="#f0f0f0" stroke-width="1.9" opacity="0.55" stroke-dasharray="1.4 10.8 1.3 9.0 3.6 3.1 3.4 5.9"/><path d="M1462.4 40.6A53 53 0 0 1 1488.9 59.8" fill="none" stroke="#f0f0f0" stroke-width="1.9" opacity="0.43" stroke-dasharray="1.2 3.4 1.7 10.6 1.8 9.0 3.8 10.5"/><path d="M1488.9 59.8A53 53 0 0 1 1499.0 91.0" fill="none" stroke="#f0f0f0" stroke-width="1.9" opacity="0.74" stroke-dasharray="2.2 7.2 3.4 3.9 3.3 9.4 3.6 3.3"/><circle cx="1446" cy="91" r="65" fill="none" stroke="#777" stroke-width="1.2" opacity="0.15"/><path d="M1511.0 91.0A65 65 0 0 1 1498.6 129.2" fill="none" stroke="#f0f0f0" stroke-width="1.9" opacity="0.44" stroke-dasharray="1.5 5.7 2.9 10.3 2.2 10.4 2.7 5.5"/><path d="M1498.6 129.2A65 65 0 0 1 1466.1 152.8" fill="none" stroke="#f0f0f0" stroke-width="1.9" opacity="0.40" stroke-dasharray="1.7 3.6 1.6 8.5 4.0 4.3 1.3 10.9 2.7 6.2"/><path d="M1466.1 152.8A65 65 0 0 1 1425.9 152.8" fill="none" stroke="#f0f0f0" stroke-width="1.9" opacity="0.73" stroke-dasharray="2.9 9.6 2.5 6.4 1.4 10.3 1.3 6.9"/><path d="M1425.9 152.8A65 65 0 0 1 1393.4 129.2" fill="none" stroke="#f0f0f0" stroke-width="1.9" opacity="0.52" stroke-dasharray="1.6 8.9 3.9 8.0 3.4 3.9 2.4 4.2 3.6 5.4"/><path d="M1393.4 129.2A65 65 0 0 1 1381.0 91.0" fill="none" stroke="#f0f0f0" stroke-width="1.9" opacity="0.49" stroke-dasharray="4.0 9.8 3.9 6.6 2.6 8.8 2.5 5.3"/><path d="M1381.0 91.0A65 65 0 0 1 1393.4 52.8" fill="none" stroke="#f0f0f0" stroke-width="1.9" opacity="0.75" stroke-dasharray="1.6 6.0 4.0 10.7 3.0 7.0 2.1 3.7 2.0 9.3"/><path d="M1393.4 52.8A65 65 0 0 1 1425.9 29.2" fill="none" stroke="#f0f0f0" stroke-width="1.9" opacity="0.42" stroke-dasharray="2.2 9.3 3.4 8.6 3.1 9.1 2.2 8.6"/><path d="M1425.9 29.2A65 65 0 0 1 1466.1 29.2" fill="none" stroke="#f0f0f0" stroke-width="1.9" opacity="0.64" stroke-dasharray="2.6 9.2 3.1 5.4 3.8 8.2 2.8 3.1 2.7 5.0"/><path d="M1466.1 29.2A65 65 0 0 1 1498.6 52.8" fill="none" stroke="#f0f0f0" stroke-width="1.9" opacity="0.46" stroke-dasharray="2.5 9.5 3.0 9.4 2.2 8.2 3.3 9.6"/><path d="M1498.6 52.8A65 65 0 0 1 1511.0 91.0" fill="none" stroke="#f0f0f0" stroke-width="1.9" opacity="0.73" stroke-dasharray="3.6 10.0 3.1 10.8 3.9 7.1 2.7 4.3"/><circle cx="1446" cy="91" r="78" fill="none" stroke="#777" stroke-width="1.2" opacity="0.15"/><path d="M1524.0 91.0A78 78 0 0 1 1509.1 136.8" fill="none" stroke="#f0f0f0" stroke-width="1.9" opacity="0.49" stroke-dasharray="3.8 6.8 3.1 8.8 3.2 4.4 3.4 7.6 3.1 6.4"/><path d="M1509.1 136.8A78 78 0 0 1 1470.1 165.2" fill="none" stroke="#f0f0f0" stroke-width="1.9" opacity="0.31" stroke-dasharray="3.4 8.1 3.2 3.2 1.6 6.5 3.0 4.8 3.1 8.0 1.3 6.8"/><path d="M1470.1 165.2A78 78 0 0 1 1421.9 165.2" fill="none" stroke="#f0f0f0" stroke-width="1.9" opacity="0.34" stroke-dasharray="1.4 4.1 2.1 4.5 1.7 3.3 2.5 6.0 2.9 7.7 1.9 10.2 1.2 6.2"/><path d="M1421.9 165.2A78 78 0 0 1 1382.9 136.8" fill="none" stroke="#f0f0f0" stroke-width="1.9" opacity="0.40" stroke-dasharray="2.3 3.9 3.5 6.0 1.3 7.9 1.5 7.4 2.2 7.6 3.9 9.5"/><path d="M1382.9 136.8A78 78 0 0 1 1368.0 91.0" fill="none" stroke="#f0f0f0" stroke-width="1.9" opacity="0.61" stroke-dasharray="3.5 8.1 2.2 4.1 2.9 7.5 3.9 10.7 2.9 5.8"/><path d="M1368.0 91.0A78 78 0 0 1 1382.9 45.2" fill="none" stroke="#f0f0f0" stroke-width="1.9" opacity="0.38" stroke-dasharray="1.2 3.9 2.8 7.9 1.6 8.0 3.7 6.0 2.4 4.8 2.0 10.8"/><path d="M1382.9 45.2A78 78 0 0 1 1421.9 16.8" fill="none" stroke="#f0f0f0" stroke-width="1.9" opacity="0.34" stroke-dasharray="3.9 10.3 2.9 5.1 3.9 7.0 2.4 5.6 4.0 6.9"/><path d="M1421.9 16.8A78 78 0 0 1 1470.1 16.8" fill="none" stroke="#f0f0f0" stroke-width="1.9" opacity="0.32" stroke-dasharray="2.5 4.0 2.9 6.5 2.0 9.3 3.5 3.1 2.7 5.2 3.8 9.3"/><path d="M1470.1 16.8A78 78 0 0 1 1509.1 45.2" fill="none" stroke="#f0f0f0" stroke-width="1.9" opacity="0.45" stroke-dasharray="1.9 4.2 4.0 5.3 2.9 6.8 3.0 7.8 3.3 3.9 3.3 5.4"/><path d="M1509.1 45.2A78 78 0 0 1 1524.0 91.0" fill="none" stroke="#f0f0f0" stroke-width="1.9" opacity="0.46" stroke-dasharray="2.1 5.4 2.7 6.7 2.2 9.0 2.9 3.3 1.9 6.6 3.8 10.1"/><circle cx="1446" cy="91" r="90" fill="none" stroke="#777" stroke-width="1.2" opacity="0.15"/><path d="M1536.0 91.0A90 90 0 0 1 1518.8 143.9" fill="none" stroke="#f0f0f0" stroke-width="1.9" opacity="0.26" stroke-dasharray="1.2 9.2 2.4 7.6 3.2 8.1 2.5 10.3 2.3 6.1 3.6 4.6"/><path d="M1518.8 143.9A90 90 0 0 1 1473.8 176.6" fill="none" stroke="#f0f0f0" stroke-width="1.9" opacity="0.27" stroke-dasharray="3.5 3.5 3.5 8.6 2.4 5.3 3.4 10.3 1.6 6.8 2.7 7.0"/><path d="M1473.8 176.6A90 90 0 0 1 1418.2 176.6" fill="none" stroke="#f0f0f0" stroke-width="1.9" opacity="0.39" stroke-dasharray="1.6 7.7 3.5 3.5 1.8 9.6 3.4 8.3 1.3 8.8 3.9 11.0"/><path d="M1418.2 176.6A90 90 0 0 1 1373.2 143.9" fill="none" stroke="#f0f0f0" stroke-width="1.9" opacity="0.21" stroke-dasharray="1.3 9.7 1.8 8.2 3.9 8.7 1.6 5.3 3.8 4.2 2.9 6.3"/><path d="M1373.2 143.9A90 90 0 0 1 1356.0 91.0" fill="none" stroke="#f0f0f0" stroke-width="1.9" opacity="0.18" stroke-dasharray="2.9 3.3 1.5 6.0 1.4 3.5 2.8 8.9 3.7 4.1 2.4 5.5 2.9 6.9 3.8 6.0"/><path d="M1356.0 91.0A90 90 0 0 1 1373.2 38.1" fill="none" stroke="#f0f0f0" stroke-width="1.9" opacity="0.28" stroke-dasharray="3.2 4.2 3.0 7.0 3.7 7.4 2.9 5.1 2.7 5.0 3.3 7.1 1.6 4.9"/><path d="M1373.2 38.1A90 90 0 0 1 1418.2 5.4" fill="none" stroke="#f0f0f0" stroke-width="1.9" opacity="0.17" stroke-dasharray="3.3 4.4 3.2 8.2 1.4 8.3 1.5 4.0 2.9 4.9 3.7 6.8 2.1 9.4"/><path d="M1418.2 5.4A90 90 0 0 1 1473.8 5.4" fill="none" stroke="#f0f0f0" stroke-width="1.9" opacity="0.28" stroke-dasharray="3.2 3.4 1.6 10.6 3.1 4.8 1.5 10.8 3.1 9.6 1.6 8.0"/><path d="M1473.8 5.4A90 90 0 0 1 1518.8 38.1" fill="none" stroke="#f0f0f0" stroke-width="1.9" opacity="0.41" stroke-dasharray="1.9 5.7 2.9 5.8 2.3 4.1 3.5 8.2 3.5 6.5 3.6 7.1 2.9 7.6"/><path d="M1518.8 38.1A90 90 0 0 1 1536.0 91.0" fill="none" stroke="#f0f0f0" stroke-width="1.9" opacity="0.19" stroke-dasharray="2.3 3.8 1.3 4.6 1.3 10.1 2.5 9.1 1.2 6.8 3.7 8.0 2.4 6.7"/><circle cx="1446" cy="91" r="102" fill="none" stroke="#777" stroke-width="1.2" opacity="0.15"/><path d="M1548.0 91.0A102 102 0 0 1 1528.5 151.0" fill="none" stroke="#f0f0f0" stroke-width="1.9" opacity="0.48" stroke-dasharray="1.6 4.3 2.2 6.1 3.7 4.2 1.9 5.2 1.7 5.3 1.9 6.9 1.3 10.4 2.2 10.5"/><path d="M1528.5 151.0A102 102 0 0 1 1477.5 188.0" fill="none" stroke="#f0f0f0" stroke-width="1.9" opacity="0.32" stroke-dasharray="3.1 6.8 3.8 3.9 3.1 5.3 3.1 8.8 1.7 4.6 1.3 4.8 1.4 6.2 3.9 5.9"/><path d="M1477.5 188.0A102 102 0 0 1 1414.5 188.0" fill="none" stroke="#f0f0f0" stroke-width="1.9" opacity="0.36" stroke-dasharray="2.5 5.3 3.3 8.7 1.7 4.9 3.1 10.5 3.0 6.4 3.9 3.1 1.4 9.2"/><path d="M1414.5 188.0A102 102 0 0 1 1363.5 151.0" fill="none" stroke="#f0f0f0" stroke-width="1.9" opacity="0.22" stroke-dasharray="1.3 7.4 4.0 7.2 2.2 3.8 1.4 10.2 2.6 10.5 1.4 4.9 1.3 6.2"/><path d="M1363.5 151.0A102 102 0 0 1 1344.0 91.0" fill="none" stroke="#f0f0f0" stroke-width="1.9" opacity="0.55" stroke-dasharray="1.9 6.3 2.1 3.4 1.3 10.8 1.7 7.1 2.3 7.3 1.4 5.5 1.5 7.3 3.8 7.8"/><path d="M1344.0 91.0A102 102 0 0 1 1363.5 31.0" fill="none" stroke="#f0f0f0" stroke-width="1.9" opacity="0.51" stroke-dasharray="1.8 3.1 2.7 6.9 2.8 6.0 3.0 8.8 3.8 5.5 2.5 9.6 1.8 3.9 2.1 3.7"/><path d="M1363.5 31.0A102 102 0 0 1 1414.5 -6.0" fill="none" stroke="#f0f0f0" stroke-width="1.9" opacity="0.56" stroke-dasharray="3.5 5.5 1.6 3.7 1.9 3.7 2.4 7.6 1.9 3.5 3.2 3.4 1.8 5.3 2.2 3.8 2.4 5.5 3.3 7.4"/><path d="M1414.5 -6.0A102 102 0 0 1 1477.5 -6.0" fill="none" stroke="#f0f0f0" stroke-width="1.9" opacity="0.26" stroke-dasharray="3.0 9.1 2.8 6.5 3.5 8.2 3.9 8.8 3.2 5.1 3.5 6.1 1.6 3.5"/><path d="M1477.5 -6.0A102 102 0 0 1 1528.5 31.0" fill="none" stroke="#f0f0f0" stroke-width="1.9" opacity="0.33" stroke-dasharray="1.9 8.4 2.0 3.5 3.3 7.5 1.3 3.4 1.6 5.9 3.6 10.6 2.9 4.8 2.4 5.9"/><path d="M1528.5 31.0A102 102 0 0 1 1548.0 91.0" fill="none" stroke="#f0f0f0" stroke-width="1.9" opacity="0.38" stroke-dasharray="1.2 7.7 3.5 8.8 1.5 7.2 1.7 8.7 2.4 10.5 3.4 3.9 2.1 10.3"/><circle cx="1446" cy="91" r="116" fill="none" stroke="#777" stroke-width="1.2" opacity="0.15"/><path d="M1562.0 91.0A116 116 0 0 1 1539.8 159.2" fill="none" stroke="#f0f0f0" stroke-width="1.9" opacity="0.32" stroke-dasharray="2.4 6.5 3.3 10.5 2.7 10.8 2.9 3.8 3.5 6.4 1.3 10.8 1.3 7.6"/><path d="M1539.8 159.2A116 116 0 0 1 1481.8 201.3" fill="none" stroke="#f0f0f0" stroke-width="1.9" opacity="0.21" stroke-dasharray="3.7 6.1 1.8 5.2 1.8 7.5 2.2 9.0 1.9 5.8 1.9 10.9 3.6 9.8 2.9 6.2"/><path d="M1481.8 201.3A116 116 0 0 1 1410.2 201.3" fill="none" stroke="#f0f0f0" stroke-width="1.9" opacity="0.33" stroke-dasharray="3.5 6.9 1.3 4.4 1.5 8.7 3.7 4.6 3.4 5.6 3.1 9.9 2.9 9.4 2.3 3.1"/><path d="M1410.2 201.3A116 116 0 0 1 1352.2 159.2" fill="none" stroke="#f0f0f0" stroke-width="1.9" opacity="0.43" stroke-dasharray="2.8 4.5 2.3 5.5 1.3 5.5 2.3 6.8 3.2 6.2 4.0 9.5 3.8 8.5 3.1 7.3"/><path d="M1352.2 159.2A116 116 0 0 1 1330.0 91.0" fill="none" stroke="#f0f0f0" stroke-width="1.9" opacity="0.48" stroke-dasharray="2.2 7.7 3.1 7.2 2.0 3.6 1.4 5.8 2.8 9.1 3.2 5.5 3.8 5.2 3.2 3.6 3.3 8.4"/><path d="M1330.0 91.0A116 116 0 0 1 1352.2 22.8" fill="none" stroke="#f0f0f0" stroke-width="1.9" opacity="0.22" stroke-dasharray="3.7 8.5 3.5 8.9 2.9 4.7 2.6 10.2 1.9 10.8 2.7 6.1 1.2 6.1"/><path d="M1352.2 22.8A116 116 0 0 1 1410.2 -19.3" fill="none" stroke="#f0f0f0" stroke-width="1.9" opacity="0.21" stroke-dasharray="3.0 10.2 3.7 7.9 2.3 3.9 3.1 7.4 3.2 6.0 3.7 4.7 2.1 5.1 2.9 10.2"/><path d="M1410.2 -19.3A116 116 0 0 1 1481.8 -19.3" fill="none" stroke="#f0f0f0" stroke-width="1.9" opacity="0.22" stroke-dasharray="3.0 9.1 1.8 3.5 2.8 9.6 3.7 8.8 2.4 6.4 2.7 10.2 2.0 5.2 2.9 10.7"/><path d="M1481.8 -19.3A116 116 0 0 1 1539.8 22.8" fill="none" stroke="#f0f0f0" stroke-width="1.9" opacity="0.38" stroke-dasharray="1.3 3.9 2.8 7.8 1.7 4.5 2.9 8.2 3.1 8.8 1.4 6.9 3.5 10.7 2.1 9.8"/><path d="M1539.8 22.8A116 116 0 0 1 1562.0 91.0" fill="none" stroke="#f0f0f0" stroke-width="1.9" opacity="0.48" stroke-dasharray="3.8 4.8 3.2 9.7 2.5 3.8 1.7 4.3 1.5 4.2 2.9 3.8 3.3 8.9 3.5 9.4 3.2 10.4"/><circle cx="1446" cy="91" r="130" fill="none" stroke="#777" stroke-width="1.2" opacity="0.15"/><path d="M1576.0 91.0A130 130 0 0 1 1551.2 167.4" fill="none" stroke="#f0f0f0" stroke-width="1.9" opacity="0.36" stroke-dasharray="3.0 10.7 1.5 3.8 1.4 4.7 2.2 6.7 3.1 8.9 1.4 6.2 2.7 6.0 1.5 7.8 2.2 8.5"/><path d="M1551.2 167.4A130 130 0 0 1 1486.2 214.6" fill="none" stroke="#f0f0f0" stroke-width="1.9" opacity="0.39" stroke-dasharray="3.9 10.6 1.4 9.1 3.2 5.4 1.5 6.8 2.2 8.9 3.8 6.1 2.0 7.0 3.2 9.3"/><path d="M1486.2 214.6A130 130 0 0 1 1405.8 214.6" fill="none" stroke="#f0f0f0" stroke-width="1.9" opacity="0.48" stroke-dasharray="2.0 5.7 3.6 7.2 1.3 6.4 1.9 8.3 1.4 5.2 1.5 6.8 4.0 7.3 2.3 10.5 1.5 5.8"/><path d="M1405.8 214.6A130 130 0 0 1 1340.8 167.4" fill="none" stroke="#f0f0f0" stroke-width="1.9" opacity="0.47" stroke-dasharray="1.2 9.1 2.2 3.1 1.9 6.7 2.3 7.1 1.3 4.7 3.9 6.5 2.5 3.7 2.0 10.6 3.1 7.1 1.3 6.1"/><path d="M1340.8 167.4A130 130 0 0 1 1316.0 91.0" fill="none" stroke="#f0f0f0" stroke-width="1.9" opacity="0.23" stroke-dasharray="2.4 7.7 3.7 8.2 3.0 3.3 1.3 9.2 2.4 10.0 3.5 10.3 2.3 11.0 3.3 10.1"/><path d="M1316.0 91.0A130 130 0 0 1 1340.8 14.6" fill="none" stroke="#f0f0f0" stroke-width="1.9" opacity="0.18" stroke-dasharray="3.4 6.4 3.9 11.0 1.8 6.4 2.0 6.8 2.0 8.3 1.5 4.4 2.5 3.6 2.3 10.2 3.7 4.6"/><path d="M1340.8 14.6A130 130 0 0 1 1405.8 -32.6" fill="none" stroke="#f0f0f0" stroke-width="1.9" opacity="0.21" stroke-dasharray="3.5 10.7 2.9 4.1 1.9 10.4 3.8 3.2 1.7 6.4 1.9 9.0 2.2 9.2 1.6 7.1 3.9 8.6"/><path d="M1405.8 -32.6A130 130 0 0 1 1486.2 -32.6" fill="none" stroke="#f0f0f0" stroke-width="1.9" opacity="0.47" stroke-dasharray="1.5 8.1 2.2 5.9 2.5 7.7 3.9 4.9 2.8 5.1 2.7 8.9 1.6 6.8 3.2 3.1 3.4 6.4 2.6 7.9"/><path d="M1486.2 -32.6A130 130 0 0 1 1551.2 14.6" fill="none" stroke="#f0f0f0" stroke-width="1.9" opacity="0.52" stroke-dasharray="1.4 7.0 1.3 6.1 2.2 3.2 2.0 6.6 3.0 10.4 2.2 7.2 3.2 10.5 3.9 10.9 2.0 4.3"/><path d="M1551.2 14.6A130 130 0 0 1 1576.0 91.0" fill="none" stroke="#f0f0f0" stroke-width="1.9" opacity="0.27" stroke-dasharray="1.4 6.6 3.3 7.2 2.3 10.4 2.0 7.4 3.5 4.1 2.2 7.0 2.8 4.7 2.5 3.5 1.4 5.7 1.6 10.7"/><circle cx="1446" cy="91" r="146" fill="none" stroke="#777" stroke-width="1.2" opacity="0.15"/><path d="M1592.0 91.0A146 146 0 0 1 1564.1 176.8" fill="none" stroke="#f0f0f0" stroke-width="1.9" opacity="0.40" stroke-dasharray="2.0 9.3 3.3 5.1 3.5 8.0 2.3 8.0 1.9 5.1 3.7 6.5 3.7 4.4 1.6 3.4 3.3 7.5 1.2 3.3 3.5 7.0"/><path d="M1564.1 176.8A146 146 0 0 1 1491.1 229.9" fill="none" stroke="#f0f0f0" stroke-width="1.9" opacity="0.18" stroke-dasharray="1.3 7.7 1.5 8.8 2.9 7.9 1.8 10.6 1.5 3.5 3.1 3.7 1.4 6.7 3.0 10.1 3.2 3.6 3.0 9.7"/><path d="M1491.1 229.9A146 146 0 0 1 1400.9 229.9" fill="none" stroke="#f0f0f0" stroke-width="1.9" opacity="0.31" stroke-dasharray="3.3 5.1 2.0 3.0 3.3 7.1 3.7 6.7 1.6 4.7 1.9 10.6 1.8 3.7 2.2 3.6 2.4 8.0 3.0 4.4 1.6 6.9 3.1 6.6"/><path d="M1400.9 229.9A146 146 0 0 1 1327.9 176.8" fill="none" stroke="#f0f0f0" stroke-width="1.9" opacity="0.17" stroke-dasharray="3.8 4.2 1.9 7.0 2.7 10.2 2.8 8.3 2.4 9.3 3.5 5.3 1.5 5.1 2.2 10.1 1.9 8.0 3.0 10.6"/><path d="M1327.9 176.8A146 146 0 0 1 1300.0 91.0" fill="none" stroke="#f0f0f0" stroke-width="1.9" opacity="0.42" stroke-dasharray="3.4 5.7 1.5 8.1 3.6 7.7 1.3 10.8 2.3 8.1 3.2 5.1 2.3 5.6 1.5 3.5 3.2 6.3 3.6 3.5 2.0 4.4"/><path d="M1300.0 91.0A146 146 0 0 1 1327.9 5.2" fill="none" stroke="#f0f0f0" stroke-width="1.9" opacity="0.30" stroke-dasharray="3.4 10.2 2.6 3.8 2.4 4.8 1.3 7.5 2.0 3.9 2.6 10.5 3.8 6.7 1.5 9.1 1.5 7.3 1.4 10.9"/><path d="M1327.9 5.2A146 146 0 0 1 1400.9 -47.9" fill="none" stroke="#f0f0f0" stroke-width="1.9" opacity="0.31" stroke-dasharray="2.4 5.2 2.7 10.8 2.4 4.7 2.6 10.3 2.3 8.1 3.8 5.6 3.5 7.2 1.6 3.4 3.8 6.7 2.4 10.3"/><path d="M1400.9 -47.9A146 146 0 0 1 1491.1 -47.9" fill="none" stroke="#f0f0f0" stroke-width="1.9" opacity="0.25" stroke-dasharray="2.6 5.3 3.3 5.0 2.5 9.1 2.9 4.1 1.8 8.6 3.2 3.8 4.0 4.1 1.7 3.7 2.4 8.0 3.6 4.3 3.2 3.8 2.8 5.0"/><path d="M1491.1 -47.9A146 146 0 0 1 1564.1 5.2" fill="none" stroke="#f0f0f0" stroke-width="1.9" opacity="0.36" stroke-dasharray="1.3 8.8 1.5 9.1 2.1 7.7 3.0 6.9 3.6 10.4 2.0 5.7 3.7 4.1 2.4 6.3 3.9 4.0 3.0 9.1"/><path d="M1564.1 5.2A146 146 0 0 1 1592.0 91.0" fill="none" stroke="#f0f0f0" stroke-width="1.9" opacity="0.37" stroke-dasharray="1.2 10.5 2.1 9.8 3.1 6.4 3.5 8.4 2.2 8.9 2.6 8.7 2.9 9.4 1.6 7.0 1.2 9.3"/><g clip-path="url(#clipR)"><circle cx="1446" cy="91" r="41" fill="url(#glow)"/><path d="M1446 91 L1402 62 L1398 78Z M1446 91 L1428 132 L1446 134Z M1446 91 L1480 122 L1468 130Z M1446 91 L1405 100 L1407 112Z" fill="#fff" opacity="0.45" filter="url(#b4)"/></g><circle cx="1446" cy="91" r="40" fill="none" stroke="#fafafa" stroke-width="3"/><circle cx="1446" cy="91" r="35.5" fill="none" stroke="#f0f0f0" stroke-width="2.2" stroke-dasharray="3 4" opacity="0.9"/><circle cx="1446" cy="91" r="43" fill="none" stroke="#aaa" stroke-width="1.5" opacity="0.4" filter="url(#b2)"/><rect x="1446.3" y="4" width="84.7" height="95.6" fill="#fff"/><path d="M1455 99.6 L1531 99.6 L1531 106.5 Z" fill="#000"/><path d="M1434 91.3 L1446.3 86.9 L1446.3 95.8 Z" fill="#000"/></g><text x="1449" y="12.5" font-size="6.2" fill="#444" stroke="#444" stroke-width="0.2">311</text><text x="1449" y="26.5" font-size="6.2" fill="#444" stroke="#444" stroke-width="0.2">331</text><text x="1449" y="35.0" font-size="6.2" fill="#444" stroke="#444" stroke-width="0.2">220</text><text x="1449" y="52.0" font-size="6.2" fill="#444" stroke="#444" stroke-width="0.2">200</text><text x="1449" y="60.0" font-size="6.2" fill="#444" stroke="#444" stroke-width="0.2">111</text><text x="1449" y="94.0" font-size="6.2" fill="#444" stroke="#444" stroke-width="0.2">000</text><path d="M1470.5 26.5h6.5v-3.5l6.5 5.5l-6.5 5.5v-3.5h-6.5z" fill="#a8dce6" stroke="#7ab0bc" stroke-width="0.9"/><text x="1488.8" y="33.2" font-size="13" fill="#333">fcc</text><text x="1487" y="338.3" font-size="9.5" fill="#f4f4f4" textLength="22" lengthAdjust="spacingAndGlyphs">2 nm</text><rect x="1487" y="340.5" width="22" height="2" fill="#f4f4f4"/><g fill="#111" font-family='"Liberation Sans", sans-serif'><text x="13.5" y="435.4" font-size="25.0">左</text><text x="40.50" y="435.4" font-size="25.0">)</text><text x="57.64" y="435.4" font-size="25.0" textLength="30.24" lengthAdjust="spacingAndGlyphs">60</text><text x="89.4 114.4 139.4 164.4 189.4 214.4 239.4 264.4 289.4 314.4 339.4 364.4 389.4 414.4 439.4 464.4 489.4 514.4 539.4 564.4 589.4 614.4 639.4 664.4 689.4 714.4 739.4 764.4 789.4 814.4 839.4 864.4 889.4 914.4 939.4 964.4" y="435.4" font-size="25.0">秒照射した試料溶液を放置したときの放置時間にともなう吸収スペクトルの変化</text><text x="989.35" y="435.4" font-size="25.0">.</text><text x="13.8 38.8" y="473.3" font-size="25.0">中央</text><text x="65.00" y="473.3" font-size="25.0">)</text><text x="83.05" y="473.3" font-size="25.0" textLength="30.13" lengthAdjust="spacingAndGlyphs">60</text><text x="113.4 138.4 163.4 188.4 213.4 238.4 263.4 288.4 313.4 338.4 363.4 388.4 413.4 438.4 463.4 488.4 513.4 538.4 563.4 588.4 613.4 638.4 663.4 688.4 713.4 738.4" y="473.3" font-size="25.0">秒照射した試料溶液を放置したときの放置時間にともなう</text><text x="764.05" y="473.3" font-size="25.0" textLength="84.70" lengthAdjust="spacingAndGlyphs">400nm</text><text x="851.0 876.0 901.0 926.0 951.0 976.0 1001.0 1026.0" y="473.3" font-size="25.0">での吸光度の変化</text><text x="1050.35" y="473.3" font-size="25.0">.</text><text x="87.39" y="513.8" font-size="25.0" textLength="76.04" lengthAdjust="spacingAndGlyphs">HAuCl</text><text x="162.71" y="520.0" font-size="19.0" textLength="8.18" lengthAdjust="spacingAndGlyphs">4</text><text x="171.0 196.0 221.0 246.0 271.0" y="513.8" font-size="25.0">濃度の影響</text><text x="295.75" y="513.8" font-size="25.0">.</text><text x="314.80" y="513.8" font-size="25.0">(</text><text x="352.00" y="513.8" font-size="25.0">)</text><text x="361.80" y="513.8" font-size="25.0">;</text><text x="380.15" y="513.8" font-size="25.0" textLength="54.86" lengthAdjust="spacingAndGlyphs">0.40</text><text x="446.36" y="513.8" font-size="25.0" textLength="53.03" lengthAdjust="spacingAndGlyphs">mM,</text><text x="506.30" y="513.8" font-size="25.0">(</text><text x="544.00" y="513.8" font-size="25.0">)</text><text x="554.00" y="513.8" font-size="25.0">;</text><text x="572.15" y="513.8" font-size="25.0" textLength="54.86" lengthAdjust="spacingAndGlyphs">0.20</text><text x="635.02" y="513.8" font-size="25.0" textLength="54.44" lengthAdjust="spacingAndGlyphs">mM,</text><text x="698.50" y="513.8" font-size="25.0">(</text><text x="736.00" y="513.8" font-size="25.0">)</text><text x="745.80" y="513.8" font-size="25.0">;</text><text x="764.15" y="513.8" font-size="25.0" textLength="54.86" lengthAdjust="spacingAndGlyphs">0.13</text><text x="827.01" y="513.8" font-size="25.0" textLength="54.87" lengthAdjust="spacingAndGlyphs">mM.</text><path d="M337.6 493.3 L348.8 504.9 L337.6 516.5 L326.4 504.9 Z" fill="none" stroke="#333" stroke-width="1.2"/><rect x="520.8" y="496.7" width="17.2" height="16.4" fill="none" stroke="#222" stroke-width="1.3"/><circle cx="721.5" cy="504.9" r="9.4" fill="none" stroke="#222" stroke-width="1.3"/><text x="13.5" y="551.7" font-size="25.0">右</text><text x="36.0" y="551.7" font-size="25.0">）</text><text x="63.8 88.8 113.8 138.8 163.8 188.8 213.8" y="551.7" font-size="25.0">金ナノロッドの</text><text x="241.54" y="551.7" font-size="25.0" textLength="48.12" lengthAdjust="spacingAndGlyphs">TEM</text><text x="289.5 314.5 339.5 364.5 389.5 414.5 439.5 464.5" y="551.7" font-size="25.0">像と電子線回折像</text></g></svg>

</body></html>
